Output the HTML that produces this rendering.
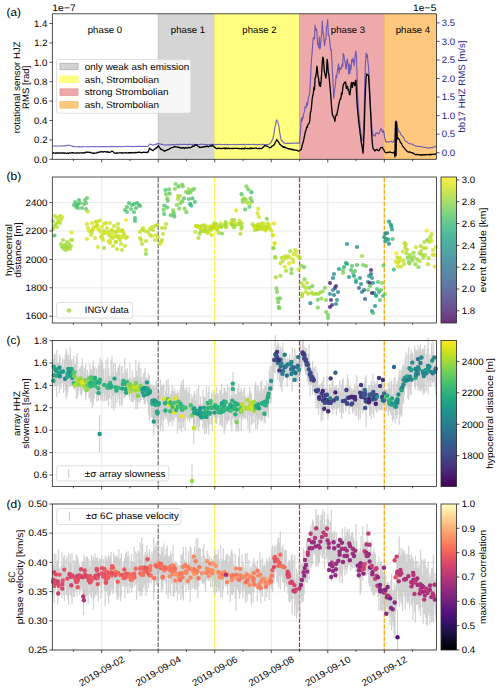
<!DOCTYPE html>
<html><head><meta charset="utf-8"><style>
html,body{margin:0;padding:0;background:#fff;width:500px;height:692px;overflow:hidden}
svg{display:block}
text{font-family:"Liberation Sans",sans-serif}
</style></head><body>
<svg width="500" height="692" viewBox="0 0 500 692">
<rect width="500" height="692" fill="#fff"/>
<rect x="158.22" y="13.80" width="56.52" height="145.50" fill="#d5d5d5"/>
<line x1="158.22" y1="13.80" x2="158.22" y2="159.30" stroke="#bdbdbd" stroke-width="0.8"/>
<rect x="214.74" y="13.80" width="84.78" height="145.50" fill="#ffff80"/>
<line x1="214.74" y1="13.80" x2="214.74" y2="159.30" stroke="#f0f060" stroke-width="0.8"/>
<rect x="299.52" y="13.80" width="84.78" height="145.50" fill="#eeaaaa"/>
<line x1="299.52" y1="13.80" x2="299.52" y2="159.30" stroke="#e09090" stroke-width="0.8"/>
<rect x="384.30" y="13.80" width="52.20" height="145.50" fill="#fec97f"/>
<line x1="384.30" y1="13.80" x2="384.30" y2="159.30" stroke="#f5b060" stroke-width="0.8"/>
<text x="105.00" y="33.00" text-anchor="middle" fill="#000" font-size="9.4" textLength="34.56" lengthAdjust="spacingAndGlyphs" transform="translate(105.00 33.00) skewX(1) translate(-105.00 -33.00)">phase 0</text>
<text x="188.00" y="33.00" text-anchor="middle" fill="#000" font-size="9.4" textLength="34.44" lengthAdjust="spacingAndGlyphs" transform="translate(188.00 33.00) skewX(1) translate(-188.00 -33.00)">phase 1</text>
<text x="259.50" y="33.00" text-anchor="middle" fill="#000" font-size="9.4" textLength="34.37" lengthAdjust="spacingAndGlyphs" transform="translate(259.50 33.00) skewX(1) translate(-259.50 -33.00)">phase 2</text>
<text x="348.00" y="33.00" text-anchor="middle" fill="#000" font-size="9.4" textLength="34.49" lengthAdjust="spacingAndGlyphs" transform="translate(348.00 33.00) skewX(1) translate(-348.00 -33.00)">phase 3</text>
<text x="413.00" y="33.00" text-anchor="middle" fill="#000" font-size="9.4" textLength="34.56" lengthAdjust="spacingAndGlyphs" transform="translate(413.00 33.00) skewX(1) translate(-413.00 -33.00)">phase 4</text>
<polyline points="52.30,146.00 52.90,146.02 53.50,145.98 54.10,145.93 54.70,145.96 55.30,145.92 55.90,146.00 56.50,146.11 57.10,145.96 57.70,145.95 58.30,146.04 58.90,146.03 59.50,146.01 60.10,145.93 60.70,146.00 61.30,146.06 61.90,145.89 62.50,145.96 63.10,145.85 63.70,145.90 64.30,145.80 64.90,145.84 65.50,145.65 66.10,145.69 66.70,145.58 67.30,145.45 67.90,145.11 68.50,145.22 69.10,145.23 69.70,145.44 70.30,145.49 70.90,145.79 71.50,145.96 72.10,146.16 72.70,146.42 73.30,146.40 73.90,146.58 74.50,146.77 75.10,146.75 75.70,146.79 76.30,146.80 76.90,146.79 77.50,146.69 78.10,146.79 78.70,146.89 79.30,146.65 79.90,146.84 80.50,146.78 81.10,146.72 81.70,146.92 82.30,146.82 82.90,146.66 83.50,146.76 84.10,146.80 84.70,146.73 85.30,146.80 85.90,146.73 86.50,146.79 87.10,146.85 87.70,146.68 88.30,146.74 88.90,146.69 89.50,146.73 90.10,146.62 90.70,146.67 91.30,146.69 91.90,146.78 92.50,146.80 93.10,146.59 93.70,146.63 94.30,146.75 94.90,146.53 95.50,146.65 96.10,146.68 96.70,146.78 97.30,146.73 97.90,146.65 98.50,146.64 99.10,146.65 99.70,146.79 100.30,146.63 100.90,146.63 101.50,146.68 102.10,146.64 102.70,146.63 103.30,146.56 103.90,146.64 104.50,146.60 105.10,146.73 105.70,146.68 106.30,146.63 106.90,146.68 107.50,146.59 108.10,146.70 108.70,146.61 109.30,146.66 109.90,146.51 110.50,146.63 111.10,146.47 111.70,146.44 112.30,146.57 112.90,146.52 113.50,146.60 114.10,146.77 114.70,146.52 115.30,146.53 115.90,146.59 116.50,146.61 117.10,146.56 117.70,146.55 118.30,146.62 118.90,146.60 119.50,146.47 120.10,146.55 120.70,146.55 121.30,146.46 121.90,146.56 122.50,146.47 123.10,146.61 123.70,146.55 124.30,146.54 124.90,146.48 125.50,146.51 126.10,146.36 126.70,146.43 127.30,146.54 127.90,146.34 128.50,146.57 129.10,146.36 129.70,146.56 130.30,146.43 130.90,146.56 131.50,146.50 132.10,146.36 132.70,146.58 133.30,146.60 133.90,146.47 134.50,146.45 135.10,146.46 135.70,146.39 136.30,146.55 136.90,146.42 137.50,146.45 138.10,146.39 138.70,146.40 139.30,146.35 139.90,146.54 140.50,146.43 141.10,146.52 141.70,146.44 142.30,146.38 142.90,146.40 143.50,146.38 144.10,146.42 144.70,146.39 145.30,146.39 145.90,146.30 146.50,146.34 147.10,146.54 147.70,146.35 148.30,145.83 148.90,145.00 149.50,144.23 150.10,143.99 150.70,144.38 151.30,144.53 151.90,144.60 152.50,145.12 153.10,145.17 153.70,144.98 154.30,144.69 154.90,144.65 155.50,144.32 156.10,144.19 156.70,143.84 157.30,143.62 157.90,143.87 158.50,143.61 159.10,143.87 159.70,143.93 160.30,143.99 160.90,144.10 161.50,144.39 162.10,144.38 162.70,144.52 163.30,144.66 163.90,144.93 164.50,144.98 165.10,145.04 165.70,144.90 166.30,144.77 166.90,145.02 167.50,145.00 168.10,144.83 168.70,144.88 169.30,144.89 169.90,144.86 170.50,144.85 171.10,144.63 171.70,144.87 172.30,144.47 172.90,144.72 173.50,144.64 174.10,144.67 174.70,144.78 175.30,144.71 175.90,144.34 176.50,144.26 177.10,144.61 177.70,144.36 178.30,144.50 178.90,144.62 179.50,144.27 180.10,144.20 180.70,144.54 181.30,144.51 181.90,144.47 182.50,144.51 183.10,144.38 183.70,144.29 184.30,144.48 184.90,144.36 185.50,144.27 186.10,144.57 186.70,144.49 187.30,144.56 187.90,144.36 188.50,144.41 189.10,144.36 189.70,144.38 190.30,144.53 190.90,144.39 191.50,144.55 192.10,144.55 192.70,144.78 193.30,144.31 193.90,144.62 194.50,144.49 195.10,144.50 195.70,144.30 196.30,144.44 196.90,144.60 197.50,144.49 198.10,144.51 198.70,144.46 199.30,144.66 199.90,144.50 200.50,144.19 201.10,144.40 201.70,144.22 202.30,144.04 202.90,144.43 203.50,144.69 204.10,144.51 204.70,144.34 205.30,144.37 205.90,144.66 206.50,144.52 207.10,144.51 207.70,144.49 208.30,144.51 208.90,144.61 209.50,144.58 210.10,144.53 210.70,144.35 211.30,144.57 211.90,144.40 212.50,144.65 213.10,144.32 213.70,144.48 214.30,144.50 214.90,144.31 215.50,144.74 216.10,144.70 216.70,144.44 217.30,144.61 217.90,144.55 218.50,144.13 219.10,144.54 219.70,144.49 220.30,144.51 220.90,144.35 221.50,144.46 222.10,144.48 222.70,144.67 223.30,144.55 223.90,144.50 224.50,144.71 225.10,144.42 225.70,144.45 226.30,144.25 226.90,144.72 227.50,144.64 228.10,144.63 228.70,144.59 229.30,144.52 229.90,144.53 230.50,144.46 231.10,144.47 231.70,144.51 232.30,144.71 232.90,144.58 233.50,144.49 234.10,144.42 234.70,144.41 235.30,144.72 235.90,144.57 236.50,144.51 237.10,144.45 237.70,144.34 238.30,144.49 238.90,144.62 239.50,144.45 240.10,144.47 240.70,144.47 241.30,144.52 241.90,144.28 242.50,144.47 243.10,144.38 243.70,144.62 244.30,144.39 244.90,144.58 245.50,144.71 246.10,144.46 246.70,144.42 247.30,144.53 247.90,144.50 248.50,144.36 249.10,144.56 249.70,144.78 250.30,144.46 250.90,144.47 251.50,144.35 252.10,144.54 252.70,144.33 253.30,144.35 253.90,144.68 254.50,144.37 255.10,144.65 255.70,144.71 256.30,144.54 256.90,144.58 257.50,144.77 258.10,144.47 258.70,144.42 259.30,144.31 259.90,144.51 260.50,144.71 261.10,144.63 261.70,144.37 262.30,144.38 262.90,144.43 263.50,144.54 264.10,144.47 264.70,144.53 265.30,144.54 265.90,144.46 266.50,144.49 267.10,144.53 267.70,144.49 268.30,144.42 268.90,144.35 269.50,143.85 270.10,143.46 270.70,142.82 271.30,142.41 271.90,140.43 272.50,139.15 273.10,138.32 273.70,135.20 274.30,131.58 274.90,127.19 275.50,125.04 276.10,121.53 276.70,119.81 277.30,121.69 277.90,122.45 278.50,124.67 279.10,127.69 279.70,132.16 280.30,135.71 280.90,139.00 281.50,140.47 282.10,140.64 282.70,141.78 283.30,142.27 283.90,142.77 284.50,142.97 285.10,143.59 285.70,143.45 286.30,143.38 286.90,143.37 287.50,143.18 288.10,143.13 288.70,143.52 289.30,143.32 289.90,143.37 290.50,143.50 291.10,142.96 291.70,143.12 292.30,143.28 292.90,143.30 293.50,143.14 294.10,143.39 294.70,143.21 295.30,142.91 295.90,142.95 296.50,143.26 297.10,143.18 297.70,142.69 298.30,143.31 298.90,143.14 299.50,143.27 300.10,135.96 300.70,127.67 301.30,118.53 301.90,121.58 302.50,117.19 303.10,118.22 303.70,113.50 304.30,112.21 304.90,107.00 305.50,106.58 306.10,107.66 306.70,102.64 307.30,105.51 307.90,102.39 308.50,97.33 309.10,95.94 309.70,93.23 310.30,83.29 310.90,71.00 311.50,58.96 312.10,52.83 312.70,44.49 313.30,37.76 313.90,37.69 314.50,38.89 315.10,25.19 315.70,30.48 316.30,28.67 316.90,30.88 317.50,44.50 318.10,44.02 318.70,47.73 319.30,36.99 319.90,49.11 320.50,46.30 321.10,37.99 321.70,34.00 322.30,20.97 322.90,30.65 323.50,35.12 324.10,41.71 324.70,46.03 325.30,39.47 325.90,39.38 326.50,27.00 327.10,25.04 327.70,19.50 328.30,35.57 328.90,34.84 329.50,38.13 330.10,45.19 330.70,49.86 331.30,49.24 331.90,61.33 332.50,73.60 333.10,83.77 333.70,98.11 334.30,93.01 334.90,87.98 335.50,83.99 336.10,75.32 336.70,77.50 337.30,71.45 337.90,68.22 338.50,63.75 339.10,73.48 339.70,67.06 340.30,69.46 340.90,69.19 341.50,67.75 342.10,63.80 342.70,66.75 343.30,53.57 343.90,54.88 344.50,59.91 345.10,61.98 345.70,69.07 346.30,68.15 346.90,61.02 347.50,58.97 348.10,65.51 348.70,74.02 349.30,64.17 349.90,73.34 350.50,65.33 351.10,69.16 351.70,59.56 352.30,62.25 352.90,58.11 353.50,59.90 354.10,66.03 354.70,61.17 355.30,53.73 355.90,51.13 356.50,57.63 357.10,76.56 357.70,96.81 358.30,107.39 358.90,114.00 359.50,119.50 360.10,126.83 360.70,131.06 361.30,135.94 361.90,140.12 362.50,140.75 363.10,140.57 363.70,123.75 364.30,103.58 364.90,78.63 365.50,63.98 366.10,53.18 366.70,57.09 367.30,54.45 367.90,61.44 368.50,66.97 369.10,76.33 369.70,88.08 370.30,103.04 370.90,112.48 371.50,121.89 372.10,128.88 372.70,133.90 373.30,135.26 373.90,135.17 374.50,136.14 375.10,135.58 375.70,133.40 376.30,133.38 376.90,132.63 377.50,133.05 378.10,133.50 378.70,134.14 379.30,132.59 379.90,131.19 380.50,129.16 381.10,128.64 381.70,129.46 382.30,132.26 382.90,132.49 383.50,130.35 384.10,133.25 384.70,137.93 385.30,139.37 385.90,141.83 386.50,142.07 387.10,142.08 387.70,142.11 388.30,141.86 388.90,141.83 389.50,141.90 390.10,141.70 390.70,141.50 391.30,141.15 391.90,141.83 392.50,142.13 393.10,142.23 393.70,141.42 394.30,140.09 394.90,140.07 395.50,121.68 396.10,120.41 396.70,126.32 397.30,127.21 397.90,128.51 398.50,129.82 399.10,131.93 399.70,131.71 400.30,133.02 400.90,134.75 401.50,135.50 402.10,135.58 402.70,136.52 403.30,137.11 403.90,138.37 404.50,139.78 405.10,140.75 405.70,141.17 406.30,141.80 406.90,141.76 407.50,142.33 408.10,142.90 408.70,143.26 409.30,143.58 409.90,143.65 410.50,143.73 411.10,144.04 411.70,144.03 412.30,144.14 412.90,144.74 413.50,144.95 414.10,145.30 414.70,145.40 415.30,145.83 415.90,146.11 416.50,146.20 417.10,146.15 417.70,146.36 418.30,146.52 418.90,146.54 419.50,146.52 420.10,146.63 420.70,146.75 421.30,146.53 421.90,146.80 422.50,146.96 423.10,147.09 423.70,147.29 424.30,147.37 424.90,147.42 425.50,147.54 426.10,147.70 426.70,147.71 427.30,147.87 427.90,148.07 428.50,148.12 429.10,147.87 429.70,147.81 430.30,147.75 430.90,147.77 431.50,147.58 432.10,147.63 432.70,147.36 433.30,147.24 433.90,147.04 434.50,146.92 435.10,146.74 435.70,146.34 436.30,146.19" fill="none" stroke="#5346b5" stroke-width="1.15" stroke-opacity="0.8" stroke-linejoin="round"/>
<polyline points="52.30,153.07 52.90,152.87 53.50,152.70 54.10,153.21 54.70,153.10 55.30,153.10 55.90,152.90 56.50,153.21 57.10,152.95 57.70,153.22 58.30,152.82 58.90,152.83 59.50,153.04 60.10,152.86 60.70,153.14 61.30,153.05 61.90,152.82 62.50,153.01 63.10,152.93 63.70,153.18 64.30,152.87 64.90,152.91 65.50,153.24 66.10,153.45 66.70,153.40 67.30,153.01 67.90,153.04 68.50,153.31 69.10,152.98 69.70,152.80 70.30,153.02 70.90,153.09 71.50,152.83 72.10,152.67 72.70,152.71 73.30,153.13 73.90,152.85 74.50,152.97 75.10,153.04 75.70,153.12 76.30,152.93 76.90,153.10 77.50,152.82 78.10,152.93 78.70,152.80 79.30,153.23 79.90,152.99 80.50,152.85 81.10,152.93 81.70,152.96 82.30,153.14 82.90,152.68 83.50,152.79 84.10,152.87 84.70,153.16 85.30,152.54 85.90,152.03 86.50,152.17 87.10,152.47 87.70,152.04 88.30,152.04 88.90,152.39 89.50,152.27 90.10,152.36 90.70,152.31 91.30,152.97 91.90,153.11 92.50,153.06 93.10,153.27 93.70,152.90 94.30,153.46 94.90,153.16 95.50,153.15 96.10,153.06 96.70,152.72 97.30,152.32 97.90,152.60 98.50,152.24 99.10,152.19 99.70,152.00 100.30,151.91 100.90,151.39 101.50,151.96 102.10,151.66 102.70,151.89 103.30,152.13 103.90,151.79 104.50,151.49 105.10,151.73 105.70,151.73 106.30,151.93 106.90,152.11 107.50,151.75 108.10,152.28 108.70,151.97 109.30,152.39 109.90,152.37 110.50,152.04 111.10,151.73 111.70,151.27 112.30,151.26 112.90,151.40 113.50,152.09 114.10,152.83 114.70,153.22 115.30,153.26 115.90,153.12 116.50,152.84 117.10,153.25 117.70,152.94 118.30,152.93 118.90,152.87 119.50,152.94 120.10,152.82 120.70,152.88 121.30,152.67 121.90,152.80 122.50,153.32 123.10,152.84 123.70,152.79 124.30,152.94 124.90,152.96 125.50,152.59 126.10,152.76 126.70,152.97 127.30,152.83 127.90,152.79 128.50,153.07 129.10,152.61 129.70,152.75 130.30,152.62 130.90,153.01 131.50,152.31 132.10,152.56 132.70,152.57 133.30,152.80 133.90,152.78 134.50,152.92 135.10,152.32 135.70,152.77 136.30,152.55 136.90,152.47 137.50,152.70 138.10,152.40 138.70,152.15 139.30,152.48 139.90,152.25 140.50,152.41 141.10,152.60 141.70,152.58 142.30,152.82 142.90,152.45 143.50,152.18 144.10,152.32 144.70,152.28 145.30,152.21 145.90,152.53 146.50,152.30 147.10,152.02 147.70,152.54 148.30,151.54 148.90,149.95 149.50,148.23 150.10,148.76 150.70,149.03 151.30,149.70 151.90,149.93 152.50,150.34 153.10,150.60 153.70,149.74 154.30,149.51 154.90,148.99 155.50,148.61 156.10,147.72 156.70,148.03 157.30,147.13 157.90,146.24 158.50,145.79 159.10,146.98 159.70,147.78 160.30,148.36 160.90,149.30 161.50,149.46 162.10,149.95 162.70,149.94 163.30,150.31 163.90,150.76 164.50,151.31 165.10,150.75 165.70,150.60 166.30,150.26 166.90,150.32 167.50,149.67 168.10,149.53 168.70,149.37 169.30,148.89 169.90,148.62 170.50,148.46 171.10,147.79 171.70,147.68 172.30,147.68 172.90,147.56 173.50,147.21 174.10,146.48 174.70,146.59 175.30,146.91 175.90,146.98 176.50,146.94 177.10,146.85 177.70,147.43 178.30,147.23 178.90,147.22 179.50,147.46 180.10,148.19 180.70,147.86 181.30,148.11 181.90,147.67 182.50,148.05 183.10,147.64 183.70,147.76 184.30,148.46 184.90,148.00 185.50,147.67 186.10,147.78 186.70,147.89 187.30,148.12 187.90,147.67 188.50,147.34 189.10,147.73 189.70,147.80 190.30,147.66 190.90,147.67 191.50,147.07 192.10,146.89 192.70,145.97 193.30,146.26 193.90,146.35 194.50,145.59 195.10,145.08 195.70,144.72 196.30,145.37 196.90,144.86 197.50,145.59 198.10,146.22 198.70,146.75 199.30,146.85 199.90,147.51 200.50,147.34 201.10,147.36 201.70,147.19 202.30,146.80 202.90,147.03 203.50,147.19 204.10,146.55 204.70,146.67 205.30,146.84 205.90,146.22 206.50,146.51 207.10,146.03 207.70,146.61 208.30,146.89 208.90,146.71 209.50,145.90 210.10,146.11 210.70,145.81 211.30,145.71 211.90,146.09 212.50,145.04 213.10,145.85 213.70,146.08 214.30,147.12 214.90,147.35 215.50,147.72 216.10,148.47 216.70,148.58 217.30,148.41 217.90,148.52 218.50,148.27 219.10,147.87 219.70,148.62 220.30,148.57 220.90,148.44 221.50,148.42 222.10,148.66 222.70,148.29 223.30,148.22 223.90,148.35 224.50,148.69 225.10,148.06 225.70,148.70 226.30,148.24 226.90,148.13 227.50,148.71 228.10,148.38 228.70,148.08 229.30,148.31 229.90,148.63 230.50,148.70 231.10,148.29 231.70,148.50 232.30,148.58 232.90,148.24 233.50,148.49 234.10,148.39 234.70,148.27 235.30,148.28 235.90,148.42 236.50,148.41 237.10,148.26 237.70,148.29 238.30,148.68 238.90,148.45 239.50,148.62 240.10,148.70 240.70,148.55 241.30,148.96 241.90,148.20 242.50,148.60 243.10,148.32 243.70,148.86 244.30,148.82 244.90,147.92 245.50,148.16 246.10,148.56 246.70,148.60 247.30,148.58 247.90,148.38 248.50,148.51 249.10,148.56 249.70,148.38 250.30,148.65 250.90,147.84 251.50,148.56 252.10,148.14 252.70,148.64 253.30,148.34 253.90,148.18 254.50,148.49 255.10,148.17 255.70,148.17 256.30,148.01 256.90,148.39 257.50,148.52 258.10,148.65 258.70,148.36 259.30,148.66 259.90,148.40 260.50,148.38 261.10,148.54 261.70,148.66 262.30,148.01 262.90,147.43 263.50,146.85 264.10,146.33 264.70,145.40 265.30,145.87 265.90,145.65 266.50,146.18 267.10,146.02 267.70,146.64 268.30,146.90 268.90,146.92 269.50,147.86 270.10,147.54 270.70,147.57 271.30,146.97 271.90,146.11 272.50,145.81 273.10,145.71 273.70,145.21 274.30,144.52 274.90,143.39 275.50,141.73 276.10,141.40 276.70,139.42 277.30,140.63 277.90,141.02 278.50,141.94 279.10,143.06 279.70,144.15 280.30,144.45 280.90,145.28 281.50,145.85 282.10,145.78 282.70,146.35 283.30,147.33 283.90,146.78 284.50,147.50 285.10,147.15 285.70,147.79 286.30,147.81 286.90,148.05 287.50,148.39 288.10,148.86 288.70,148.66 289.30,148.82 289.90,148.75 290.50,149.24 291.10,149.17 291.70,149.54 292.30,149.47 292.90,149.97 293.50,149.32 294.10,149.79 294.70,150.16 295.30,150.03 295.90,150.07 296.50,150.30 297.10,150.20 297.70,150.63 298.30,151.22 298.90,151.08 299.50,150.76 300.10,150.28 300.70,149.73 301.30,149.36 301.90,146.48 302.50,144.07 303.10,142.32 303.70,139.97 304.30,136.91 304.90,133.99 305.50,131.22 306.10,130.00 306.70,126.88 307.30,127.62 307.90,124.55 308.50,123.83 309.10,123.52 309.70,120.93 310.30,113.38 310.90,111.24 311.50,107.01 312.10,99.83 312.70,95.79 313.30,93.67 313.90,87.09 314.50,89.77 315.10,77.77 315.70,76.92 316.30,73.20 316.90,66.05 317.50,70.62 318.10,76.69 318.70,79.14 319.30,85.74 319.90,82.35 320.50,86.32 321.10,81.13 321.70,72.53 322.30,61.66 322.90,57.18 323.50,59.17 324.10,69.14 324.70,73.19 325.30,75.48 325.90,78.00 326.50,73.30 327.10,59.40 327.70,63.21 328.30,72.78 328.90,74.39 329.50,81.31 330.10,87.76 330.70,94.52 331.30,103.58 331.90,109.85 332.50,115.16 333.10,115.88 333.70,117.04 334.30,118.46 334.90,121.46 335.50,116.87 336.10,114.97 336.70,115.32 337.30,112.17 337.90,109.40 338.50,106.22 339.10,102.92 339.70,100.81 340.30,98.70 340.90,98.77 341.50,92.86 342.10,94.48 342.70,88.94 343.30,84.53 343.90,83.86 344.50,82.23 345.10,82.87 345.70,82.06 346.30,88.45 346.90,86.83 347.50,86.15 348.10,90.43 348.70,89.22 349.30,94.18 349.90,94.73 350.50,91.00 351.10,83.89 351.70,82.43 352.30,87.39 352.90,83.59 353.50,82.30 354.10,83.67 354.70,85.72 355.30,81.91 355.90,80.28 356.50,92.65 357.10,103.93 357.70,111.73 358.30,117.68 358.90,123.74 359.50,127.68 360.10,133.13 360.70,137.43 361.30,142.63 361.90,145.50 362.50,149.53 363.10,153.13 363.70,141.12 364.30,127.26 364.90,105.16 365.50,88.72 366.10,77.02 366.70,73.97 367.30,75.14 367.90,74.96 368.50,75.13 369.10,85.15 369.70,95.51 370.30,107.01 370.90,118.09 371.50,131.78 372.10,139.64 372.70,147.02 373.30,148.93 373.90,149.28 374.50,150.87 375.10,150.88 375.70,150.16 376.30,149.46 376.90,149.30 377.50,149.91 378.10,150.49 378.70,150.74 379.30,150.35 379.90,148.99 380.50,147.84 381.10,147.70 381.70,147.70 382.30,147.18 382.90,148.51 383.50,149.42 384.10,150.45 384.70,151.64 385.30,152.40 385.90,152.69 386.50,152.70 387.10,152.80 387.70,152.26 388.30,152.48 388.90,152.23 389.50,152.16 390.10,151.96 390.70,152.23 391.30,152.50 391.90,152.78 392.50,152.90 393.10,152.79 393.70,152.45 394.30,151.93 394.90,156.93 395.50,121.95 396.10,155.50 396.70,121.98 397.30,139.11 397.90,137.71 398.50,138.70 399.10,139.33 399.70,140.39 400.30,142.43 400.90,142.93 401.50,143.25 402.10,145.07 402.70,146.25 403.30,146.73 403.90,147.66 404.50,148.43 405.10,149.17 405.70,149.84 406.30,150.55 406.90,151.15 407.50,151.75 408.10,152.02 408.70,152.03 409.30,151.74 409.90,152.17 410.50,152.41 411.10,152.42 411.70,152.83 412.30,152.72 412.90,152.88 413.50,153.65 414.10,153.80 414.70,154.01 415.30,154.45 415.90,154.78 416.50,154.72 417.10,154.20 417.70,154.59 418.30,154.67 418.90,154.60 419.50,154.87 420.10,155.11 420.70,154.81 421.30,154.71 421.90,155.38 422.50,154.86 423.10,154.67 423.70,154.93 424.30,154.93 424.90,154.67 425.50,154.93 426.10,154.64 426.70,154.52 427.30,154.70 427.90,154.78 428.50,154.46 429.10,154.61 429.70,154.48 430.30,155.02 430.90,154.27 431.50,154.65 432.10,154.32 432.70,154.26 433.30,154.39 433.90,154.38 434.50,154.41 435.10,154.18 435.70,153.95 436.30,153.92" fill="none" stroke="#000000" stroke-width="1.3" stroke-opacity="1" stroke-linejoin="round"/>
<rect x="56.60" y="59.60" width="134.20" height="53.60" rx="2" ry="2" fill="#ffffff" fill-opacity="0.8" stroke="#d6d6d6" stroke-width="0.8"/>
<rect x="60" y="63.30" width="18" height="6.4" fill="#d3d3d3" stroke="#b0b0b0" stroke-width="0.8"/>
<text x="84.80" y="69.80" text-anchor="start" fill="#000" font-size="9.4" textLength="104.50" lengthAdjust="spacingAndGlyphs" transform="translate(84.80 69.80) skewX(1) translate(-84.80 -69.80)">only weak ash emission</text>
<rect x="60" y="76.10" width="18" height="6.4" fill="#ffff80" stroke="#ffff60" stroke-width="0.8"/>
<text x="84.80" y="82.60" text-anchor="start" fill="#000" font-size="9.4" textLength="74.18" lengthAdjust="spacingAndGlyphs" transform="translate(84.80 82.60) skewX(1) translate(-84.80 -82.60)">ash, Strombolian</text>
<rect x="60" y="88.90" width="18" height="6.4" fill="#eeaaaa" stroke="#e08f8f" stroke-width="0.8"/>
<text x="84.80" y="95.40" text-anchor="start" fill="#000" font-size="9.4" textLength="83.74" lengthAdjust="spacingAndGlyphs" transform="translate(84.80 95.40) skewX(1) translate(-84.80 -95.40)">strong Strombolian</text>
<rect x="60" y="101.70" width="18" height="6.4" fill="#fec97f" stroke="#f8b860" stroke-width="0.8"/>
<text x="84.80" y="108.20" text-anchor="start" fill="#000" font-size="9.4" textLength="74.18" lengthAdjust="spacingAndGlyphs" transform="translate(84.80 108.20) skewX(1) translate(-84.80 -108.20)">ash, Strombolian</text>
<rect x="52.30" y="13.80" width="384.20" height="145.50" fill="none" stroke="#262626" stroke-width="0.8"/>
<line x1="73.44" y1="159.30" x2="73.44" y2="161.10" stroke="#262626" stroke-width="0.8"/>
<line x1="101.70" y1="159.30" x2="101.70" y2="162.40" stroke="#262626" stroke-width="0.8"/>
<line x1="129.96" y1="159.30" x2="129.96" y2="161.10" stroke="#262626" stroke-width="0.8"/>
<line x1="158.22" y1="159.30" x2="158.22" y2="162.40" stroke="#262626" stroke-width="0.8"/>
<line x1="186.48" y1="159.30" x2="186.48" y2="161.10" stroke="#262626" stroke-width="0.8"/>
<line x1="214.74" y1="159.30" x2="214.74" y2="162.40" stroke="#262626" stroke-width="0.8"/>
<line x1="243.00" y1="159.30" x2="243.00" y2="161.10" stroke="#262626" stroke-width="0.8"/>
<line x1="271.26" y1="159.30" x2="271.26" y2="162.40" stroke="#262626" stroke-width="0.8"/>
<line x1="299.52" y1="159.30" x2="299.52" y2="161.10" stroke="#262626" stroke-width="0.8"/>
<line x1="327.78" y1="159.30" x2="327.78" y2="162.40" stroke="#262626" stroke-width="0.8"/>
<line x1="356.04" y1="159.30" x2="356.04" y2="161.10" stroke="#262626" stroke-width="0.8"/>
<line x1="384.30" y1="159.30" x2="384.30" y2="162.40" stroke="#262626" stroke-width="0.8"/>
<line x1="412.56" y1="159.30" x2="412.56" y2="161.10" stroke="#262626" stroke-width="0.8"/>
<line x1="49.40" y1="159.30" x2="52.30" y2="159.30" stroke="#262626" stroke-width="0.8"/>
<text x="47.50" y="162.60" text-anchor="end" fill="#000" font-size="9.4" textLength="13.57" lengthAdjust="spacingAndGlyphs" transform="translate(47.50 162.60) skewX(1) translate(-47.50 -162.60)">0.0</text>
<line x1="49.40" y1="139.90" x2="52.30" y2="139.90" stroke="#262626" stroke-width="0.8"/>
<text x="47.50" y="143.20" text-anchor="end" fill="#000" font-size="9.4" textLength="13.37" lengthAdjust="spacingAndGlyphs" transform="translate(47.50 143.20) skewX(1) translate(-47.50 -143.20)">0.2</text>
<line x1="49.40" y1="120.50" x2="52.30" y2="120.50" stroke="#262626" stroke-width="0.8"/>
<text x="47.50" y="123.80" text-anchor="end" fill="#000" font-size="9.4" textLength="13.56" lengthAdjust="spacingAndGlyphs" transform="translate(47.50 123.80) skewX(1) translate(-47.50 -123.80)">0.4</text>
<line x1="49.40" y1="101.10" x2="52.30" y2="101.10" stroke="#262626" stroke-width="0.8"/>
<text x="47.50" y="104.40" text-anchor="end" fill="#000" font-size="9.4" textLength="13.66" lengthAdjust="spacingAndGlyphs" transform="translate(47.50 104.40) skewX(1) translate(-47.50 -104.40)">0.6</text>
<line x1="49.40" y1="81.70" x2="52.30" y2="81.70" stroke="#262626" stroke-width="0.8"/>
<text x="47.50" y="85.00" text-anchor="end" fill="#000" font-size="9.4" textLength="13.61" lengthAdjust="spacingAndGlyphs" transform="translate(47.50 85.00) skewX(1) translate(-47.50 -85.00)">0.8</text>
<line x1="49.40" y1="62.30" x2="52.30" y2="62.30" stroke="#262626" stroke-width="0.8"/>
<text x="47.50" y="65.60" text-anchor="end" fill="#000" font-size="9.4" textLength="13.56" lengthAdjust="spacingAndGlyphs" transform="translate(47.50 65.60) skewX(1) translate(-47.50 -65.60)">1.0</text>
<line x1="49.40" y1="42.90" x2="52.30" y2="42.90" stroke="#262626" stroke-width="0.8"/>
<text x="47.50" y="46.20" text-anchor="end" fill="#000" font-size="9.4" textLength="13.35" lengthAdjust="spacingAndGlyphs" transform="translate(47.50 46.20) skewX(1) translate(-47.50 -46.20)">1.2</text>
<line x1="49.40" y1="23.50" x2="52.30" y2="23.50" stroke="#262626" stroke-width="0.8"/>
<text x="47.50" y="26.80" text-anchor="end" fill="#000" font-size="9.4" textLength="13.55" lengthAdjust="spacingAndGlyphs" transform="translate(47.50 26.80) skewX(1) translate(-47.50 -26.80)">1.4</text>
<text x="52.30" y="11.00" text-anchor="start" fill="#000" font-size="9.4" textLength="23.59" lengthAdjust="spacingAndGlyphs" transform="translate(52.30 11.00) skewX(1) translate(-52.30 -11.00)">1e−7</text>
<text x="436.50" y="11.00" text-anchor="end" fill="#000" font-size="9.4" textLength="23.48" lengthAdjust="spacingAndGlyphs" transform="translate(436.50 11.00) skewX(1) translate(-436.50 -11.00)">1e−5</text>
<line x1="436.50" y1="152.70" x2="439.60" y2="152.70" stroke="#22228f" stroke-width="0.8"/>
<text x="441.70" y="156.00" text-anchor="start" fill="#22228f" font-size="9.4" textLength="13.57" lengthAdjust="spacingAndGlyphs" transform="translate(441.70 156.00) skewX(1) translate(-441.70 -156.00)">0.0</text>
<line x1="436.50" y1="134.15" x2="439.60" y2="134.15" stroke="#22228f" stroke-width="0.8"/>
<text x="441.70" y="137.45" text-anchor="start" fill="#22228f" font-size="9.4" textLength="13.42" lengthAdjust="spacingAndGlyphs" transform="translate(441.70 137.45) skewX(1) translate(-441.70 -137.45)">0.5</text>
<line x1="436.50" y1="115.60" x2="439.60" y2="115.60" stroke="#22228f" stroke-width="0.8"/>
<text x="441.70" y="118.90" text-anchor="start" fill="#22228f" font-size="9.4" textLength="13.56" lengthAdjust="spacingAndGlyphs" transform="translate(441.70 118.90) skewX(1) translate(-441.70 -118.90)">1.0</text>
<line x1="436.50" y1="97.05" x2="439.60" y2="97.05" stroke="#22228f" stroke-width="0.8"/>
<text x="441.70" y="100.35" text-anchor="start" fill="#22228f" font-size="9.4" textLength="13.40" lengthAdjust="spacingAndGlyphs" transform="translate(441.70 100.35) skewX(1) translate(-441.70 -100.35)">1.5</text>
<line x1="436.50" y1="78.50" x2="439.60" y2="78.50" stroke="#22228f" stroke-width="0.8"/>
<text x="441.70" y="81.80" text-anchor="start" fill="#22228f" font-size="9.4" textLength="13.62" lengthAdjust="spacingAndGlyphs" transform="translate(441.70 81.80) skewX(1) translate(-441.70 -81.80)">2.0</text>
<line x1="436.50" y1="59.95" x2="439.60" y2="59.95" stroke="#22228f" stroke-width="0.8"/>
<text x="441.70" y="63.25" text-anchor="start" fill="#22228f" font-size="9.4" textLength="13.46" lengthAdjust="spacingAndGlyphs" transform="translate(441.70 63.25) skewX(1) translate(-441.70 -63.25)">2.5</text>
<line x1="436.50" y1="41.40" x2="439.60" y2="41.40" stroke="#22228f" stroke-width="0.8"/>
<text x="441.70" y="44.70" text-anchor="start" fill="#22228f" font-size="9.4" textLength="13.46" lengthAdjust="spacingAndGlyphs" transform="translate(441.70 44.70) skewX(1) translate(-441.70 -44.70)">3.0</text>
<line x1="436.50" y1="22.85" x2="439.60" y2="22.85" stroke="#22228f" stroke-width="0.8"/>
<text x="441.70" y="26.15" text-anchor="start" fill="#22228f" font-size="9.4" textLength="13.31" lengthAdjust="spacingAndGlyphs" transform="translate(441.70 26.15) skewX(1) translate(-441.70 -26.15)">3.5</text>
<text x="464.80" y="86.55" text-anchor="middle" fill="#22228f" font-size="9.4" textLength="92.06" lengthAdjust="spacingAndGlyphs" transform="rotate(-90 464.8 86.55) translate(464.80 86.55) skewX(1) translate(-464.80 -86.55)">bb17 HHZ RMS [m/s]</text>
<text x="19.60" y="87.30" text-anchor="middle" fill="#000" font-size="9.4" textLength="92.08" lengthAdjust="spacingAndGlyphs" transform="rotate(-90 19.6 87.3) translate(19.60 87.30) skewX(1) translate(-19.60 -87.30)">rotational sensor HJZ</text>
<text x="28.90" y="87.30" text-anchor="middle" fill="#000" font-size="9.4" textLength="43.41" lengthAdjust="spacingAndGlyphs" transform="rotate(-90 28.9 87.3) translate(28.90 87.30) skewX(1) translate(-28.90 -87.30)">RMS [rad]</text>
<text x="6.50" y="16.30" text-anchor="start" fill="#000" font-size="11.3" textLength="14.56" lengthAdjust="spacingAndGlyphs" transform="translate(6.50 16.30) skewX(1) translate(-6.50 -16.30)">(a)</text>
<line x1="52.30" y1="316.20" x2="436.50" y2="316.20" stroke="#e3e3e3" stroke-width="0.8"/>
<line x1="52.30" y1="287.80" x2="436.50" y2="287.80" stroke="#e3e3e3" stroke-width="0.8"/>
<line x1="52.30" y1="259.40" x2="436.50" y2="259.40" stroke="#e3e3e3" stroke-width="0.8"/>
<line x1="52.30" y1="231.00" x2="436.50" y2="231.00" stroke="#e3e3e3" stroke-width="0.8"/>
<line x1="52.30" y1="202.60" x2="436.50" y2="202.60" stroke="#e3e3e3" stroke-width="0.8"/>
<line x1="101.70" y1="177.00" x2="101.70" y2="323.00" stroke="#e3e3e3" stroke-width="0.8"/>
<line x1="158.22" y1="177.00" x2="158.22" y2="323.00" stroke="#e3e3e3" stroke-width="0.8"/>
<line x1="214.74" y1="177.00" x2="214.74" y2="323.00" stroke="#e3e3e3" stroke-width="0.8"/>
<line x1="271.26" y1="177.00" x2="271.26" y2="323.00" stroke="#e3e3e3" stroke-width="0.8"/>
<line x1="327.78" y1="177.00" x2="327.78" y2="323.00" stroke="#e3e3e3" stroke-width="0.8"/>
<line x1="384.30" y1="177.00" x2="384.30" y2="323.00" stroke="#e3e3e3" stroke-width="0.8"/>
<line x1="158.22" y1="177.50" x2="158.22" y2="323.00" stroke="#6e6e6e" stroke-width="1.2" stroke-dasharray="4.5 1.5"/>
<line x1="214.74" y1="177.50" x2="214.74" y2="323.00" stroke="#ffff20" stroke-width="1.2" stroke-dasharray="4.5 1.5"/>
<line x1="299.52" y1="177.50" x2="299.52" y2="323.00" stroke="#d62728" stroke-width="1.2" stroke-dasharray="4.5 1.5"/>
<line x1="384.30" y1="177.50" x2="384.30" y2="323.00" stroke="#ffa500" stroke-width="1.2" stroke-dasharray="4.5 1.5"/>
<g fill-opacity="0.8"><circle cx="55.0" cy="216.0" r="2.10" fill="#bddf26"/><circle cx="57.0" cy="218.0" r="2.10" fill="#bddf26"/><circle cx="60.0" cy="216.0" r="2.10" fill="#b0dd2f"/><circle cx="61.0" cy="219.0" r="2.10" fill="#bddf26"/><circle cx="58.0" cy="222.0" r="2.10" fill="#b0dd2f"/><circle cx="56.0" cy="224.0" r="2.10" fill="#a2da37"/><circle cx="54.0" cy="226.0" r="2.10" fill="#a2da37"/><circle cx="53.0" cy="229.0" r="2.10" fill="#95d840"/><circle cx="59.0" cy="221.0" r="2.10" fill="#bddf26"/><circle cx="62.0" cy="217.0" r="2.10" fill="#cae11f"/><circle cx="53.0" cy="221.0" r="2.10" fill="#a2da37"/><circle cx="57.0" cy="227.0" r="2.10" fill="#b0dd2f"/><circle cx="60.0" cy="223.0" r="2.10" fill="#bddf26"/><circle cx="54.5" cy="235.5" r="2.10" fill="#44bf70"/><circle cx="63.0" cy="240.0" r="2.10" fill="#a2da37"/><circle cx="61.0" cy="244.0" r="2.10" fill="#9bd93c"/><circle cx="62.0" cy="247.0" r="2.10" fill="#95d840"/><circle cx="64.0" cy="249.0" r="2.10" fill="#9bd93c"/><circle cx="66.0" cy="250.0" r="2.10" fill="#a2da37"/><circle cx="68.0" cy="248.0" r="2.10" fill="#9bd93c"/><circle cx="70.0" cy="249.0" r="2.10" fill="#b0dd2f"/><circle cx="69.0" cy="244.0" r="2.10" fill="#a2da37"/><circle cx="67.0" cy="242.0" r="2.10" fill="#a2da37"/><circle cx="65.0" cy="245.0" r="2.10" fill="#9bd93c"/><circle cx="71.0" cy="246.0" r="2.10" fill="#a8db34"/><circle cx="72.0" cy="240.0" r="2.10" fill="#a2da37"/><circle cx="64.0" cy="246.0" r="2.10" fill="#9bd93c"/><circle cx="67.0" cy="247.0" r="2.10" fill="#9bd93c"/><circle cx="71.5" cy="232.5" r="2.10" fill="#dfe318"/><circle cx="71.0" cy="240.0" r="2.10" fill="#b0dd2f"/><circle cx="74.0" cy="205.0" r="2.10" fill="#4ec36b"/><circle cx="75.0" cy="202.0" r="2.10" fill="#4ec36b"/><circle cx="76.0" cy="207.0" r="2.10" fill="#58c765"/><circle cx="78.0" cy="204.0" r="2.10" fill="#4ec36b"/><circle cx="80.0" cy="203.0" r="2.10" fill="#58c765"/><circle cx="78.0" cy="208.0" r="2.10" fill="#4ec36b"/><circle cx="82.0" cy="208.0" r="2.10" fill="#58c765"/><circle cx="84.0" cy="204.0" r="2.10" fill="#58c765"/><circle cx="86.0" cy="203.0" r="2.10" fill="#63cb5f"/><circle cx="85.0" cy="200.0" r="2.10" fill="#58c765"/><circle cx="87.0" cy="198.0" r="2.10" fill="#63cb5f"/><circle cx="86.0" cy="209.0" r="2.10" fill="#58c765"/><circle cx="79.0" cy="200.0" r="2.10" fill="#4ec36b"/><circle cx="77.0" cy="205.0" r="2.10" fill="#44bf70"/><circle cx="87.0" cy="224.0" r="2.10" fill="#d8e219"/><circle cx="88.0" cy="228.0" r="2.10" fill="#d8e219"/><circle cx="89.0" cy="231.0" r="2.10" fill="#d8e219"/><circle cx="92.0" cy="223.0" r="2.10" fill="#d8e219"/><circle cx="94.0" cy="227.0" r="2.10" fill="#d2e21b"/><circle cx="96.0" cy="226.0" r="2.10" fill="#d2e21b"/><circle cx="97.0" cy="222.0" r="2.10" fill="#cae11f"/><circle cx="98.0" cy="229.0" r="2.10" fill="#d8e219"/><circle cx="100.0" cy="231.0" r="2.10" fill="#d8e219"/><circle cx="101.0" cy="237.0" r="2.10" fill="#cae11f"/><circle cx="103.0" cy="240.0" r="2.10" fill="#cae11f"/><circle cx="104.0" cy="224.0" r="2.10" fill="#dfe318"/><circle cx="106.0" cy="223.0" r="2.10" fill="#cae11f"/><circle cx="107.0" cy="228.0" r="2.10" fill="#cae11f"/><circle cx="108.0" cy="232.0" r="2.10" fill="#bddf26"/><circle cx="110.0" cy="223.0" r="2.10" fill="#cae11f"/><circle cx="112.0" cy="230.0" r="2.10" fill="#d2e21b"/><circle cx="113.0" cy="238.0" r="2.10" fill="#cae11f"/><circle cx="115.0" cy="232.0" r="2.10" fill="#bddf26"/><circle cx="116.0" cy="242.0" r="2.10" fill="#bddf26"/><circle cx="118.0" cy="228.0" r="2.10" fill="#cae11f"/><circle cx="119.0" cy="236.0" r="2.10" fill="#cae11f"/><circle cx="120.0" cy="240.0" r="2.10" fill="#bddf26"/><circle cx="121.0" cy="244.0" r="2.10" fill="#bddf26"/><circle cx="122.0" cy="230.0" r="2.10" fill="#b0dd2f"/><circle cx="123.0" cy="236.0" r="2.10" fill="#cae11f"/><circle cx="124.0" cy="234.0" r="2.10" fill="#bddf26"/><circle cx="125.0" cy="246.0" r="2.10" fill="#cae11f"/><circle cx="126.0" cy="238.0" r="2.10" fill="#cae11f"/><circle cx="127.0" cy="237.0" r="2.10" fill="#bddf26"/><circle cx="111.0" cy="237.0" r="2.10" fill="#bddf26"/><circle cx="109.0" cy="235.0" r="2.10" fill="#cae11f"/><circle cx="105.0" cy="233.0" r="2.10" fill="#cae11f"/><circle cx="95.0" cy="238.0" r="2.10" fill="#cae11f"/><circle cx="118.0" cy="224.0" r="2.10" fill="#bddf26"/><circle cx="117.0" cy="249.0" r="2.10" fill="#bddf26"/><circle cx="113.0" cy="246.0" r="2.10" fill="#cae11f"/><circle cx="104.0" cy="231.0" r="2.10" fill="#bddf26"/><circle cx="91.0" cy="235.0" r="2.10" fill="#d2e21b"/><circle cx="87.0" cy="239.0" r="2.10" fill="#dfe318"/><circle cx="104.0" cy="248.0" r="2.10" fill="#9bd93c"/><circle cx="110.0" cy="243.0" r="2.10" fill="#cae11f"/><circle cx="98.0" cy="247.0" r="2.10" fill="#d2e21b"/><circle cx="122.0" cy="250.0" r="2.10" fill="#bddf26"/><circle cx="93.0" cy="229.0" r="2.10" fill="#d2e21b"/><circle cx="102.0" cy="227.0" r="2.10" fill="#d2e21b"/><circle cx="114.0" cy="226.0" r="2.10" fill="#bddf26"/><circle cx="110.0" cy="240.8" r="2.10" fill="#c8e020"/><circle cx="96.0" cy="221.7" r="2.10" fill="#c8e020"/><circle cx="116.8" cy="231.7" r="2.10" fill="#b5de2b"/><circle cx="108.7" cy="241.3" r="2.10" fill="#e2e418"/><circle cx="122.5" cy="237.2" r="2.10" fill="#dae319"/><circle cx="97.5" cy="225.5" r="2.10" fill="#c5e021"/><circle cx="99.9" cy="220.6" r="2.10" fill="#cde11d"/><circle cx="114.8" cy="236.0" r="2.10" fill="#d5e21a"/><circle cx="102.4" cy="234.0" r="2.10" fill="#c2df23"/><circle cx="111.3" cy="230.7" r="2.10" fill="#cde11d"/><circle cx="87.7" cy="211.4" r="2.10" fill="#bade28"/><circle cx="102.4" cy="237.9" r="2.10" fill="#d2e21b"/><circle cx="122.7" cy="231.2" r="2.10" fill="#b5de2b"/><circle cx="111.8" cy="234.1" r="2.10" fill="#dfe318"/><circle cx="91.9" cy="230.4" r="2.10" fill="#cae11f"/><circle cx="91.7" cy="232.2" r="2.10" fill="#bddf26"/><circle cx="115.5" cy="242.1" r="2.10" fill="#c2df23"/><circle cx="118.6" cy="238.0" r="2.10" fill="#d0e11c"/><circle cx="104.3" cy="232.9" r="2.10" fill="#dde318"/><circle cx="116.9" cy="236.3" r="2.10" fill="#c0df25"/><circle cx="119.8" cy="230.8" r="2.10" fill="#d0e11c"/><circle cx="121.9" cy="231.2" r="2.10" fill="#d8e219"/><circle cx="125.0" cy="210.0" r="2.10" fill="#4ec36b"/><circle cx="127.0" cy="207.0" r="2.10" fill="#4ec36b"/><circle cx="129.0" cy="203.0" r="2.10" fill="#44bf70"/><circle cx="132.0" cy="205.0" r="2.10" fill="#4ec36b"/><circle cx="134.0" cy="204.0" r="2.10" fill="#44bf70"/><circle cx="137.0" cy="203.0" r="2.10" fill="#3bbb75"/><circle cx="139.0" cy="205.0" r="2.10" fill="#44bf70"/><circle cx="140.0" cy="206.0" r="2.10" fill="#4ec36b"/><circle cx="131.0" cy="209.0" r="2.10" fill="#58c765"/><circle cx="134.0" cy="212.0" r="2.10" fill="#4ec36b"/><circle cx="136.0" cy="208.0" r="2.10" fill="#44bf70"/><circle cx="127.0" cy="212.0" r="2.10" fill="#58c765"/><circle cx="135.0" cy="218.0" r="2.10" fill="#44bf70"/><circle cx="135.0" cy="221.0" r="2.10" fill="#44bf70"/><circle cx="126.0" cy="220.0" r="2.10" fill="#ece51b"/><circle cx="140.0" cy="232.0" r="2.10" fill="#bddf26"/><circle cx="142.0" cy="230.0" r="2.10" fill="#cae11f"/><circle cx="143.0" cy="228.0" r="2.10" fill="#cae11f"/><circle cx="145.0" cy="231.0" r="2.10" fill="#bddf26"/><circle cx="140.0" cy="238.0" r="2.10" fill="#bddf26"/><circle cx="141.0" cy="240.0" r="2.10" fill="#bddf26"/><circle cx="142.0" cy="244.0" r="2.10" fill="#b0dd2f"/><circle cx="146.0" cy="241.0" r="2.10" fill="#bddf26"/><circle cx="146.0" cy="250.0" r="2.10" fill="#b0dd2f"/><circle cx="148.0" cy="232.0" r="2.10" fill="#bddf26"/><circle cx="150.0" cy="229.0" r="2.10" fill="#bddf26"/><circle cx="152.0" cy="227.0" r="2.10" fill="#cae11f"/><circle cx="153.0" cy="230.0" r="2.10" fill="#bddf26"/><circle cx="155.0" cy="226.0" r="2.10" fill="#bddf26"/><circle cx="156.0" cy="235.0" r="2.10" fill="#cae11f"/><circle cx="158.0" cy="237.0" r="2.10" fill="#d2e21b"/><circle cx="150.0" cy="235.0" r="2.10" fill="#bddf26"/><circle cx="152.0" cy="236.0" r="2.10" fill="#bddf26"/><circle cx="155.0" cy="240.0" r="2.10" fill="#cae11f"/><circle cx="160.0" cy="244.0" r="2.10" fill="#d2e21b"/><circle cx="161.0" cy="242.0" r="2.10" fill="#d2e21b"/><circle cx="162.0" cy="240.0" r="2.10" fill="#bddf26"/><circle cx="163.0" cy="234.0" r="2.10" fill="#bddf26"/><circle cx="165.0" cy="228.0" r="2.10" fill="#bddf26"/><circle cx="166.0" cy="224.0" r="2.10" fill="#b0dd2f"/><circle cx="162.0" cy="228.0" r="2.10" fill="#bddf26"/><circle cx="157.0" cy="225.0" r="2.10" fill="#bddf26"/><circle cx="146.0" cy="254.0" r="2.10" fill="#86d549"/><circle cx="175.6" cy="184.0" r="2.10" fill="#7ad151"/><circle cx="175.0" cy="188.8" r="2.10" fill="#86d549"/><circle cx="178.6" cy="186.4" r="2.10" fill="#58c765"/><circle cx="182.2" cy="184.6" r="2.10" fill="#7ad151"/><circle cx="182.8" cy="186.4" r="2.10" fill="#7ad151"/><circle cx="165.4" cy="190.0" r="2.10" fill="#4ec36b"/><circle cx="169.0" cy="189.4" r="2.10" fill="#6ece58"/><circle cx="169.6" cy="193.6" r="2.10" fill="#58c765"/><circle cx="166.0" cy="194.2" r="2.10" fill="#7ad151"/><circle cx="167.2" cy="198.4" r="2.10" fill="#7ad151"/><circle cx="167.8" cy="200.8" r="2.10" fill="#63cb5f"/><circle cx="178.0" cy="196.0" r="2.10" fill="#bddf26"/><circle cx="179.8" cy="196.0" r="2.10" fill="#b0dd2f"/><circle cx="178.0" cy="199.0" r="2.10" fill="#a2da37"/><circle cx="184.0" cy="198.4" r="2.10" fill="#58c765"/><circle cx="182.2" cy="201.4" r="2.10" fill="#6ece58"/><circle cx="180.4" cy="203.2" r="2.10" fill="#7ad151"/><circle cx="176.8" cy="205.0" r="2.10" fill="#86d549"/><circle cx="179.2" cy="208.6" r="2.10" fill="#7ad151"/><circle cx="188.8" cy="189.4" r="2.10" fill="#95d840"/><circle cx="188.2" cy="193.0" r="2.10" fill="#63cb5f"/><circle cx="194.2" cy="188.8" r="2.10" fill="#7ad151"/><circle cx="192.4" cy="190.0" r="2.10" fill="#6ece58"/><circle cx="188.8" cy="199.0" r="2.10" fill="#58c765"/><circle cx="192.4" cy="198.4" r="2.10" fill="#44bf70"/><circle cx="194.8" cy="202.0" r="2.10" fill="#4ec36b"/><circle cx="190.0" cy="203.8" r="2.10" fill="#32b67a"/><circle cx="191.2" cy="205.6" r="2.10" fill="#2cb17e"/><circle cx="164.2" cy="205.6" r="2.10" fill="#4ec36b"/><circle cx="167.2" cy="207.4" r="2.10" fill="#58c765"/><circle cx="163.6" cy="209.8" r="2.10" fill="#6ece58"/><circle cx="164.2" cy="214.0" r="2.10" fill="#4ec36b"/><circle cx="170.8" cy="215.2" r="2.10" fill="#58c765"/><circle cx="174.4" cy="216.4" r="2.10" fill="#4ec36b"/><circle cx="173.8" cy="213.4" r="2.10" fill="#63cb5f"/><circle cx="173.2" cy="210.4" r="2.10" fill="#7ad151"/><circle cx="184.6" cy="208.6" r="2.10" fill="#7ad151"/><circle cx="186.4" cy="212.2" r="2.10" fill="#6ece58"/><circle cx="190.4" cy="192.4" r="2.10" fill="#7ad151"/><circle cx="186.0" cy="192.0" r="2.10" fill="#86d549"/><circle cx="196.0" cy="226.0" r="2.10" fill="#cae11f"/><circle cx="195.4" cy="232.0" r="2.10" fill="#bddf26"/><circle cx="198.4" cy="238.0" r="2.10" fill="#b0dd2f"/><circle cx="211.6" cy="235.0" r="2.10" fill="#d2e21b"/><circle cx="232.0" cy="220.0" r="2.10" fill="#a2da37"/><circle cx="234.4" cy="220.0" r="2.10" fill="#a2da37"/><circle cx="222.0" cy="233.5" r="2.10" fill="#7ad151"/><circle cx="240.4" cy="233.8" r="2.10" fill="#b0dd2f"/><circle cx="225.7" cy="227.1" r="2.10" fill="#b0dd2f"/><circle cx="224.7" cy="224.8" r="2.10" fill="#aadc32"/><circle cx="214.2" cy="226.2" r="2.10" fill="#c8e020"/><circle cx="216.4" cy="224.2" r="2.10" fill="#a5db36"/><circle cx="226.3" cy="226.9" r="2.10" fill="#b8de29"/><circle cx="204.7" cy="228.7" r="2.10" fill="#cde11d"/><circle cx="204.7" cy="228.8" r="2.10" fill="#b8de29"/><circle cx="206.8" cy="226.7" r="2.10" fill="#d2e21b"/><circle cx="239.5" cy="220.7" r="2.10" fill="#c5e021"/><circle cx="204.6" cy="231.0" r="2.10" fill="#cae11f"/><circle cx="230.4" cy="223.5" r="2.10" fill="#d2e21b"/><circle cx="209.7" cy="229.3" r="2.10" fill="#bade28"/><circle cx="211.5" cy="228.4" r="2.10" fill="#a0da39"/><circle cx="218.6" cy="232.9" r="2.10" fill="#b2dd2d"/><circle cx="235.2" cy="223.6" r="2.10" fill="#c8e020"/><circle cx="241.3" cy="228.7" r="2.10" fill="#bade28"/><circle cx="200.3" cy="227.4" r="2.10" fill="#dae319"/><circle cx="200.0" cy="228.0" r="2.10" fill="#d5e21a"/><circle cx="219.4" cy="226.4" r="2.10" fill="#b5de2b"/><circle cx="212.3" cy="226.9" r="2.10" fill="#a2da37"/><circle cx="210.1" cy="226.4" r="2.10" fill="#dde318"/><circle cx="211.4" cy="226.5" r="2.10" fill="#dae319"/><circle cx="202.4" cy="231.2" r="2.10" fill="#d5e21a"/><circle cx="225.8" cy="224.2" r="2.10" fill="#a2da37"/><circle cx="200.9" cy="230.9" r="2.10" fill="#addc30"/><circle cx="214.7" cy="225.3" r="2.10" fill="#bddf26"/><circle cx="241.6" cy="226.8" r="2.10" fill="#a0da39"/><circle cx="221.5" cy="227.1" r="2.10" fill="#98d83e"/><circle cx="239.4" cy="224.1" r="2.10" fill="#a2da37"/><circle cx="200.7" cy="226.7" r="2.10" fill="#b8de29"/><circle cx="196.5" cy="225.9" r="2.10" fill="#a8db34"/><circle cx="231.9" cy="222.7" r="2.10" fill="#bddf26"/><circle cx="217.0" cy="228.4" r="2.10" fill="#dde318"/><circle cx="232.7" cy="225.0" r="2.10" fill="#b8de29"/><circle cx="206.8" cy="230.7" r="2.10" fill="#a2da37"/><circle cx="207.4" cy="233.1" r="2.10" fill="#cde11d"/><circle cx="235.2" cy="226.0" r="2.10" fill="#aadc32"/><circle cx="214.0" cy="223.7" r="2.10" fill="#aadc32"/><circle cx="215.4" cy="227.3" r="2.10" fill="#9bd93c"/><circle cx="208.7" cy="232.4" r="2.10" fill="#c8e020"/><circle cx="225.7" cy="222.0" r="2.10" fill="#9dd93b"/><circle cx="204.3" cy="225.4" r="2.10" fill="#a8db34"/><circle cx="230.8" cy="223.6" r="2.10" fill="#c8e020"/><circle cx="197.5" cy="226.8" r="2.10" fill="#d0e11c"/><circle cx="238.5" cy="224.2" r="2.10" fill="#addc30"/><circle cx="212.3" cy="226.8" r="2.10" fill="#d5e21a"/><circle cx="211.7" cy="228.9" r="2.10" fill="#95d840"/><circle cx="202.3" cy="225.7" r="2.10" fill="#c2df23"/><circle cx="241.6" cy="223.3" r="2.10" fill="#b0dd2f"/><circle cx="232.6" cy="224.9" r="2.10" fill="#98d83e"/><circle cx="214.5" cy="226.5" r="2.10" fill="#c8e020"/><circle cx="216.8" cy="227.9" r="2.10" fill="#dde318"/><circle cx="217.5" cy="230.0" r="2.10" fill="#bddf26"/><circle cx="199.7" cy="233.7" r="2.10" fill="#98d83e"/><circle cx="204.8" cy="231.2" r="2.10" fill="#b2dd2d"/><circle cx="210.8" cy="229.9" r="2.10" fill="#d2e21b"/><circle cx="197.0" cy="226.0" r="2.10" fill="#d0e11c"/><circle cx="220.6" cy="226.2" r="2.10" fill="#a8db34"/><circle cx="220.9" cy="223.3" r="2.10" fill="#d5e21a"/><circle cx="233.9" cy="227.4" r="2.10" fill="#95d840"/><circle cx="246.4" cy="186.4" r="2.10" fill="#86d549"/><circle cx="248.2" cy="189.4" r="2.10" fill="#6ece58"/><circle cx="251.4" cy="192.2" r="2.10" fill="#3bbb75"/><circle cx="241.6" cy="194.2" r="2.10" fill="#58c765"/><circle cx="242.8" cy="199.6" r="2.10" fill="#95d840"/><circle cx="244.0" cy="198.4" r="2.10" fill="#a2da37"/><circle cx="245.8" cy="199.6" r="2.10" fill="#95d840"/><circle cx="242.8" cy="202.0" r="2.10" fill="#86d549"/><circle cx="247.0" cy="202.6" r="2.10" fill="#a2da37"/><circle cx="250.6" cy="198.4" r="2.10" fill="#6ece58"/><circle cx="251.8" cy="201.4" r="2.10" fill="#63cb5f"/><circle cx="249.4" cy="206.8" r="2.10" fill="#63cb5f"/><circle cx="245.2" cy="209.4" r="2.10" fill="#63cb5f"/><circle cx="250.0" cy="203.2" r="2.10" fill="#bddf26"/><circle cx="236.2" cy="210.4" r="2.10" fill="#dfe318"/><circle cx="258.2" cy="208.9" r="2.10" fill="#dfe318"/><circle cx="257.5" cy="213.4" r="2.10" fill="#cae11f"/><circle cx="259.0" cy="217.0" r="2.10" fill="#cae11f"/><circle cx="262.0" cy="223.6" r="2.10" fill="#bddf26"/><circle cx="266.8" cy="218.8" r="2.10" fill="#7ad151"/><circle cx="268.0" cy="223.4" r="2.10" fill="#cae11f"/><circle cx="274.0" cy="223.4" r="2.10" fill="#dfe318"/><circle cx="268.0" cy="227.5" r="2.10" fill="#cae11f"/><circle cx="267.4" cy="227.9" r="2.10" fill="#d8e219"/><circle cx="260.8" cy="228.3" r="2.10" fill="#bddf26"/><circle cx="256.7" cy="229.0" r="2.10" fill="#b5de2b"/><circle cx="265.8" cy="229.2" r="2.10" fill="#aadc32"/><circle cx="255.0" cy="226.7" r="2.10" fill="#bddf26"/><circle cx="269.2" cy="224.8" r="2.10" fill="#dde318"/><circle cx="265.1" cy="227.7" r="2.10" fill="#b2dd2d"/><circle cx="258.7" cy="226.5" r="2.10" fill="#d5e21a"/><circle cx="257.0" cy="229.3" r="2.10" fill="#b5de2b"/><circle cx="257.8" cy="229.2" r="2.10" fill="#a2da37"/><circle cx="256.1" cy="227.1" r="2.10" fill="#d5e21a"/><circle cx="263.3" cy="228.8" r="2.10" fill="#b0dd2f"/><circle cx="267.8" cy="226.6" r="2.10" fill="#c0df25"/><circle cx="254.9" cy="230.1" r="2.10" fill="#b8de29"/><circle cx="258.0" cy="224.4" r="2.10" fill="#bade28"/><circle cx="260.1" cy="227.7" r="2.10" fill="#bade28"/><circle cx="258.0" cy="226.5" r="2.10" fill="#c8e020"/><circle cx="261.0" cy="228.0" r="2.10" fill="#d2e21b"/><circle cx="261.2" cy="228.8" r="2.10" fill="#cde11d"/><circle cx="265.5" cy="230.4" r="2.10" fill="#d2e21b"/><circle cx="264.0" cy="227.9" r="2.10" fill="#aadc32"/><circle cx="264.6" cy="226.6" r="2.10" fill="#b2dd2d"/><circle cx="254.2" cy="226.2" r="2.10" fill="#a2da37"/><circle cx="263.8" cy="223.5" r="2.10" fill="#d2e21b"/><circle cx="254.3" cy="226.7" r="2.10" fill="#d5e21a"/><circle cx="252.6" cy="224.3" r="2.10" fill="#b2dd2d"/><circle cx="260.3" cy="225.2" r="2.10" fill="#c2df23"/><circle cx="258.2" cy="225.8" r="2.10" fill="#c2df23"/><circle cx="264.4" cy="228.4" r="2.10" fill="#cde11d"/><circle cx="269.8" cy="228.4" r="2.10" fill="#cae11f"/><circle cx="271.6" cy="230.8" r="2.10" fill="#d2e21b"/><circle cx="272.8" cy="235.0" r="2.10" fill="#d2e21b"/><circle cx="274.6" cy="243.4" r="2.10" fill="#dfe318"/><circle cx="273.4" cy="248.2" r="2.10" fill="#86d549"/><circle cx="275.2" cy="257.2" r="2.10" fill="#a2da37"/><circle cx="272.8" cy="235.6" r="2.10" fill="#dfe318"/><circle cx="274.6" cy="243.4" r="2.10" fill="#dfe318"/><circle cx="273.4" cy="248.0" r="2.10" fill="#a2da37"/><circle cx="275.2" cy="257.6" r="2.10" fill="#a2da37"/><circle cx="275.8" cy="277.3" r="2.10" fill="#a2da37"/><circle cx="280.4" cy="275.8" r="2.10" fill="#a2da37"/><circle cx="276.4" cy="288.4" r="2.10" fill="#7ad151"/><circle cx="277.0" cy="292.0" r="2.10" fill="#7ad151"/><circle cx="277.6" cy="298.6" r="2.10" fill="#7ad151"/><circle cx="280.0" cy="298.4" r="2.10" fill="#6ece58"/><circle cx="278.2" cy="302.2" r="2.10" fill="#7ad151"/><circle cx="278.8" cy="307.0" r="2.10" fill="#6ece58"/><circle cx="279.2" cy="308.2" r="2.10" fill="#6ece58"/><circle cx="281.8" cy="257.8" r="2.10" fill="#bddf26"/><circle cx="283.0" cy="260.8" r="2.10" fill="#bddf26"/><circle cx="280.6" cy="263.2" r="2.10" fill="#bddf26"/><circle cx="284.8" cy="256.6" r="2.10" fill="#bddf26"/><circle cx="287.8" cy="256.0" r="2.10" fill="#d2e21b"/><circle cx="290.2" cy="251.2" r="2.10" fill="#9bd93c"/><circle cx="295.0" cy="250.0" r="2.10" fill="#d2e21b"/><circle cx="296.2" cy="251.8" r="2.10" fill="#cae11f"/><circle cx="293.8" cy="254.2" r="2.10" fill="#cae11f"/><circle cx="297.4" cy="256.0" r="2.10" fill="#cae11f"/><circle cx="299.8" cy="257.8" r="2.10" fill="#bddf26"/><circle cx="292.6" cy="259.0" r="2.10" fill="#d2e21b"/><circle cx="293.2" cy="262.0" r="2.10" fill="#d2e21b"/><circle cx="289.0" cy="263.4" r="2.10" fill="#dfe318"/><circle cx="284.8" cy="266.8" r="2.10" fill="#dfe318"/><circle cx="286.0" cy="270.8" r="2.10" fill="#b0dd2f"/><circle cx="291.4" cy="269.2" r="2.10" fill="#86d549"/><circle cx="291.4" cy="273.2" r="2.10" fill="#86d549"/><circle cx="298.6" cy="269.6" r="2.10" fill="#d2e21b"/><circle cx="301.0" cy="265.6" r="2.10" fill="#86d549"/><circle cx="304.0" cy="267.2" r="2.10" fill="#6ece58"/><circle cx="286.0" cy="258.0" r="2.10" fill="#bddf26"/><circle cx="289.0" cy="257.0" r="2.10" fill="#cae11f"/><circle cx="304.6" cy="279.4" r="2.10" fill="#86d549"/><circle cx="301.6" cy="283.0" r="2.10" fill="#b0dd2f"/><circle cx="307.0" cy="283.0" r="2.10" fill="#bddf26"/><circle cx="303.4" cy="286.0" r="2.10" fill="#a2da37"/><circle cx="305.8" cy="287.8" r="2.10" fill="#b0dd2f"/><circle cx="309.4" cy="287.8" r="2.10" fill="#86d549"/><circle cx="312.4" cy="286.0" r="2.10" fill="#6ece58"/><circle cx="302.2" cy="293.8" r="2.10" fill="#b0dd2f"/><circle cx="302.2" cy="296.2" r="2.10" fill="#a2da37"/><circle cx="308.2" cy="293.8" r="2.10" fill="#bddf26"/><circle cx="311.8" cy="292.6" r="2.10" fill="#b0dd2f"/><circle cx="315.4" cy="293.8" r="2.10" fill="#a2da37"/><circle cx="320.2" cy="292.6" r="2.10" fill="#a2da37"/><circle cx="322.6" cy="291.4" r="2.10" fill="#95d840"/><circle cx="325.0" cy="287.8" r="2.10" fill="#7ad151"/><circle cx="317.8" cy="299.8" r="2.10" fill="#6ece58"/><circle cx="321.4" cy="298.6" r="2.10" fill="#95d840"/><circle cx="310.4" cy="303.2" r="2.10" fill="#21918c"/><circle cx="317.8" cy="307.6" r="2.10" fill="#7ad151"/><circle cx="313.0" cy="294.0" r="2.10" fill="#b0dd2f"/><circle cx="318.0" cy="294.0" r="2.10" fill="#a2da37"/><circle cx="306.0" cy="292.0" r="2.10" fill="#bddf26"/><circle cx="326.0" cy="300.0" r="2.10" fill="#86d549"/><circle cx="328.0" cy="315.0" r="2.10" fill="#6ece58"/><circle cx="328.0" cy="318.0" r="2.10" fill="#6ece58"/><circle cx="326.0" cy="312.0" r="2.10" fill="#7ad151"/><circle cx="330.0" cy="283.0" r="2.10" fill="#481d6f"/><circle cx="335.0" cy="288.0" r="2.10" fill="#482475"/><circle cx="336.0" cy="286.0" r="2.10" fill="#472a7a"/><circle cx="331.0" cy="300.0" r="2.10" fill="#482475"/><circle cx="332.0" cy="305.0" r="2.10" fill="#463480"/><circle cx="330.0" cy="307.0" r="2.10" fill="#481d6f"/><circle cx="333.0" cy="290.0" r="2.10" fill="#25848e"/><circle cx="334.0" cy="295.0" r="2.10" fill="#2a788e"/><circle cx="338.0" cy="292.0" r="2.10" fill="#25848e"/><circle cx="336.0" cy="304.0" r="2.10" fill="#25848e"/><circle cx="337.0" cy="300.0" r="2.10" fill="#21918c"/><circle cx="330.0" cy="294.0" r="2.10" fill="#21918c"/><circle cx="334.0" cy="274.0" r="2.10" fill="#21918c"/><circle cx="333.0" cy="278.0" r="2.10" fill="#25848e"/><circle cx="339.0" cy="269.0" r="2.10" fill="#1f958b"/><circle cx="346.0" cy="263.0" r="2.10" fill="#1e9c89"/><circle cx="344.0" cy="267.0" r="2.10" fill="#22a884"/><circle cx="347.0" cy="264.0" r="2.10" fill="#22a884"/><circle cx="347.0" cy="244.0" r="2.10" fill="#21918c"/><circle cx="357.0" cy="247.0" r="2.10" fill="#228b8d"/><circle cx="343.0" cy="270.0" r="2.10" fill="#7ad151"/><circle cx="343.0" cy="273.0" r="2.10" fill="#86d549"/><circle cx="351.0" cy="270.0" r="2.10" fill="#44bf70"/><circle cx="352.0" cy="266.0" r="2.10" fill="#4ec36b"/><circle cx="353.0" cy="273.0" r="2.10" fill="#4ec36b"/><circle cx="355.0" cy="271.0" r="2.10" fill="#5ec962"/><circle cx="356.0" cy="280.0" r="2.10" fill="#44bf70"/><circle cx="349.0" cy="277.0" r="2.10" fill="#1e9c89"/><circle cx="354.0" cy="276.0" r="2.10" fill="#1e9c89"/><circle cx="356.0" cy="282.0" r="2.10" fill="#1f958b"/><circle cx="357.0" cy="265.0" r="2.10" fill="#4ec36b"/><circle cx="363.0" cy="265.0" r="2.10" fill="#7ad151"/><circle cx="366.0" cy="266.0" r="2.10" fill="#6ece58"/><circle cx="362.0" cy="256.0" r="2.10" fill="#9bd93c"/><circle cx="360.0" cy="278.0" r="2.10" fill="#21918c"/><circle cx="361.0" cy="284.0" r="2.10" fill="#228b8d"/><circle cx="368.0" cy="282.0" r="2.10" fill="#25848e"/><circle cx="359.0" cy="288.0" r="2.10" fill="#355f8d"/><circle cx="364.0" cy="290.0" r="2.10" fill="#355f8d"/><circle cx="362.0" cy="292.0" r="2.10" fill="#25848e"/><circle cx="365.0" cy="299.0" r="2.10" fill="#355f8d"/><circle cx="371.0" cy="270.0" r="2.10" fill="#482475"/><circle cx="371.0" cy="274.0" r="2.10" fill="#355f8d"/><circle cx="370.0" cy="283.0" r="2.10" fill="#482475"/><circle cx="369.0" cy="276.0" r="2.10" fill="#21918c"/><circle cx="372.0" cy="278.0" r="2.10" fill="#21918c"/><circle cx="373.0" cy="283.0" r="2.10" fill="#21918c"/><circle cx="370.0" cy="286.0" r="2.10" fill="#5ec962"/><circle cx="368.0" cy="290.0" r="2.10" fill="#6ece58"/><circle cx="374.0" cy="293.0" r="2.10" fill="#21918c"/><circle cx="376.0" cy="295.0" r="2.10" fill="#44bf70"/><circle cx="372.0" cy="293.0" r="2.10" fill="#482475"/><circle cx="376.0" cy="296.0" r="2.10" fill="#22a884"/><circle cx="375.0" cy="306.0" r="2.10" fill="#21918c"/><circle cx="372.0" cy="311.0" r="2.10" fill="#21918c"/><circle cx="373.0" cy="313.0" r="2.10" fill="#44bf70"/><circle cx="378.0" cy="282.0" r="2.10" fill="#4ec36b"/><circle cx="381.0" cy="290.0" r="2.10" fill="#5ec962"/><circle cx="380.0" cy="300.0" r="2.10" fill="#4ec36b"/><circle cx="382.0" cy="283.0" r="2.10" fill="#7ad151"/><circle cx="385.0" cy="294.0" r="2.10" fill="#86d549"/><circle cx="379.0" cy="292.0" r="2.10" fill="#2fb47c"/><circle cx="377.0" cy="289.0" r="2.10" fill="#4ec36b"/><circle cx="383.0" cy="296.0" r="2.10" fill="#44bf70"/><circle cx="389.0" cy="221.6" r="2.10" fill="#1f958b"/><circle cx="390.8" cy="224.6" r="2.10" fill="#1e9c89"/><circle cx="391.4" cy="226.4" r="2.10" fill="#1f9f88"/><circle cx="392.0" cy="229.4" r="2.10" fill="#20a386"/><circle cx="385.4" cy="233.6" r="2.10" fill="#228b8d"/><circle cx="387.2" cy="233.0" r="2.10" fill="#21918c"/><circle cx="384.2" cy="237.2" r="2.10" fill="#1f958b"/><circle cx="386.6" cy="239.0" r="2.10" fill="#1f9a8a"/><circle cx="388.4" cy="239.6" r="2.10" fill="#1e9c89"/><circle cx="385.4" cy="241.4" r="2.10" fill="#1e9c89"/><circle cx="389.0" cy="243.8" r="2.10" fill="#228b8d"/><circle cx="392.6" cy="239.0" r="2.10" fill="#44bf70"/><circle cx="383.6" cy="265.4" r="2.10" fill="#5ec962"/><circle cx="393.8" cy="269.6" r="2.10" fill="#3bbb75"/><circle cx="426.8" cy="230.6" r="2.10" fill="#f8e621"/><circle cx="431.6" cy="234.2" r="2.10" fill="#cae11f"/><circle cx="430.4" cy="237.2" r="2.10" fill="#bddf26"/><circle cx="427.4" cy="240.2" r="2.10" fill="#7ad151"/><circle cx="424.4" cy="242.0" r="2.10" fill="#b0dd2f"/><circle cx="431.6" cy="240.8" r="2.10" fill="#cae11f"/><circle cx="429.2" cy="242.0" r="2.10" fill="#bddf26"/><circle cx="404.6" cy="243.2" r="2.10" fill="#bddf26"/><circle cx="405.8" cy="244.4" r="2.10" fill="#bddf26"/><circle cx="405.2" cy="247.4" r="2.10" fill="#b0dd2f"/><circle cx="407.0" cy="249.8" r="2.10" fill="#b0dd2f"/><circle cx="416.0" cy="247.4" r="2.10" fill="#cae11f"/><circle cx="420.8" cy="246.2" r="2.10" fill="#b0dd2f"/><circle cx="423.8" cy="248.0" r="2.10" fill="#b0dd2f"/><circle cx="426.2" cy="248.0" r="2.10" fill="#bddf26"/><circle cx="396.2" cy="253.4" r="2.10" fill="#f8e621"/><circle cx="402.8" cy="251.6" r="2.10" fill="#cae11f"/><circle cx="406.4" cy="253.4" r="2.10" fill="#b0dd2f"/><circle cx="413.6" cy="252.8" r="2.10" fill="#95d840"/><circle cx="419.6" cy="253.4" r="2.10" fill="#95d840"/><circle cx="422.0" cy="254.6" r="2.10" fill="#a2da37"/><circle cx="425.0" cy="255.2" r="2.10" fill="#b0dd2f"/><circle cx="432.8" cy="254.6" r="2.10" fill="#cae11f"/><circle cx="434.6" cy="255.2" r="2.10" fill="#d8e219"/><circle cx="397.4" cy="257.6" r="2.10" fill="#bddf26"/><circle cx="407.6" cy="257.6" r="2.10" fill="#86d549"/><circle cx="411.2" cy="258.2" r="2.10" fill="#86d549"/><circle cx="417.2" cy="259.4" r="2.10" fill="#95d840"/><circle cx="423.2" cy="257.6" r="2.10" fill="#a2da37"/><circle cx="428.6" cy="258.2" r="2.10" fill="#b0dd2f"/><circle cx="395.6" cy="261.8" r="2.10" fill="#e5e419"/><circle cx="399.2" cy="261.2" r="2.10" fill="#cae11f"/><circle cx="403.4" cy="260.6" r="2.10" fill="#bddf26"/><circle cx="408.8" cy="261.8" r="2.10" fill="#86d549"/><circle cx="412.4" cy="260.6" r="2.10" fill="#95d840"/><circle cx="419.6" cy="261.2" r="2.10" fill="#b0dd2f"/><circle cx="398.0" cy="266.6" r="2.10" fill="#cae11f"/><circle cx="401.0" cy="266.6" r="2.10" fill="#cae11f"/><circle cx="409.4" cy="263.6" r="2.10" fill="#86d549"/><circle cx="415.4" cy="264.2" r="2.10" fill="#95d840"/><circle cx="418.4" cy="267.2" r="2.10" fill="#86d549"/><circle cx="428.0" cy="264.2" r="2.10" fill="#bddf26"/><circle cx="434.6" cy="266.6" r="2.10" fill="#d8e219"/><circle cx="400.0" cy="258.0" r="2.10" fill="#cae11f"/><circle cx="410.0" cy="255.0" r="2.10" fill="#95d840"/><circle cx="414.0" cy="257.0" r="2.10" fill="#95d840"/><circle cx="421.0" cy="251.0" r="2.10" fill="#b0dd2f"/><circle cx="433.0" cy="250.0" r="2.10" fill="#cae11f"/><circle cx="436.0" cy="247.0" r="2.10" fill="#d8e219"/><circle cx="398.0" cy="263.0" r="2.10" fill="#d8e219"/><circle cx="404.0" cy="264.0" r="2.10" fill="#bddf26"/></g>
<rect x="56.60" y="302.50" width="76.10" height="15.50" rx="2" ry="2" fill="#ffffff" fill-opacity="0.8" stroke="#d6d6d6" stroke-width="0.8"/>
<circle cx="69" cy="310.5" r="2.3" fill="#a2da37" fill-opacity="0.85"/>
<text x="84.80" y="313.50" text-anchor="start" fill="#000" font-size="9.4" textLength="43.85" lengthAdjust="spacingAndGlyphs" transform="translate(84.80 313.50) skewX(1) translate(-84.80 -313.50)">INGV data</text>
<rect x="52.30" y="177.00" width="384.20" height="146.00" fill="none" stroke="#262626" stroke-width="0.8"/>
<line x1="73.44" y1="323.00" x2="73.44" y2="324.80" stroke="#262626" stroke-width="0.8"/>
<line x1="101.70" y1="323.00" x2="101.70" y2="326.10" stroke="#262626" stroke-width="0.8"/>
<line x1="129.96" y1="323.00" x2="129.96" y2="324.80" stroke="#262626" stroke-width="0.8"/>
<line x1="158.22" y1="323.00" x2="158.22" y2="326.10" stroke="#262626" stroke-width="0.8"/>
<line x1="186.48" y1="323.00" x2="186.48" y2="324.80" stroke="#262626" stroke-width="0.8"/>
<line x1="214.74" y1="323.00" x2="214.74" y2="326.10" stroke="#262626" stroke-width="0.8"/>
<line x1="243.00" y1="323.00" x2="243.00" y2="324.80" stroke="#262626" stroke-width="0.8"/>
<line x1="271.26" y1="323.00" x2="271.26" y2="326.10" stroke="#262626" stroke-width="0.8"/>
<line x1="299.52" y1="323.00" x2="299.52" y2="324.80" stroke="#262626" stroke-width="0.8"/>
<line x1="327.78" y1="323.00" x2="327.78" y2="326.10" stroke="#262626" stroke-width="0.8"/>
<line x1="356.04" y1="323.00" x2="356.04" y2="324.80" stroke="#262626" stroke-width="0.8"/>
<line x1="384.30" y1="323.00" x2="384.30" y2="326.10" stroke="#262626" stroke-width="0.8"/>
<line x1="412.56" y1="323.00" x2="412.56" y2="324.80" stroke="#262626" stroke-width="0.8"/>
<line x1="49.40" y1="316.20" x2="52.30" y2="316.20" stroke="#262626" stroke-width="0.8"/>
<text x="47.50" y="319.50" text-anchor="end" fill="#000" font-size="9.4" textLength="21.96" lengthAdjust="spacingAndGlyphs" transform="translate(47.50 319.50) skewX(1) translate(-47.50 -319.50)">1600</text>
<line x1="49.40" y1="287.80" x2="52.30" y2="287.80" stroke="#262626" stroke-width="0.8"/>
<text x="47.50" y="291.10" text-anchor="end" fill="#000" font-size="9.4" textLength="21.96" lengthAdjust="spacingAndGlyphs" transform="translate(47.50 291.10) skewX(1) translate(-47.50 -291.10)">1800</text>
<line x1="49.40" y1="259.40" x2="52.30" y2="259.40" stroke="#262626" stroke-width="0.8"/>
<text x="47.50" y="262.70" text-anchor="end" fill="#000" font-size="9.4" textLength="22.01" lengthAdjust="spacingAndGlyphs" transform="translate(47.50 262.70) skewX(1) translate(-47.50 -262.70)">2000</text>
<line x1="49.40" y1="231.00" x2="52.30" y2="231.00" stroke="#262626" stroke-width="0.8"/>
<text x="47.50" y="234.30" text-anchor="end" fill="#000" font-size="9.4" textLength="22.01" lengthAdjust="spacingAndGlyphs" transform="translate(47.50 234.30) skewX(1) translate(-47.50 -234.30)">2200</text>
<line x1="49.40" y1="202.60" x2="52.30" y2="202.60" stroke="#262626" stroke-width="0.8"/>
<text x="47.50" y="205.90" text-anchor="end" fill="#000" font-size="9.4" textLength="22.01" lengthAdjust="spacingAndGlyphs" transform="translate(47.50 205.90) skewX(1) translate(-47.50 -205.90)">2400</text>
<text x="11.90" y="250.00" text-anchor="middle" fill="#000" font-size="9.4" textLength="52.24" lengthAdjust="spacingAndGlyphs" transform="rotate(-90 11.9 250) translate(11.90 250.00) skewX(1) translate(-11.90 -250.00)">hypocentral</text>
<text x="21.20" y="250.00" text-anchor="middle" fill="#000" font-size="9.4" textLength="55.44" lengthAdjust="spacingAndGlyphs" transform="rotate(-90 21.2 250) translate(21.20 250.00) skewX(1) translate(-21.20 -250.00)">distance [m]</text>
<text x="6.50" y="180.50" text-anchor="start" fill="#000" font-size="11.3" textLength="14.82" lengthAdjust="spacingAndGlyphs" transform="translate(6.50 180.50) skewX(1) translate(-6.50 -180.50)">(b)</text>
<defs><linearGradient id="cb1" x1="0" y1="0" x2="0" y2="1"><stop offset="0.0000" stop-color="#fde725"/><stop offset="0.0417" stop-color="#e5e419"/><stop offset="0.0833" stop-color="#c8e020"/><stop offset="0.1250" stop-color="#addc30"/><stop offset="0.1667" stop-color="#90d743"/><stop offset="0.2083" stop-color="#75d054"/><stop offset="0.2500" stop-color="#5ec962"/><stop offset="0.2917" stop-color="#48c16e"/><stop offset="0.3333" stop-color="#35b779"/><stop offset="0.3750" stop-color="#28ae80"/><stop offset="0.4167" stop-color="#20a486"/><stop offset="0.4583" stop-color="#1f9a8a"/><stop offset="0.5000" stop-color="#21918c"/><stop offset="0.5417" stop-color="#24868e"/><stop offset="0.5833" stop-color="#287c8e"/><stop offset="0.6250" stop-color="#2c728e"/><stop offset="0.6667" stop-color="#31688e"/><stop offset="0.7083" stop-color="#365d8d"/><stop offset="0.7500" stop-color="#3b528b"/><stop offset="0.7917" stop-color="#404688"/><stop offset="0.8333" stop-color="#443983"/><stop offset="0.8750" stop-color="#472d7b"/><stop offset="0.9167" stop-color="#481f70"/><stop offset="0.9583" stop-color="#471063"/><stop offset="1.0000" stop-color="#440154"/></linearGradient></defs>
<rect x="441.00" y="177.00" width="15.50" height="146.00" fill="url(#cb1)" fill-opacity="0.8"/>
<rect x="441.00" y="177.00" width="15.50" height="146.00" fill="none" stroke="#262626" stroke-width="0.8"/>
<line x1="456.50" y1="310.79" x2="459.40" y2="310.79" stroke="#262626" stroke-width="0.8"/>
<text x="461.70" y="314.09" text-anchor="start" fill="#000" font-size="9.4" textLength="13.60" lengthAdjust="spacingAndGlyphs" transform="translate(461.70 314.09) skewX(1) translate(-461.70 -314.09)">1.8</text>
<line x1="456.50" y1="288.98" x2="459.40" y2="288.98" stroke="#262626" stroke-width="0.8"/>
<text x="461.70" y="292.28" text-anchor="start" fill="#000" font-size="9.4" textLength="13.62" lengthAdjust="spacingAndGlyphs" transform="translate(461.70 292.28) skewX(1) translate(-461.70 -292.28)">2.0</text>
<line x1="456.50" y1="267.17" x2="459.40" y2="267.17" stroke="#262626" stroke-width="0.8"/>
<text x="461.70" y="270.47" text-anchor="start" fill="#000" font-size="9.4" textLength="13.42" lengthAdjust="spacingAndGlyphs" transform="translate(461.70 270.47) skewX(1) translate(-461.70 -270.47)">2.2</text>
<line x1="456.50" y1="245.37" x2="459.40" y2="245.37" stroke="#262626" stroke-width="0.8"/>
<text x="461.70" y="248.67" text-anchor="start" fill="#000" font-size="9.4" textLength="13.61" lengthAdjust="spacingAndGlyphs" transform="translate(461.70 248.67) skewX(1) translate(-461.70 -248.67)">2.4</text>
<line x1="456.50" y1="223.56" x2="459.40" y2="223.56" stroke="#262626" stroke-width="0.8"/>
<text x="461.70" y="226.86" text-anchor="start" fill="#000" font-size="9.4" textLength="13.71" lengthAdjust="spacingAndGlyphs" transform="translate(461.70 226.86) skewX(1) translate(-461.70 -226.86)">2.6</text>
<line x1="456.50" y1="201.75" x2="459.40" y2="201.75" stroke="#262626" stroke-width="0.8"/>
<text x="461.70" y="205.05" text-anchor="start" fill="#000" font-size="9.4" textLength="13.66" lengthAdjust="spacingAndGlyphs" transform="translate(461.70 205.05) skewX(1) translate(-461.70 -205.05)">2.8</text>
<line x1="456.50" y1="179.94" x2="459.40" y2="179.94" stroke="#262626" stroke-width="0.8"/>
<text x="461.70" y="183.24" text-anchor="start" fill="#000" font-size="9.4" textLength="13.46" lengthAdjust="spacingAndGlyphs" transform="translate(461.70 183.24) skewX(1) translate(-461.70 -183.24)">3.0</text>
<text x="485.60" y="250.00" text-anchor="middle" fill="#000" font-size="9.4" textLength="84.87" lengthAdjust="spacingAndGlyphs" transform="rotate(-90 485.6 250) translate(485.60 250.00) skewX(1) translate(-485.60 -250.00)">event altitude [km]</text>
<line x1="52.30" y1="475.00" x2="436.50" y2="475.00" stroke="#e3e3e3" stroke-width="0.8"/>
<line x1="52.30" y1="452.60" x2="436.50" y2="452.60" stroke="#e3e3e3" stroke-width="0.8"/>
<line x1="52.30" y1="430.20" x2="436.50" y2="430.20" stroke="#e3e3e3" stroke-width="0.8"/>
<line x1="52.30" y1="407.80" x2="436.50" y2="407.80" stroke="#e3e3e3" stroke-width="0.8"/>
<line x1="52.30" y1="385.40" x2="436.50" y2="385.40" stroke="#e3e3e3" stroke-width="0.8"/>
<line x1="52.30" y1="363.00" x2="436.50" y2="363.00" stroke="#e3e3e3" stroke-width="0.8"/>
<line x1="52.30" y1="340.60" x2="436.50" y2="340.60" stroke="#e3e3e3" stroke-width="0.8"/>
<line x1="101.70" y1="340.50" x2="101.70" y2="486.50" stroke="#e3e3e3" stroke-width="0.8"/>
<line x1="158.22" y1="340.50" x2="158.22" y2="486.50" stroke="#e3e3e3" stroke-width="0.8"/>
<line x1="214.74" y1="340.50" x2="214.74" y2="486.50" stroke="#e3e3e3" stroke-width="0.8"/>
<line x1="271.26" y1="340.50" x2="271.26" y2="486.50" stroke="#e3e3e3" stroke-width="0.8"/>
<line x1="327.78" y1="340.50" x2="327.78" y2="486.50" stroke="#e3e3e3" stroke-width="0.8"/>
<line x1="384.30" y1="340.50" x2="384.30" y2="486.50" stroke="#e3e3e3" stroke-width="0.8"/>
<line x1="158.22" y1="341.00" x2="158.22" y2="486.50" stroke="#6e6e6e" stroke-width="1.2" stroke-dasharray="4.5 1.5"/>
<line x1="214.74" y1="341.00" x2="214.74" y2="486.50" stroke="#ffff20" stroke-width="1.2" stroke-dasharray="4.5 1.5"/>
<line x1="299.52" y1="341.00" x2="299.52" y2="486.50" stroke="#d62728" stroke-width="1.2" stroke-dasharray="4.5 1.5"/>
<line x1="384.30" y1="341.00" x2="384.30" y2="486.50" stroke="#ffa500" stroke-width="1.2" stroke-dasharray="4.5 1.5"/>
<path d="M52.50 360.63V380.28M53.35 359.08V380.30M54.20 353.92V387.02M55.05 354.71V385.97M55.90 363.07V385.59M56.75 350.13V396.91M57.60 362.40V385.87M58.45 362.65V383.27M59.30 354.60V393.43M60.15 356.76V384.62M61.00 364.18V389.09M61.85 364.05V383.59M62.70 358.37V383.14M63.55 366.86V392.77M64.40 359.54V383.90M65.25 354.55V391.11M66.10 348.63V399.21M66.95 351.78V396.25M67.80 356.20V392.25M68.65 354.72V383.45M69.50 359.45V387.02M70.35 347.60V386.40M71.20 359.51V385.13M72.05 358.93V386.65M72.90 367.03V384.32M73.75 356.11V389.02M74.60 363.58V389.82M75.45 364.62V386.27M76.30 356.99V398.80M77.15 353.18V398.41M78.00 369.67V395.14M78.85 375.46V390.80M79.70 367.94V385.04M80.55 367.43V394.18M81.40 365.05V396.04M82.25 358.26V393.21M83.10 366.24V389.64M83.95 371.79V390.23M84.80 368.22V388.16M85.65 364.37V400.27M86.50 374.08V394.14M87.35 369.70V390.49M88.20 376.87V390.87M89.05 373.72V398.87M89.90 363.58V396.98M90.75 369.07V402.50M91.60 370.23V401.57M92.45 365.26V407.71M93.30 360.35V404.75M94.15 367.96V398.83M95.00 366.64V393.75M95.85 376.91V393.78M96.70 368.27V401.76M97.55 376.95V390.95M98.40 364.62V401.11M99.25 365.49V396.39M100.10 357.79V394.51M100.95 361.99V400.71M101.80 359.40V396.32M102.65 363.70V401.77M103.50 368.82V392.63M104.35 379.43V401.13M105.20 367.87V395.11M106.05 359.64V401.55M106.90 377.41V400.37M107.75 357.73V399.45M108.60 368.04V406.26M109.45 376.69V398.01M110.30 375.35V391.51M111.15 359.83V399.64M112.00 355.63V408.42M112.85 372.52V396.12M113.70 362.54V410.55M114.55 376.75V394.58M115.40 363.49V407.25M116.25 371.70V393.97M117.10 371.72V403.12M117.95 368.01V394.22M118.80 365.73V398.69M119.65 364.11V405.61M120.50 379.53V393.90M121.35 366.38V405.34M122.20 365.91V406.21M123.05 372.85V393.34M123.90 377.92V397.27M124.75 358.25V398.50M125.60 369.27V396.21M126.45 372.40V389.14M127.30 368.35V394.75M128.15 379.19V393.19M129.00 378.31V396.49M129.85 363.62V400.39M130.70 377.72V392.36M131.55 380.16V401.56M132.40 370.13V402.13M133.25 376.96V402.40M134.10 377.24V399.82M134.95 377.75V400.12M135.80 360.06V409.02M136.65 371.09V402.19M137.50 375.67V409.28M138.35 364.69V402.04M139.20 361.68V402.97M140.05 377.41V401.69M140.90 368.23V399.99M141.75 376.56V396.78M142.60 382.04V396.04M143.45 373.76V399.72M144.30 371.39V404.47M145.15 367.83V403.72M146.00 377.88V401.38M146.85 377.69V395.86M147.70 383.02V403.38M148.55 373.36V413.98M149.40 375.14V420.74M150.25 385.74V404.89M151.10 384.07V417.17M151.95 387.24V417.35M152.80 384.64V423.10M153.65 386.27V421.31M154.50 388.03V420.36M155.35 385.09V424.99M156.20 380.51V427.86M157.05 386.74V426.60M157.90 392.74V420.27M158.75 399.21V426.11M159.60 391.09V413.95M160.45 379.41V430.96M161.30 386.87V426.22M162.15 385.94V419.47M163.00 383.51V431.52M163.85 385.18V421.22M164.70 396.09V415.87M165.55 391.30V418.66M166.40 380.13V416.12M167.25 393.98V419.59M168.10 378.81V423.61M168.95 386.01V426.17M169.80 397.19V421.98M170.65 394.06V421.65M171.50 390.72V419.87M172.35 384.97V426.11M173.20 391.75V420.21M174.05 388.13V421.55M174.90 390.56V415.54M175.75 393.47V417.81M176.60 393.56V417.45M177.45 390.29V433.58M178.30 392.60V422.07M179.15 396.01V429.24M180.00 389.33V422.37M180.85 385.04V429.14M181.70 380.68V431.68M182.55 385.18V422.12M183.40 379.27V427.44M184.25 390.73V420.14M185.10 387.98V430.54M185.95 389.95V416.49M186.80 386.74V418.12M187.65 393.12V419.63M188.50 391.62V417.76M189.35 386.92V422.21M190.20 404.41V418.41M191.05 393.67V419.49M191.90 398.23V418.71M192.75 397.16V416.77M193.60 394.46V425.45M194.45 390.98V424.69M195.30 400.81V415.27M196.15 394.58V427.46M197.00 389.31V429.15M197.85 404.27V423.34M198.70 385.53V431.00M199.55 404.01V426.63M200.40 396.17V419.79M201.25 403.43V417.55M202.10 403.97V421.10M202.95 389.73V428.80M203.80 396.72V425.89M204.65 396.70V434.69M205.50 397.25V427.52M206.35 386.26V433.54M207.20 403.94V422.68M208.05 391.91V428.80M208.90 386.75V434.77M209.75 400.26V424.57M210.60 399.30V416.16M211.45 393.17V424.33M212.30 400.81V431.41M213.15 390.28V413.16M214.00 399.83V416.84M214.85 392.46V418.34M215.70 395.09V422.96M216.55 386.65V424.02M217.40 394.15V418.62M218.25 393.07V414.65M219.10 402.96V416.96M219.95 389.50V426.07M220.80 390.99V422.75M221.65 383.43V425.87M222.50 395.47V427.13M223.35 393.32V412.15M224.20 387.74V434.12M225.05 388.04V429.74M225.90 392.52V419.83M226.75 391.30V424.71M227.60 384.13V422.69M228.45 403.15V420.79M229.30 387.63V420.24M230.15 399.04V413.04M231.00 395.12V425.73M231.85 381.49V431.65M232.70 397.69V419.15M233.55 399.02V417.59M234.40 389.31V422.12M235.25 394.13V418.54M236.10 394.26V431.75M236.95 393.33V427.48M237.80 387.75V431.15M238.65 384.26V431.62M239.50 392.03V418.26M240.35 391.20V416.52M241.20 387.90V431.15M242.05 391.48V420.24M242.90 396.00V417.30M243.75 389.41V418.67M244.60 387.42V417.16M245.45 396.42V418.44M246.30 396.84V411.58M247.15 405.17V420.30M248.00 394.41V428.94M248.85 397.32V414.25M249.70 387.00V432.77M250.55 391.11V416.56M251.40 393.78V425.56M252.25 401.05V423.74M253.10 399.97V415.83M253.95 401.92V422.96M254.80 385.88V412.93M255.65 381.70V429.14M256.50 390.54V418.68M257.35 385.14V429.24M258.20 385.71V424.31M259.05 393.93V419.15M259.90 390.79V419.23M260.75 381.68V421.95M261.60 380.28V420.10M262.45 393.43V420.57M263.30 388.73V414.52M264.15 387.40V422.86M265.00 385.40V423.32M265.85 386.49V416.74M266.70 380.65V416.09M267.55 389.30V412.85M268.40 383.15V417.68M269.25 370.84V398.76M270.10 365.93V404.01M270.95 380.07V402.20M271.80 365.87V390.58M272.65 356.60V390.17M273.50 361.03V378.19M274.35 354.43V372.05M275.20 335.22V373.64M276.05 349.61V366.97M276.90 345.59V367.60M277.75 342.09V380.10M278.60 343.47V374.58M279.45 350.04V381.97M280.30 346.13V387.57M281.15 350.83V385.55M282.00 347.70V391.68M282.85 343.00V381.79M283.70 355.88V378.93M284.55 358.37V372.37M285.40 357.83V376.63M286.25 362.95V376.95M287.10 358.76V386.96M287.95 358.78V377.06M288.80 359.39V373.39M289.65 354.60V379.84M290.50 361.41V375.41M291.35 360.21V376.27M292.20 347.84V391.38M293.05 360.27V381.93M293.90 357.45V371.45M294.75 348.43V380.29M295.60 354.65V379.78M296.45 355.08V380.40M297.30 365.18V382.63M298.15 360.70V376.85M299.00 365.51V379.51M299.85 359.58V373.58M300.70 344.42V373.13M301.55 355.18V369.23M302.40 340.71V367.22M303.25 339.56V360.79M304.10 346.60V363.70M304.95 357.01V371.01M305.80 348.07V375.39M306.65 348.47V373.96M307.50 355.19V380.72M308.35 353.48V384.41M309.20 344.57V383.35M310.05 362.36V396.16M310.90 370.83V384.83M311.75 368.87V384.75M312.60 360.93V394.60M313.45 368.14V390.83M314.30 367.33V389.75M315.15 378.43V395.38M316.00 365.41V408.27M316.85 380.28V394.28M317.70 372.40V408.39M318.55 387.38V414.70M319.40 384.64V404.36M320.25 393.75V408.64M321.10 383.28V421.44M321.95 382.98V413.44M322.80 380.48V420.02M323.65 376.94V412.75M324.50 388.71V405.04M325.35 387.38V409.24M326.20 388.04V402.04M327.05 375.91V414.44M327.90 388.64V419.14M328.75 392.14V410.97M329.60 384.35V411.18M330.45 387.71V401.81M331.30 387.89V408.69M332.15 380.88V408.74M333.00 380.10V414.32M333.85 387.49V408.48M334.70 387.24V409.52M335.55 386.01V405.99M336.40 385.02V415.48M337.25 394.86V408.86M338.10 386.89V406.75M338.95 388.78V408.25M339.80 380.55V412.38M340.65 391.53V405.53M341.50 385.02V418.99M342.35 380.12V412.43M343.20 378.17V413.42M344.05 389.36V405.33M344.90 388.71V405.05M345.75 385.70V411.45M346.60 388.89V407.32M347.45 374.55V399.48M348.30 379.09V405.53M349.15 388.02V414.76M350.00 385.73V407.93M350.85 388.35V406.85M351.70 388.87V403.63M352.55 389.64V413.49M353.40 390.12V411.62M354.25 387.07V409.36M355.10 383.26V415.52M355.95 390.09V407.35M356.80 375.36V415.96M357.65 386.62V407.70M358.50 384.96V419.83M359.35 389.60V409.60M360.20 391.09V419.02M361.05 388.50V410.79M361.90 386.76V400.76M362.75 385.26V413.18M363.60 390.28V404.28M364.45 383.31V404.04M365.30 377.14V410.13M366.15 375.31V427.60M367.00 391.60V409.67M367.85 388.39V402.39M368.70 385.10V407.33M369.55 385.85V415.96M370.40 386.70V412.83M371.25 380.74V419.22M372.10 385.09V404.52M372.95 373.74V413.93M373.80 386.13V417.65M374.65 381.54V407.27M375.50 384.89V409.70M376.35 382.84V412.04M377.20 380.54V413.09M378.05 388.19V409.26M378.90 387.87V407.46M379.75 389.80V411.08M380.60 388.85V408.92M381.45 377.01V410.08M382.30 379.43V410.22M383.15 392.26V406.26M384.00 385.74V404.60M384.85 388.79V402.79M385.70 389.29V412.17M386.55 389.12V410.73M387.40 390.42V409.46M388.25 382.69V415.70M389.10 388.04V411.29M389.95 381.46V411.59M390.80 387.82V414.33M391.65 380.41V415.57M392.50 394.32V421.67M393.35 384.42V419.21M394.20 377.16V410.04M395.05 377.39V423.52M395.90 390.51V415.66M396.75 383.63V418.86M397.60 381.00V414.68M398.45 376.79V409.37M399.30 369.50V424.67M400.15 375.14V413.86M401.00 370.46V416.65M401.85 369.20V416.02M402.70 365.59V404.18M403.55 363.89V402.91M404.40 366.99V395.17M405.25 357.15V386.43M406.10 351.48V388.16M406.95 365.44V384.69M407.80 353.93V398.60M408.65 347.30V399.98M409.50 366.14V390.09M410.35 354.56V394.96M411.20 349.38V394.73M412.05 352.80V382.88M412.90 353.22V381.67M413.75 358.82V380.30M414.60 345.76V387.53M415.45 349.58V389.41M416.30 349.89V378.05M417.15 349.74V386.07M418.00 345.08V390.41M418.85 351.17V387.34M419.70 347.86V390.94M420.55 344.26V391.48M421.40 351.83V389.37M422.25 348.67V389.87M423.10 349.39V394.85M423.95 347.75V392.52M424.80 345.03V393.55M425.65 361.16V376.41M426.50 354.27V391.34M427.35 348.20V382.22M428.20 337.50V394.50M429.05 359.92V380.23M429.90 354.14V386.15M430.75 361.45V386.92M431.60 343.30V379.95M432.45 351.33V383.17M433.30 341.67V381.94M434.15 364.72V381.63M435.00 356.44V386.75M435.85 354.88V395.24" stroke="#bdbdbd" stroke-width="1.2" stroke-opacity="0.7" fill="none"/>
<path d="M99.6 415V452M192 464V487M233 372V398M193.8 413V444M153.8 408V436" stroke="#b0b0b0" stroke-width="0.9" stroke-opacity="0.75" fill="none"/>
<g fill-opacity="1"><circle cx="53.4" cy="380.7" r="2.20" fill="#1fa088"/><circle cx="53.8" cy="366.6" r="2.20" fill="#25ac82"/><circle cx="53.9" cy="375.3" r="2.20" fill="#27ad81"/><circle cx="55.1" cy="368.8" r="2.20" fill="#29af7f"/><circle cx="55.7" cy="370.1" r="2.20" fill="#1f9a8a"/><circle cx="56.4" cy="370.8" r="2.20" fill="#1fa287"/><circle cx="56.5" cy="375.8" r="2.20" fill="#24aa83"/><circle cx="58.6" cy="373.1" r="2.20" fill="#22a884"/><circle cx="58.9" cy="373.5" r="2.20" fill="#22a785"/><circle cx="59.4" cy="367.8" r="2.20" fill="#218f8d"/><circle cx="59.9" cy="376.2" r="2.20" fill="#218f8d"/><circle cx="61.1" cy="372.1" r="2.20" fill="#1e9b8a"/><circle cx="63.0" cy="371.4" r="2.20" fill="#1f988b"/><circle cx="65.1" cy="378.7" r="2.20" fill="#25838e"/><circle cx="67.2" cy="376.8" r="2.20" fill="#2db27d"/><circle cx="67.6" cy="373.5" r="2.20" fill="#1e9c89"/><circle cx="67.8" cy="376.2" r="2.20" fill="#27ad81"/><circle cx="68.4" cy="368.9" r="2.20" fill="#1e9d89"/><circle cx="68.5" cy="372.7" r="2.20" fill="#1fa187"/><circle cx="69.3" cy="374.0" r="2.20" fill="#1fa287"/><circle cx="69.4" cy="371.8" r="2.20" fill="#1e9d89"/><circle cx="70.3" cy="370.9" r="2.20" fill="#1f958b"/><circle cx="71.3" cy="372.9" r="2.20" fill="#1e9b8a"/><circle cx="71.7" cy="369.0" r="2.20" fill="#25ab82"/><circle cx="72.0" cy="373.0" r="2.20" fill="#218f8d"/><circle cx="72.2" cy="377.9" r="2.20" fill="#1f998a"/><circle cx="72.2" cy="375.7" r="2.20" fill="#1fa188"/><circle cx="72.3" cy="374.7" r="2.20" fill="#20a486"/><circle cx="73.5" cy="372.9" r="2.20" fill="#46c06f"/><circle cx="73.7" cy="383.1" r="2.20" fill="#29af7f"/><circle cx="74.4" cy="376.3" r="2.20" fill="#7cd250"/><circle cx="74.5" cy="372.1" r="2.20" fill="#5cc863"/><circle cx="74.7" cy="384.6" r="2.20" fill="#7cd250"/><circle cx="75.6" cy="385.3" r="2.20" fill="#aadc32"/><circle cx="77.5" cy="379.7" r="2.20" fill="#a8db34"/><circle cx="78.1" cy="382.4" r="2.20" fill="#bade28"/><circle cx="78.1" cy="381.7" r="2.20" fill="#a0da39"/><circle cx="78.6" cy="381.2" r="2.20" fill="#c0df25"/><circle cx="79.4" cy="384.5" r="2.20" fill="#81d34d"/><circle cx="79.6" cy="379.2" r="2.20" fill="#a2da37"/><circle cx="79.7" cy="379.2" r="2.20" fill="#90d743"/><circle cx="80.8" cy="378.4" r="2.20" fill="#93d741"/><circle cx="81.2" cy="383.7" r="2.20" fill="#b5de2b"/><circle cx="81.7" cy="382.1" r="2.20" fill="#d2e21b"/><circle cx="83.7" cy="381.9" r="2.20" fill="#f1e51d"/><circle cx="83.8" cy="386.1" r="2.20" fill="#a8db34"/><circle cx="85.4" cy="380.4" r="2.20" fill="#56c667"/><circle cx="85.9" cy="381.8" r="2.20" fill="#a0da39"/><circle cx="86.4" cy="389.9" r="2.20" fill="#77d153"/><circle cx="86.7" cy="389.8" r="2.20" fill="#95d840"/><circle cx="87.2" cy="385.3" r="2.20" fill="#5cc863"/><circle cx="88.4" cy="383.1" r="2.20" fill="#7cd250"/><circle cx="88.9" cy="385.2" r="2.20" fill="#67cc5c"/><circle cx="89.2" cy="378.2" r="2.20" fill="#69cd5b"/><circle cx="89.9" cy="385.3" r="2.20" fill="#42be71"/><circle cx="90.4" cy="386.6" r="2.20" fill="#46c06f"/><circle cx="90.5" cy="382.6" r="2.20" fill="#23a983"/><circle cx="91.6" cy="377.4" r="2.20" fill="#4ac16d"/><circle cx="92.1" cy="385.5" r="2.20" fill="#34b679"/><circle cx="92.7" cy="381.1" r="2.20" fill="#32b67a"/><circle cx="93.1" cy="382.9" r="2.20" fill="#2db27d"/><circle cx="94.3" cy="380.2" r="2.20" fill="#58c765"/><circle cx="95.0" cy="383.8" r="2.20" fill="#29af7f"/><circle cx="95.1" cy="377.9" r="2.20" fill="#28ae80"/><circle cx="95.2" cy="385.8" r="2.20" fill="#3dbc74"/><circle cx="95.2" cy="382.1" r="2.20" fill="#32b67a"/><circle cx="97.9" cy="382.0" r="2.20" fill="#24aa83"/><circle cx="98.3" cy="388.3" r="2.20" fill="#35b779"/><circle cx="98.6" cy="392.9" r="2.20" fill="#26ad81"/><circle cx="99.1" cy="382.7" r="2.20" fill="#3dbc74"/><circle cx="99.3" cy="382.3" r="2.20" fill="#22a785"/><circle cx="100.0" cy="379.6" r="2.20" fill="#31b57b"/><circle cx="104.2" cy="384.9" r="2.20" fill="#2db27d"/><circle cx="107.4" cy="387.7" r="2.20" fill="#3bbb75"/><circle cx="108.6" cy="385.1" r="2.20" fill="#2db27d"/><circle cx="110.2" cy="382.9" r="2.20" fill="#34b679"/><circle cx="110.7" cy="387.6" r="2.20" fill="#2cb17e"/><circle cx="111.1" cy="385.8" r="2.20" fill="#27ad81"/><circle cx="114.5" cy="378.6" r="2.20" fill="#21a685"/><circle cx="115.4" cy="387.3" r="2.20" fill="#2fb47c"/><circle cx="116.4" cy="390.6" r="2.20" fill="#2ab07f"/><circle cx="118.8" cy="387.9" r="2.20" fill="#3bbb75"/><circle cx="122.3" cy="388.6" r="2.20" fill="#22a884"/><circle cx="122.9" cy="384.0" r="2.20" fill="#29af7f"/><circle cx="123.4" cy="380.9" r="2.20" fill="#2db27d"/><circle cx="125.6" cy="389.0" r="2.20" fill="#23a983"/><circle cx="126.1" cy="392.8" r="2.20" fill="#24aa83"/><circle cx="126.3" cy="384.2" r="2.20" fill="#25ab82"/><circle cx="127.1" cy="382.2" r="2.20" fill="#34b679"/><circle cx="128.5" cy="385.2" r="2.20" fill="#c8e020"/><circle cx="129.0" cy="387.6" r="2.20" fill="#aadc32"/><circle cx="129.6" cy="384.3" r="2.20" fill="#77d153"/><circle cx="130.1" cy="384.9" r="2.20" fill="#84d44b"/><circle cx="130.6" cy="389.0" r="2.20" fill="#9bd93c"/><circle cx="130.6" cy="391.9" r="2.20" fill="#b0dd2f"/><circle cx="132.4" cy="388.7" r="2.20" fill="#a0da39"/><circle cx="133.7" cy="386.3" r="2.20" fill="#addc30"/><circle cx="134.4" cy="389.2" r="2.20" fill="#89d548"/><circle cx="134.7" cy="387.5" r="2.20" fill="#e2e418"/><circle cx="135.7" cy="385.3" r="2.20" fill="#93d741"/><circle cx="135.9" cy="382.9" r="2.20" fill="#75d054"/><circle cx="135.9" cy="390.4" r="2.20" fill="#9dd93b"/><circle cx="136.7" cy="386.9" r="2.20" fill="#cde11d"/><circle cx="137.9" cy="395.8" r="2.20" fill="#84d44b"/><circle cx="138.7" cy="390.1" r="2.20" fill="#aadc32"/><circle cx="140.1" cy="387.5" r="2.20" fill="#a0da39"/><circle cx="140.7" cy="385.9" r="2.20" fill="#7cd250"/><circle cx="142.1" cy="389.4" r="2.20" fill="#1fa088"/><circle cx="142.8" cy="392.6" r="2.20" fill="#21a585"/><circle cx="143.3" cy="389.8" r="2.20" fill="#1fa188"/><circle cx="143.9" cy="395.6" r="2.20" fill="#1fa287"/><circle cx="144.0" cy="388.2" r="2.20" fill="#1f958b"/><circle cx="145.0" cy="387.9" r="2.20" fill="#1f948c"/><circle cx="146.9" cy="391.4" r="2.20" fill="#1fa187"/><circle cx="147.0" cy="382.4" r="2.20" fill="#1fa088"/><circle cx="147.4" cy="394.3" r="2.20" fill="#1fa187"/><circle cx="147.7" cy="388.2" r="2.20" fill="#25ac82"/><circle cx="149.8" cy="392.5" r="2.20" fill="#1f958b"/><circle cx="150.0" cy="391.1" r="2.20" fill="#1fa187"/><circle cx="152.3" cy="403.8" r="2.20" fill="#28ae80"/><circle cx="152.5" cy="400.7" r="2.20" fill="#1f988b"/><circle cx="154.7" cy="400.5" r="2.20" fill="#1e9c89"/><circle cx="154.9" cy="402.8" r="2.20" fill="#20938c"/><circle cx="155.5" cy="405.1" r="2.20" fill="#25ac82"/><circle cx="155.7" cy="404.3" r="2.20" fill="#24aa83"/><circle cx="156.3" cy="401.8" r="2.20" fill="#1f988b"/><circle cx="156.9" cy="404.0" r="2.20" fill="#2cb17e"/><circle cx="157.0" cy="411.6" r="2.20" fill="#1fa187"/><circle cx="157.4" cy="412.2" r="2.20" fill="#20a386"/><circle cx="157.5" cy="413.6" r="2.20" fill="#25ab82"/><circle cx="158.5" cy="404.6" r="2.20" fill="#28ae80"/><circle cx="158.8" cy="403.1" r="2.20" fill="#1f9f88"/><circle cx="164.0" cy="398.8" r="2.20" fill="#e5e419"/><circle cx="164.9" cy="403.2" r="2.20" fill="#2fb47c"/><circle cx="165.4" cy="410.5" r="2.20" fill="#2cb17e"/><circle cx="166.4" cy="402.5" r="2.20" fill="#32b67a"/><circle cx="168.1" cy="399.3" r="2.20" fill="#3bbb75"/><circle cx="169.0" cy="405.0" r="2.20" fill="#dde318"/><circle cx="169.2" cy="400.5" r="2.20" fill="#e5e419"/><circle cx="170.2" cy="411.2" r="2.20" fill="#48c16e"/><circle cx="170.5" cy="402.4" r="2.20" fill="#2cb17e"/><circle cx="171.3" cy="403.7" r="2.20" fill="#40bd72"/><circle cx="172.8" cy="407.2" r="2.20" fill="#3aba76"/><circle cx="174.5" cy="412.4" r="2.20" fill="#ece51b"/><circle cx="174.8" cy="402.7" r="2.20" fill="#4cc26c"/><circle cx="175.5" cy="398.2" r="2.20" fill="#e5e419"/><circle cx="175.8" cy="408.6" r="2.20" fill="#c0df25"/><circle cx="176.1" cy="410.1" r="2.20" fill="#32b67a"/><circle cx="176.8" cy="406.3" r="2.20" fill="#bddf26"/><circle cx="177.8" cy="406.7" r="2.20" fill="#2cb17e"/><circle cx="178.4" cy="401.6" r="2.20" fill="#3fbc73"/><circle cx="179.4" cy="407.1" r="2.20" fill="#4cc26c"/><circle cx="180.0" cy="406.2" r="2.20" fill="#48c16e"/><circle cx="180.6" cy="403.6" r="2.20" fill="#2eb37c"/><circle cx="182.0" cy="409.8" r="2.20" fill="#38b977"/><circle cx="182.2" cy="416.2" r="2.20" fill="#efe51c"/><circle cx="182.7" cy="406.6" r="2.20" fill="#32b67a"/><circle cx="183.7" cy="408.2" r="2.20" fill="#3fbc73"/><circle cx="185.6" cy="407.8" r="2.20" fill="#42be71"/><circle cx="190.8" cy="405.3" r="2.20" fill="#46c06f"/><circle cx="192.2" cy="415.3" r="2.20" fill="#7fd34e"/><circle cx="192.4" cy="408.7" r="2.20" fill="#73d056"/><circle cx="194.1" cy="412.8" r="2.20" fill="#22a785"/><circle cx="194.1" cy="408.4" r="2.20" fill="#1fa187"/><circle cx="194.4" cy="408.8" r="2.20" fill="#1f9a8a"/><circle cx="195.2" cy="411.1" r="2.20" fill="#1f9e89"/><circle cx="195.8" cy="410.9" r="2.20" fill="#21a685"/><circle cx="196.4" cy="413.2" r="2.20" fill="#21a585"/><circle cx="197.4" cy="413.4" r="2.20" fill="#1f9e89"/><circle cx="197.9" cy="412.2" r="2.20" fill="#20a486"/><circle cx="198.0" cy="410.9" r="2.20" fill="#22a884"/><circle cx="198.5" cy="413.6" r="2.20" fill="#1f948c"/><circle cx="199.8" cy="412.2" r="2.20" fill="#1f9a8a"/><circle cx="200.1" cy="415.2" r="2.20" fill="#1f968b"/><circle cx="200.3" cy="408.2" r="2.20" fill="#1f998a"/><circle cx="201.4" cy="417.3" r="2.20" fill="#1f9e89"/><circle cx="202.0" cy="412.8" r="2.20" fill="#21a585"/><circle cx="204.1" cy="407.7" r="2.20" fill="#23a983"/><circle cx="204.5" cy="415.9" r="2.20" fill="#25ab82"/><circle cx="204.6" cy="416.8" r="2.20" fill="#23a983"/><circle cx="204.7" cy="413.8" r="2.20" fill="#23a983"/><circle cx="204.7" cy="414.9" r="2.20" fill="#42be71"/><circle cx="205.1" cy="415.1" r="2.20" fill="#29af7f"/><circle cx="206.0" cy="410.8" r="2.20" fill="#22a785"/><circle cx="206.5" cy="416.9" r="2.20" fill="#20a486"/><circle cx="206.7" cy="409.0" r="2.20" fill="#27ad81"/><circle cx="207.1" cy="410.1" r="2.20" fill="#48c16e"/><circle cx="207.8" cy="403.0" r="2.20" fill="#2eb37c"/><circle cx="208.1" cy="412.6" r="2.20" fill="#21a585"/><circle cx="208.5" cy="407.7" r="2.20" fill="#2fb47c"/><circle cx="209.5" cy="413.8" r="2.20" fill="#22a884"/><circle cx="210.2" cy="402.9" r="2.20" fill="#3aba76"/><circle cx="210.3" cy="412.9" r="2.20" fill="#28ae80"/><circle cx="210.7" cy="400.9" r="2.20" fill="#42be71"/><circle cx="211.7" cy="407.4" r="2.20" fill="#3dbc74"/><circle cx="212.4" cy="407.9" r="2.20" fill="#27ad81"/><circle cx="214.1" cy="406.6" r="2.20" fill="#42be71"/><circle cx="214.7" cy="412.6" r="2.20" fill="#1e9d89"/><circle cx="215.1" cy="405.0" r="2.20" fill="#4ac16d"/><circle cx="215.2" cy="406.8" r="2.20" fill="#20a486"/><circle cx="216.4" cy="408.0" r="2.20" fill="#2ab07f"/><circle cx="217.4" cy="407.7" r="2.20" fill="#26ad81"/><circle cx="217.5" cy="407.0" r="2.20" fill="#27ad81"/><circle cx="217.9" cy="409.1" r="2.20" fill="#24aa83"/><circle cx="218.0" cy="407.1" r="2.20" fill="#2ab07f"/><circle cx="219.1" cy="412.2" r="2.20" fill="#31b57b"/><circle cx="219.4" cy="407.6" r="2.20" fill="#34b679"/><circle cx="220.9" cy="409.3" r="2.20" fill="#3bbb75"/><circle cx="221.0" cy="409.6" r="2.20" fill="#4ac16d"/><circle cx="221.2" cy="412.3" r="2.20" fill="#2cb17e"/><circle cx="221.7" cy="406.7" r="2.20" fill="#38b977"/><circle cx="221.8" cy="409.7" r="2.20" fill="#2ab07f"/><circle cx="221.9" cy="403.3" r="2.20" fill="#1fa188"/><circle cx="222.5" cy="409.1" r="2.20" fill="#37b878"/><circle cx="223.2" cy="410.6" r="2.20" fill="#21a585"/><circle cx="223.5" cy="411.3" r="2.20" fill="#26ad81"/><circle cx="223.6" cy="409.2" r="2.20" fill="#32b67a"/><circle cx="224.0" cy="405.4" r="2.20" fill="#25ac82"/><circle cx="224.1" cy="401.4" r="2.20" fill="#23a983"/><circle cx="225.7" cy="402.2" r="2.20" fill="#32b67a"/><circle cx="227.4" cy="408.2" r="2.20" fill="#3aba76"/><circle cx="227.7" cy="409.1" r="2.20" fill="#25ac82"/><circle cx="228.6" cy="409.1" r="2.20" fill="#27ad81"/><circle cx="228.7" cy="409.9" r="2.20" fill="#31b57b"/><circle cx="230.2" cy="404.8" r="2.20" fill="#2cb17e"/><circle cx="230.6" cy="408.2" r="2.20" fill="#28ae80"/><circle cx="230.8" cy="410.9" r="2.20" fill="#48c16e"/><circle cx="231.6" cy="406.8" r="2.20" fill="#28ae80"/><circle cx="232.4" cy="400.8" r="2.20" fill="#2ab07f"/><circle cx="232.9" cy="406.6" r="2.20" fill="#1e9d89"/><circle cx="234.3" cy="408.9" r="2.20" fill="#34b679"/><circle cx="234.4" cy="405.7" r="2.20" fill="#28ae80"/><circle cx="235.2" cy="404.9" r="2.20" fill="#37b878"/><circle cx="235.4" cy="403.1" r="2.20" fill="#28ae80"/><circle cx="235.4" cy="414.2" r="2.20" fill="#2db27d"/><circle cx="236.5" cy="409.5" r="2.20" fill="#2ab07f"/><circle cx="237.6" cy="404.2" r="2.20" fill="#2cb17e"/><circle cx="240.3" cy="409.3" r="2.20" fill="#29af7f"/><circle cx="240.3" cy="409.1" r="2.20" fill="#52c569"/><circle cx="241.0" cy="411.4" r="2.20" fill="#46c06f"/><circle cx="241.2" cy="404.9" r="2.20" fill="#52c569"/><circle cx="241.3" cy="411.4" r="2.20" fill="#8ed645"/><circle cx="242.1" cy="410.1" r="2.20" fill="#a5db36"/><circle cx="242.2" cy="404.1" r="2.20" fill="#c0df25"/><circle cx="243.4" cy="408.0" r="2.20" fill="#a5db36"/><circle cx="244.6" cy="407.9" r="2.20" fill="#d0e11c"/><circle cx="246.5" cy="408.0" r="2.20" fill="#a0da39"/><circle cx="247.4" cy="400.3" r="2.20" fill="#b5de2b"/><circle cx="249.2" cy="407.4" r="2.20" fill="#b5de2b"/><circle cx="249.9" cy="405.4" r="2.20" fill="#aadc32"/><circle cx="250.0" cy="409.0" r="2.20" fill="#bade28"/><circle cx="250.7" cy="407.0" r="2.20" fill="#a2da37"/><circle cx="251.3" cy="404.5" r="2.20" fill="#c2df23"/><circle cx="251.4" cy="403.3" r="2.20" fill="#9bd93c"/><circle cx="251.5" cy="405.4" r="2.20" fill="#dde318"/><circle cx="252.0" cy="407.0" r="2.20" fill="#e5e419"/><circle cx="253.6" cy="405.8" r="2.20" fill="#b5de2b"/><circle cx="253.9" cy="401.7" r="2.20" fill="#addc30"/><circle cx="254.4" cy="410.7" r="2.20" fill="#a2da37"/><circle cx="255.5" cy="408.2" r="2.20" fill="#56c667"/><circle cx="256.0" cy="405.7" r="2.20" fill="#2db27d"/><circle cx="256.4" cy="406.0" r="2.20" fill="#38b977"/><circle cx="256.8" cy="407.0" r="2.20" fill="#35b779"/><circle cx="256.9" cy="406.0" r="2.20" fill="#25ac82"/><circle cx="258.3" cy="404.3" r="2.20" fill="#24aa83"/><circle cx="258.9" cy="408.2" r="2.20" fill="#1f9e89"/><circle cx="261.9" cy="403.6" r="2.20" fill="#54c568"/><circle cx="262.0" cy="403.1" r="2.20" fill="#21a585"/><circle cx="262.8" cy="404.0" r="2.20" fill="#3dbc74"/><circle cx="263.6" cy="403.3" r="2.20" fill="#31b57b"/><circle cx="264.0" cy="404.1" r="2.20" fill="#25ac82"/><circle cx="264.4" cy="413.7" r="2.20" fill="#29af7f"/><circle cx="264.5" cy="401.9" r="2.20" fill="#24aa83"/><circle cx="265.0" cy="404.7" r="2.20" fill="#2db27d"/><circle cx="265.8" cy="405.4" r="2.20" fill="#29af7f"/><circle cx="267.0" cy="400.0" r="2.20" fill="#2db27d"/><circle cx="267.1" cy="401.8" r="2.20" fill="#25ab82"/><circle cx="268.0" cy="396.6" r="2.20" fill="#22a785"/><circle cx="268.1" cy="397.3" r="2.20" fill="#26ad81"/><circle cx="268.6" cy="393.8" r="2.20" fill="#25ab82"/><circle cx="270.3" cy="388.5" r="2.20" fill="#1f998a"/><circle cx="271.2" cy="380.9" r="2.20" fill="#1f978b"/><circle cx="274.3" cy="359.9" r="2.20" fill="#443b84"/><circle cx="275.6" cy="354.4" r="2.20" fill="#453882"/><circle cx="275.6" cy="354.3" r="2.20" fill="#39558c"/><circle cx="276.1" cy="355.2" r="2.20" fill="#3b528b"/><circle cx="276.3" cy="355.5" r="2.20" fill="#31688e"/><circle cx="276.5" cy="359.0" r="2.20" fill="#33638d"/><circle cx="277.1" cy="357.2" r="2.20" fill="#3b518b"/><circle cx="277.7" cy="362.8" r="2.20" fill="#33638d"/><circle cx="278.4" cy="362.0" r="2.20" fill="#2d708e"/><circle cx="280.6" cy="359.6" r="2.20" fill="#297b8e"/><circle cx="280.8" cy="366.3" r="2.20" fill="#2a788e"/><circle cx="281.2" cy="363.5" r="2.20" fill="#29798e"/><circle cx="281.3" cy="363.4" r="2.20" fill="#287d8e"/><circle cx="282.4" cy="373.7" r="2.20" fill="#287d8e"/><circle cx="283.1" cy="370.7" r="2.20" fill="#297a8e"/><circle cx="284.7" cy="354.8" r="2.20" fill="#287d8e"/><circle cx="284.8" cy="366.9" r="2.20" fill="#2b758e"/><circle cx="285.2" cy="366.9" r="2.20" fill="#31678e"/><circle cx="286.4" cy="365.8" r="2.20" fill="#297b8e"/><circle cx="286.8" cy="375.6" r="2.20" fill="#2e6f8e"/><circle cx="287.9" cy="364.1" r="2.20" fill="#25838e"/><circle cx="290.8" cy="364.6" r="2.20" fill="#238a8d"/><circle cx="291.2" cy="369.3" r="2.20" fill="#2e6e8e"/><circle cx="291.4" cy="374.0" r="2.20" fill="#24868e"/><circle cx="291.4" cy="361.9" r="2.20" fill="#25858e"/><circle cx="292.8" cy="367.8" r="2.20" fill="#25848e"/><circle cx="293.5" cy="367.4" r="2.20" fill="#31678e"/><circle cx="293.8" cy="371.8" r="2.20" fill="#27808e"/><circle cx="294.6" cy="379.9" r="2.20" fill="#24878e"/><circle cx="295.5" cy="373.0" r="2.20" fill="#2b748e"/><circle cx="297.1" cy="367.1" r="2.20" fill="#2b748e"/><circle cx="297.9" cy="365.6" r="2.20" fill="#2b758e"/><circle cx="298.3" cy="357.1" r="2.20" fill="#29798e"/><circle cx="298.9" cy="369.7" r="2.20" fill="#21918c"/><circle cx="302.5" cy="352.4" r="2.20" fill="#433e85"/><circle cx="303.1" cy="354.0" r="2.20" fill="#463480"/><circle cx="303.6" cy="353.5" r="2.20" fill="#472d7b"/><circle cx="304.2" cy="358.3" r="2.20" fill="#3e4a89"/><circle cx="304.5" cy="355.1" r="2.20" fill="#414287"/><circle cx="304.7" cy="358.8" r="2.20" fill="#3e4989"/><circle cx="305.9" cy="361.3" r="2.20" fill="#443983"/><circle cx="305.9" cy="359.8" r="2.20" fill="#404588"/><circle cx="306.7" cy="364.6" r="2.20" fill="#443983"/><circle cx="307.3" cy="363.1" r="2.20" fill="#3c508b"/><circle cx="307.9" cy="364.9" r="2.20" fill="#3c508b"/><circle cx="308.8" cy="369.2" r="2.20" fill="#3d4e8a"/><circle cx="309.8" cy="374.3" r="2.20" fill="#3e4c8a"/><circle cx="310.4" cy="374.6" r="2.20" fill="#453882"/><circle cx="310.5" cy="372.7" r="2.20" fill="#3e4a89"/><circle cx="310.5" cy="376.1" r="2.20" fill="#3a538b"/><circle cx="311.4" cy="379.5" r="2.20" fill="#3f4788"/><circle cx="311.5" cy="376.7" r="2.20" fill="#3c4f8a"/><circle cx="312.1" cy="378.1" r="2.20" fill="#414287"/><circle cx="312.4" cy="377.3" r="2.20" fill="#3c4f8a"/><circle cx="312.9" cy="378.8" r="2.20" fill="#3e4989"/><circle cx="313.3" cy="379.5" r="2.20" fill="#3c508b"/><circle cx="313.5" cy="380.6" r="2.20" fill="#3d4d8a"/><circle cx="313.6" cy="379.8" r="2.20" fill="#433e85"/><circle cx="315.9" cy="390.6" r="2.20" fill="#443983"/><circle cx="317.0" cy="391.3" r="2.20" fill="#433e85"/><circle cx="318.1" cy="390.0" r="2.20" fill="#3f4788"/><circle cx="319.1" cy="397.3" r="2.20" fill="#453781"/><circle cx="319.4" cy="398.7" r="2.20" fill="#443a83"/><circle cx="321.6" cy="393.5" r="2.20" fill="#404588"/><circle cx="322.8" cy="391.0" r="2.20" fill="#482576"/><circle cx="322.9" cy="400.5" r="2.20" fill="#423f85"/><circle cx="323.6" cy="396.3" r="2.20" fill="#46337f"/><circle cx="324.7" cy="399.4" r="2.20" fill="#3f4889"/><circle cx="324.8" cy="402.9" r="2.20" fill="#3c4f8a"/><circle cx="324.9" cy="395.5" r="2.20" fill="#24878e"/><circle cx="325.0" cy="399.6" r="2.20" fill="#46337f"/><circle cx="325.9" cy="395.1" r="2.20" fill="#482475"/><circle cx="326.7" cy="395.0" r="2.20" fill="#3d4e8a"/><circle cx="326.9" cy="394.7" r="2.20" fill="#3d4d8a"/><circle cx="328.0" cy="400.8" r="2.20" fill="#24868e"/><circle cx="328.2" cy="402.7" r="2.20" fill="#443983"/><circle cx="328.7" cy="400.0" r="2.20" fill="#46307e"/><circle cx="330.2" cy="398.4" r="2.20" fill="#287d8e"/><circle cx="330.5" cy="402.9" r="2.20" fill="#424186"/><circle cx="330.9" cy="402.1" r="2.20" fill="#414487"/><circle cx="334.0" cy="400.4" r="2.20" fill="#3f4788"/><circle cx="335.4" cy="392.4" r="2.20" fill="#482071"/><circle cx="335.8" cy="399.1" r="2.20" fill="#481d6f"/><circle cx="336.8" cy="398.9" r="2.20" fill="#228d8d"/><circle cx="336.8" cy="397.9" r="2.20" fill="#39568c"/><circle cx="342.8" cy="401.1" r="2.20" fill="#3e4a89"/><circle cx="344.9" cy="400.8" r="2.20" fill="#424186"/><circle cx="346.4" cy="390.0" r="2.20" fill="#423f85"/><circle cx="346.9" cy="403.1" r="2.20" fill="#3e4989"/><circle cx="347.2" cy="403.7" r="2.20" fill="#404688"/><circle cx="347.8" cy="398.0" r="2.20" fill="#3c508b"/><circle cx="349.3" cy="397.5" r="2.20" fill="#472a7a"/><circle cx="351.3" cy="404.4" r="2.20" fill="#39558c"/><circle cx="351.8" cy="396.6" r="2.20" fill="#443b84"/><circle cx="352.1" cy="397.1" r="2.20" fill="#482173"/><circle cx="352.2" cy="403.5" r="2.20" fill="#3f4788"/><circle cx="353.3" cy="397.4" r="2.20" fill="#472a7a"/><circle cx="354.9" cy="396.9" r="2.20" fill="#482677"/><circle cx="355.2" cy="399.6" r="2.20" fill="#472e7c"/><circle cx="360.1" cy="392.8" r="2.20" fill="#3e4989"/><circle cx="361.2" cy="396.8" r="2.20" fill="#482979"/><circle cx="361.2" cy="393.6" r="2.20" fill="#443983"/><circle cx="363.2" cy="396.0" r="2.20" fill="#375a8c"/><circle cx="363.4" cy="394.9" r="2.20" fill="#34608d"/><circle cx="363.6" cy="397.0" r="2.20" fill="#404688"/><circle cx="364.7" cy="391.5" r="2.20" fill="#375a8c"/><circle cx="364.7" cy="390.0" r="2.20" fill="#31668e"/><circle cx="364.9" cy="395.0" r="2.20" fill="#365c8d"/><circle cx="365.1" cy="407.9" r="2.20" fill="#3e4c8a"/><circle cx="365.4" cy="394.3" r="2.20" fill="#3c508b"/><circle cx="365.8" cy="399.7" r="2.20" fill="#443983"/><circle cx="365.9" cy="401.3" r="2.20" fill="#3d4d8a"/><circle cx="367.2" cy="401.4" r="2.20" fill="#404688"/><circle cx="368.9" cy="402.2" r="2.20" fill="#481d6f"/><circle cx="368.9" cy="397.9" r="2.20" fill="#3c508b"/><circle cx="369.8" cy="399.6" r="2.20" fill="#482374"/><circle cx="370.0" cy="394.4" r="2.20" fill="#38588c"/><circle cx="372.4" cy="399.6" r="2.20" fill="#3a548c"/><circle cx="372.5" cy="394.2" r="2.20" fill="#3d4e8a"/><circle cx="373.2" cy="395.9" r="2.20" fill="#355e8d"/><circle cx="373.3" cy="392.0" r="2.20" fill="#38588c"/><circle cx="374.7" cy="398.2" r="2.20" fill="#482173"/><circle cx="375.6" cy="398.8" r="2.20" fill="#375b8d"/><circle cx="375.8" cy="403.7" r="2.20" fill="#481d6f"/><circle cx="376.5" cy="395.3" r="2.20" fill="#46337f"/><circle cx="377.0" cy="396.6" r="2.20" fill="#218e8d"/><circle cx="382.2" cy="397.6" r="2.20" fill="#39568c"/><circle cx="382.5" cy="396.6" r="2.20" fill="#453781"/><circle cx="383.0" cy="400.2" r="2.20" fill="#443b84"/><circle cx="383.5" cy="399.2" r="2.20" fill="#39568c"/><circle cx="383.6" cy="400.8" r="2.20" fill="#25858e"/><circle cx="384.2" cy="393.4" r="2.20" fill="#306a8e"/><circle cx="384.2" cy="399.9" r="2.20" fill="#306a8e"/><circle cx="385.9" cy="396.7" r="2.20" fill="#54c568"/><circle cx="387.4" cy="395.6" r="2.20" fill="#26ad81"/><circle cx="389.0" cy="400.7" r="2.20" fill="#1fa188"/><circle cx="389.4" cy="400.1" r="2.20" fill="#3bbb75"/><circle cx="389.5" cy="403.8" r="2.20" fill="#2ab07f"/><circle cx="390.6" cy="402.6" r="2.20" fill="#23a983"/><circle cx="390.9" cy="404.4" r="2.20" fill="#21a585"/><circle cx="391.9" cy="398.5" r="2.20" fill="#21a685"/><circle cx="392.3" cy="404.6" r="2.20" fill="#22a785"/><circle cx="392.7" cy="403.6" r="2.20" fill="#21908d"/><circle cx="394.9" cy="406.4" r="2.20" fill="#31b57b"/><circle cx="395.9" cy="406.7" r="2.20" fill="#1f998a"/><circle cx="395.9" cy="402.1" r="2.20" fill="#1f9f88"/><circle cx="396.3" cy="401.1" r="2.20" fill="#1fa187"/><circle cx="397.4" cy="399.1" r="2.20" fill="#1e9d89"/><circle cx="397.4" cy="402.8" r="2.20" fill="#26818e"/><circle cx="397.6" cy="400.1" r="2.20" fill="#228c8d"/><circle cx="398.4" cy="394.5" r="2.20" fill="#23888e"/><circle cx="401.4" cy="388.6" r="2.20" fill="#218f8d"/><circle cx="401.6" cy="390.3" r="2.20" fill="#1f988b"/><circle cx="401.7" cy="389.2" r="2.20" fill="#25ac82"/><circle cx="402.2" cy="387.4" r="2.20" fill="#228c8d"/><circle cx="403.5" cy="384.5" r="2.20" fill="#23898e"/><circle cx="403.7" cy="379.7" r="2.20" fill="#297a8e"/><circle cx="404.9" cy="377.7" r="2.20" fill="#2eb37c"/><circle cx="405.8" cy="380.8" r="2.20" fill="#228d8d"/><circle cx="406.0" cy="377.8" r="2.20" fill="#228d8d"/><circle cx="407.1" cy="376.4" r="2.20" fill="#24aa83"/><circle cx="408.3" cy="379.8" r="2.20" fill="#277e8e"/><circle cx="409.6" cy="368.2" r="2.20" fill="#228c8d"/><circle cx="409.9" cy="376.7" r="2.20" fill="#238a8d"/><circle cx="411.1" cy="370.1" r="2.20" fill="#2a788e"/><circle cx="411.5" cy="369.6" r="2.20" fill="#21a585"/><circle cx="411.6" cy="379.6" r="2.20" fill="#238a8d"/><circle cx="412.2" cy="362.6" r="2.20" fill="#218f8d"/><circle cx="415.5" cy="369.0" r="2.20" fill="#24878e"/><circle cx="415.5" cy="378.0" r="2.20" fill="#2cb17e"/><circle cx="416.0" cy="375.5" r="2.20" fill="#25838e"/><circle cx="416.2" cy="373.5" r="2.20" fill="#228c8d"/><circle cx="416.7" cy="373.0" r="2.20" fill="#20928c"/><circle cx="417.9" cy="369.8" r="2.20" fill="#297a8e"/><circle cx="417.9" cy="373.8" r="2.20" fill="#26828e"/><circle cx="418.0" cy="359.1" r="2.20" fill="#2a768e"/><circle cx="418.2" cy="367.1" r="2.20" fill="#23888e"/><circle cx="418.9" cy="369.1" r="2.20" fill="#218f8d"/><circle cx="420.4" cy="363.0" r="2.20" fill="#287c8e"/><circle cx="421.4" cy="357.5" r="2.20" fill="#24868e"/><circle cx="422.8" cy="371.5" r="2.20" fill="#26818e"/><circle cx="423.4" cy="373.4" r="2.20" fill="#1f948c"/><circle cx="423.4" cy="372.8" r="2.20" fill="#228b8d"/><circle cx="423.8" cy="376.0" r="2.20" fill="#25858e"/><circle cx="425.3" cy="370.9" r="2.20" fill="#1f9a8a"/><circle cx="425.8" cy="370.0" r="2.20" fill="#1fa188"/><circle cx="426.2" cy="373.3" r="2.20" fill="#25838e"/><circle cx="427.9" cy="369.1" r="2.20" fill="#1f988b"/><circle cx="428.1" cy="366.0" r="2.20" fill="#297a8e"/><circle cx="428.6" cy="366.3" r="2.20" fill="#218e8d"/><circle cx="429.5" cy="366.7" r="2.20" fill="#1f948c"/><circle cx="430.3" cy="371.6" r="2.20" fill="#21908d"/><circle cx="432.2" cy="360.5" r="2.20" fill="#1f948c"/><circle cx="432.7" cy="373.2" r="2.20" fill="#2a778e"/><circle cx="434.3" cy="357.4" r="2.20" fill="#26828e"/><circle cx="434.5" cy="371.0" r="2.20" fill="#228b8d"/><circle cx="435.1" cy="371.9" r="2.20" fill="#23888e"/><circle cx="435.8" cy="368.7" r="2.20" fill="#2a768e"/><circle cx="99.6" cy="434.0" r="2.20" fill="#1e9c89"/><circle cx="153.8" cy="421.6" r="2.20" fill="#1e9c89"/><circle cx="193.8" cy="428.0" r="2.20" fill="#cae11f"/><circle cx="192.0" cy="481.0" r="2.20" fill="#9bd93c"/><circle cx="232.8" cy="383.6" r="2.20" fill="#2cb17e"/><circle cx="232.8" cy="388.9" r="2.20" fill="#2cb17e"/><circle cx="236.5" cy="422.0" r="2.20" fill="#7ad151"/><circle cx="394.0" cy="367.0" r="2.20" fill="#2f6c8e"/><circle cx="361.0" cy="385.0" r="2.20" fill="#463480"/><circle cx="379.0" cy="378.0" r="2.20" fill="#463480"/><circle cx="383.0" cy="380.0" r="2.20" fill="#463480"/><circle cx="380.0" cy="386.0" r="2.20" fill="#463480"/><circle cx="330.6" cy="378.4" r="2.20" fill="#463480"/><circle cx="335.4" cy="372.8" r="2.20" fill="#355f8d"/><circle cx="328.2" cy="411.2" r="2.20" fill="#482475"/><circle cx="324.2" cy="408.8" r="2.20" fill="#472a7a"/><circle cx="277.0" cy="352.0" r="2.20" fill="#463480"/><circle cx="278.6" cy="360.0" r="2.20" fill="#472a7a"/><circle cx="279.4" cy="370.4" r="2.20" fill="#463480"/></g>
<rect x="56.70" y="465.80" width="112.10" height="15.10" rx="2" ry="2" fill="#ffffff" fill-opacity="0.8" stroke="#d6d6d6" stroke-width="0.8"/>
<line x1="68.7" y1="469.4" x2="68.7" y2="477.8" stroke="#b8b8b8" stroke-width="1" stroke-opacity="0.8"/>
<text x="84.80" y="476.80" text-anchor="start" fill="#000" font-size="9.4" textLength="80.70" lengthAdjust="spacingAndGlyphs" transform="translate(84.80 476.80) skewX(1) translate(-84.80 -476.80)">±σ array slowness</text>
<rect x="52.30" y="340.50" width="384.20" height="146.00" fill="none" stroke="#262626" stroke-width="0.8"/>
<line x1="73.44" y1="486.50" x2="73.44" y2="488.30" stroke="#262626" stroke-width="0.8"/>
<line x1="101.70" y1="486.50" x2="101.70" y2="489.60" stroke="#262626" stroke-width="0.8"/>
<line x1="129.96" y1="486.50" x2="129.96" y2="488.30" stroke="#262626" stroke-width="0.8"/>
<line x1="158.22" y1="486.50" x2="158.22" y2="489.60" stroke="#262626" stroke-width="0.8"/>
<line x1="186.48" y1="486.50" x2="186.48" y2="488.30" stroke="#262626" stroke-width="0.8"/>
<line x1="214.74" y1="486.50" x2="214.74" y2="489.60" stroke="#262626" stroke-width="0.8"/>
<line x1="243.00" y1="486.50" x2="243.00" y2="488.30" stroke="#262626" stroke-width="0.8"/>
<line x1="271.26" y1="486.50" x2="271.26" y2="489.60" stroke="#262626" stroke-width="0.8"/>
<line x1="299.52" y1="486.50" x2="299.52" y2="488.30" stroke="#262626" stroke-width="0.8"/>
<line x1="327.78" y1="486.50" x2="327.78" y2="489.60" stroke="#262626" stroke-width="0.8"/>
<line x1="356.04" y1="486.50" x2="356.04" y2="488.30" stroke="#262626" stroke-width="0.8"/>
<line x1="384.30" y1="486.50" x2="384.30" y2="489.60" stroke="#262626" stroke-width="0.8"/>
<line x1="412.56" y1="486.50" x2="412.56" y2="488.30" stroke="#262626" stroke-width="0.8"/>
<line x1="49.40" y1="475.00" x2="52.30" y2="475.00" stroke="#262626" stroke-width="0.8"/>
<text x="47.50" y="478.30" text-anchor="end" fill="#000" font-size="9.4" textLength="13.66" lengthAdjust="spacingAndGlyphs" transform="translate(47.50 478.30) skewX(1) translate(-47.50 -478.30)">0.6</text>
<line x1="49.40" y1="452.60" x2="52.30" y2="452.60" stroke="#262626" stroke-width="0.8"/>
<text x="47.50" y="455.90" text-anchor="end" fill="#000" font-size="9.4" textLength="13.61" lengthAdjust="spacingAndGlyphs" transform="translate(47.50 455.90) skewX(1) translate(-47.50 -455.90)">0.8</text>
<line x1="49.40" y1="430.20" x2="52.30" y2="430.20" stroke="#262626" stroke-width="0.8"/>
<text x="47.50" y="433.50" text-anchor="end" fill="#000" font-size="9.4" textLength="13.56" lengthAdjust="spacingAndGlyphs" transform="translate(47.50 433.50) skewX(1) translate(-47.50 -433.50)">1.0</text>
<line x1="49.40" y1="407.80" x2="52.30" y2="407.80" stroke="#262626" stroke-width="0.8"/>
<text x="47.50" y="411.10" text-anchor="end" fill="#000" font-size="9.4" textLength="13.35" lengthAdjust="spacingAndGlyphs" transform="translate(47.50 411.10) skewX(1) translate(-47.50 -411.10)">1.2</text>
<line x1="49.40" y1="385.40" x2="52.30" y2="385.40" stroke="#262626" stroke-width="0.8"/>
<text x="47.50" y="388.70" text-anchor="end" fill="#000" font-size="9.4" textLength="13.55" lengthAdjust="spacingAndGlyphs" transform="translate(47.50 388.70) skewX(1) translate(-47.50 -388.70)">1.4</text>
<line x1="49.40" y1="363.00" x2="52.30" y2="363.00" stroke="#262626" stroke-width="0.8"/>
<text x="47.50" y="366.30" text-anchor="end" fill="#000" font-size="9.4" textLength="13.65" lengthAdjust="spacingAndGlyphs" transform="translate(47.50 366.30) skewX(1) translate(-47.50 -366.30)">1.6</text>
<line x1="49.40" y1="340.60" x2="52.30" y2="340.60" stroke="#262626" stroke-width="0.8"/>
<text x="47.50" y="343.90" text-anchor="end" fill="#000" font-size="9.4" textLength="13.60" lengthAdjust="spacingAndGlyphs" transform="translate(47.50 343.90) skewX(1) translate(-47.50 -343.90)">1.8</text>
<text x="19.60" y="413.50" text-anchor="middle" fill="#000" font-size="9.4" textLength="44.92" lengthAdjust="spacingAndGlyphs" transform="rotate(-90 19.6 413.5) translate(19.60 413.50) skewX(1) translate(-19.60 -413.50)">array HHZ</text>
<text x="28.90" y="413.50" text-anchor="middle" fill="#000" font-size="9.4" textLength="70.40" lengthAdjust="spacingAndGlyphs" transform="rotate(-90 28.9 413.5) translate(28.90 413.50) skewX(1) translate(-28.90 -413.50)">slowness [s/km]</text>
<text x="6.50" y="344.00" text-anchor="start" fill="#000" font-size="11.3" textLength="13.89" lengthAdjust="spacingAndGlyphs" transform="translate(6.50 344.00) skewX(1) translate(-6.50 -344.00)">(c)</text>
<defs><linearGradient id="cb2" x1="0" y1="0" x2="0" y2="1"><stop offset="0.0000" stop-color="#fde725"/><stop offset="0.0417" stop-color="#e5e419"/><stop offset="0.0833" stop-color="#c8e020"/><stop offset="0.1250" stop-color="#addc30"/><stop offset="0.1667" stop-color="#90d743"/><stop offset="0.2083" stop-color="#75d054"/><stop offset="0.2500" stop-color="#5ec962"/><stop offset="0.2917" stop-color="#48c16e"/><stop offset="0.3333" stop-color="#35b779"/><stop offset="0.3750" stop-color="#28ae80"/><stop offset="0.4167" stop-color="#20a486"/><stop offset="0.4583" stop-color="#1f9a8a"/><stop offset="0.5000" stop-color="#21918c"/><stop offset="0.5417" stop-color="#24868e"/><stop offset="0.5833" stop-color="#287c8e"/><stop offset="0.6250" stop-color="#2c728e"/><stop offset="0.6667" stop-color="#31688e"/><stop offset="0.7083" stop-color="#365d8d"/><stop offset="0.7500" stop-color="#3b528b"/><stop offset="0.7917" stop-color="#404688"/><stop offset="0.8333" stop-color="#443983"/><stop offset="0.8750" stop-color="#472d7b"/><stop offset="0.9167" stop-color="#481f70"/><stop offset="0.9583" stop-color="#471063"/><stop offset="1.0000" stop-color="#440154"/></linearGradient></defs>
<rect x="441.00" y="340.50" width="15.50" height="146.00" fill="url(#cb2)" fill-opacity="1"/>
<rect x="441.00" y="340.50" width="15.50" height="146.00" fill="none" stroke="#262626" stroke-width="0.8"/>
<line x1="456.50" y1="455.70" x2="459.40" y2="455.70" stroke="#262626" stroke-width="0.8"/>
<text x="461.70" y="459.00" text-anchor="start" fill="#000" font-size="9.4" textLength="21.96" lengthAdjust="spacingAndGlyphs" transform="translate(461.70 459.00) skewX(1) translate(-461.70 -459.00)">1800</text>
<line x1="456.50" y1="424.27" x2="459.40" y2="424.27" stroke="#262626" stroke-width="0.8"/>
<text x="461.70" y="427.57" text-anchor="start" fill="#000" font-size="9.4" textLength="22.01" lengthAdjust="spacingAndGlyphs" transform="translate(461.70 427.57) skewX(1) translate(-461.70 -427.57)">2000</text>
<line x1="456.50" y1="392.83" x2="459.40" y2="392.83" stroke="#262626" stroke-width="0.8"/>
<text x="461.70" y="396.13" text-anchor="start" fill="#000" font-size="9.4" textLength="22.01" lengthAdjust="spacingAndGlyphs" transform="translate(461.70 396.13) skewX(1) translate(-461.70 -396.13)">2200</text>
<line x1="456.50" y1="361.40" x2="459.40" y2="361.40" stroke="#262626" stroke-width="0.8"/>
<text x="461.70" y="364.70" text-anchor="start" fill="#000" font-size="9.4" textLength="22.01" lengthAdjust="spacingAndGlyphs" transform="translate(461.70 364.70) skewX(1) translate(-461.70 -364.70)">2400</text>
<text x="493.50" y="413.50" text-anchor="middle" fill="#000" font-size="9.4" textLength="110.68" lengthAdjust="spacingAndGlyphs" transform="rotate(-90 493.5 413.5) translate(493.50 413.50) skewX(1) translate(-493.50 -413.50)">hypocentral distance [m]</text>
<line x1="52.30" y1="650.00" x2="436.50" y2="650.00" stroke="#e3e3e3" stroke-width="0.8"/>
<line x1="52.30" y1="620.80" x2="436.50" y2="620.80" stroke="#e3e3e3" stroke-width="0.8"/>
<line x1="52.30" y1="591.60" x2="436.50" y2="591.60" stroke="#e3e3e3" stroke-width="0.8"/>
<line x1="52.30" y1="562.40" x2="436.50" y2="562.40" stroke="#e3e3e3" stroke-width="0.8"/>
<line x1="52.30" y1="533.20" x2="436.50" y2="533.20" stroke="#e3e3e3" stroke-width="0.8"/>
<line x1="52.30" y1="504.00" x2="436.50" y2="504.00" stroke="#e3e3e3" stroke-width="0.8"/>
<line x1="101.70" y1="504.00" x2="101.70" y2="650.00" stroke="#e3e3e3" stroke-width="0.8"/>
<line x1="158.22" y1="504.00" x2="158.22" y2="650.00" stroke="#e3e3e3" stroke-width="0.8"/>
<line x1="214.74" y1="504.00" x2="214.74" y2="650.00" stroke="#e3e3e3" stroke-width="0.8"/>
<line x1="271.26" y1="504.00" x2="271.26" y2="650.00" stroke="#e3e3e3" stroke-width="0.8"/>
<line x1="327.78" y1="504.00" x2="327.78" y2="650.00" stroke="#e3e3e3" stroke-width="0.8"/>
<line x1="384.30" y1="504.00" x2="384.30" y2="650.00" stroke="#e3e3e3" stroke-width="0.8"/>
<line x1="158.22" y1="504.50" x2="158.22" y2="650.00" stroke="#6e6e6e" stroke-width="1.2" stroke-dasharray="4.5 1.5"/>
<line x1="214.74" y1="504.50" x2="214.74" y2="650.00" stroke="#ffff20" stroke-width="1.2" stroke-dasharray="4.5 1.5"/>
<line x1="299.52" y1="504.50" x2="299.52" y2="650.00" stroke="#d62728" stroke-width="1.2" stroke-dasharray="4.5 1.5"/>
<line x1="384.30" y1="504.50" x2="384.30" y2="650.00" stroke="#ffa500" stroke-width="1.2" stroke-dasharray="4.5 1.5"/>
<path d="M52.50 569.10V600.34M53.35 565.06V593.75M54.20 553.42V602.87M55.05 567.00V590.68M55.90 554.30V583.36M56.75 563.78V581.78M57.60 560.18V604.58M58.45 549.78V595.88M59.30 567.86V594.32M60.15 572.99V590.99M61.00 565.86V584.42M61.85 552.23V598.59M62.70 563.58V585.56M63.55 556.78V594.91M64.40 554.87V600.98M65.25 566.42V586.70M66.10 559.15V595.31M66.95 556.16V595.17M67.80 570.89V599.53M68.65 553.03V604.84M69.50 563.76V589.14M70.35 554.68V594.96M71.20 563.54V597.22M72.05 553.31V604.02M72.90 572.20V590.76M73.75 560.04V596.64M74.60 564.52V597.14M75.45 561.10V590.86M76.30 554.49V589.41M77.15 555.63V596.41M78.00 559.49V589.41M78.85 563.39V585.71M79.70 565.61V595.11M80.55 568.60V590.22M81.40 569.15V587.15M82.25 561.61V590.56M83.10 561.20V598.30M83.95 554.57V599.53M84.80 557.62V598.95M85.65 563.22V597.28M86.50 557.12V595.88M87.35 556.29V595.75M88.20 558.79V603.82M89.05 566.38V585.74M89.90 560.53V593.77M90.75 566.10V596.24M91.60 554.77V598.28M92.45 559.16V591.93M93.30 556.91V609.42M94.15 560.40V598.26M95.00 553.04V594.36M95.85 558.62V595.87M96.70 557.96V592.41M97.55 557.14V595.49M98.40 562.46V601.35M99.25 559.62V582.54M100.10 558.78V583.80M100.95 559.00V598.31M101.80 555.66V593.34M102.65 564.84V582.84M103.50 559.37V583.54M104.35 572.02V590.40M105.20 555.32V605.64M106.05 558.48V592.29M106.90 556.73V590.81M107.75 560.86V595.32M108.60 554.89V603.43M109.45 557.65V595.88M110.30 556.01V594.45M111.15 551.88V591.01M112.00 563.97V587.90M112.85 571.32V593.92M113.70 553.18V590.73M114.55 555.75V580.47M115.40 558.14V580.74M116.25 555.19V593.18M117.10 556.49V600.29M117.95 557.97V599.14M118.80 548.94V596.40M119.65 559.12V585.85M120.50 557.67V601.17M121.35 553.20V596.26M122.20 567.92V585.92M123.05 563.47V583.35M123.90 561.07V587.02M124.75 558.16V598.35M125.60 553.69V587.42M126.45 551.83V586.26M127.30 556.54V593.62M128.15 551.36V581.25M129.00 555.94V593.49M129.85 567.65V586.10M130.70 561.44V587.48M131.55 553.75V592.44M132.40 561.16V588.05M133.25 562.75V582.52M134.10 546.62V587.06M134.95 562.37V580.37M135.80 551.39V585.36M136.65 553.45V599.70M137.50 564.72V582.72M138.35 550.67V590.07M139.20 552.55V591.20M140.05 542.10V596.83M140.90 558.98V591.49M141.75 537.31V595.56M142.60 543.74V591.69M143.45 564.98V587.25M144.30 555.54V584.93M145.15 552.11V589.51M146.00 555.30V595.91M146.85 545.04V592.06M147.70 552.86V581.98M148.55 564.17V587.81M149.40 549.24V583.23M150.25 555.11V573.11M151.10 559.55V583.57M151.95 551.56V580.51M152.80 554.29V574.80M153.65 537.52V599.68M154.50 549.51V591.84M155.35 546.35V579.41M156.20 542.76V585.37M157.05 550.58V584.36M157.90 554.86V581.16M158.75 542.93V583.17M159.60 554.04V573.15M160.45 555.06V579.84M161.30 546.78V592.15M162.15 551.68V587.27M163.00 546.99V590.49M163.85 543.46V581.06M164.70 556.32V574.70M165.55 554.77V583.29M166.40 548.22V594.57M167.25 545.42V577.68M168.10 555.13V598.65M168.95 558.28V592.59M169.80 555.90V575.48M170.65 551.26V595.83M171.50 553.92V583.75M172.35 563.65V581.65M173.20 544.63V597.07M174.05 564.21V595.91M174.90 565.82V592.51M175.75 561.26V579.26M176.60 562.55V591.02M177.45 563.50V600.42M178.30 565.77V583.77M179.15 565.43V593.99M180.00 565.23V583.23M180.85 555.32V600.08M181.70 555.00V588.99M182.55 552.94V597.36M183.40 547.05V600.57M184.25 559.47V585.03M185.10 562.13V580.13M185.95 547.15V592.05M186.80 561.52V584.50M187.65 563.97V581.97M188.50 550.87V589.95M189.35 561.78V585.24M190.20 546.33V601.52M191.05 548.08V589.71M191.90 555.60V573.60M192.75 555.24V588.47M193.60 557.22V582.93M194.45 546.80V589.22M195.30 559.67V589.75M196.15 538.60V586.56M197.00 549.71V590.55M197.85 538.05V598.58M198.70 548.20V587.00M199.55 547.68V573.34M200.40 548.40V580.64M201.25 556.58V580.17M202.10 563.55V583.33M202.95 548.32V583.74M203.80 543.76V583.15M204.65 555.77V584.78M205.50 558.23V591.72M206.35 559.02V579.98M207.20 550.43V575.32M208.05 554.35V581.33M208.90 562.89V580.89M209.75 556.45V574.45M210.60 561.53V587.16M211.45 558.49V577.65M212.30 559.53V586.97M213.15 562.11V580.11M214.00 556.11V593.20M214.85 549.12V596.31M215.70 555.18V585.50M216.55 555.06V592.49M217.40 554.23V587.05M218.25 549.53V590.41M219.10 559.08V591.41M219.95 569.80V587.80M220.80 545.23V598.04M221.65 562.21V580.21M222.50 558.43V597.21M223.35 548.22V589.74M224.20 560.82V578.82M225.05 559.92V586.31M225.90 556.15V583.92M226.75 554.17V587.03M227.60 553.73V594.83M228.45 564.00V582.00M229.30 555.64V584.78M230.15 559.32V601.61M231.00 551.36V594.77M231.85 549.36V593.61M232.70 553.80V595.09M233.55 563.87V592.56M234.40 567.83V587.00M235.25 553.73V598.76M236.10 570.90V611.34M236.95 567.40V587.18M237.80 571.94V589.94M238.65 556.52V592.77M239.50 548.24V598.70M240.35 569.17V594.23M241.20 566.97V584.97M242.05 554.47V591.67M242.90 562.19V598.28M243.75 566.49V591.59M244.60 570.43V588.43M245.45 553.48V603.04M246.30 569.82V596.04M247.15 552.99V601.36M248.00 575.69V593.69M248.85 559.69V594.26M249.70 571.99V593.63M250.55 566.80V594.90M251.40 568.56V605.44M252.25 564.41V592.07M253.10 562.56V602.42M253.95 557.89V592.17M254.80 562.92V585.47M255.65 565.41V583.41M256.50 566.70V586.51M257.35 560.33V601.54M258.20 569.25V587.35M259.05 573.03V591.03M259.90 552.32V592.64M260.75 559.99V603.27M261.60 569.63V587.63M262.45 558.49V596.83M263.30 565.30V588.33M264.15 565.67V583.67M265.00 564.12V601.06M265.85 566.27V584.94M266.70 558.51V597.04M267.55 560.65V590.76M268.40 562.30V580.30M269.25 556.49V599.91M270.10 558.78V582.28M270.95 561.10V589.45M271.80 548.67V588.21M272.65 545.46V592.36M273.50 555.49V582.28M274.35 546.93V580.17M275.20 545.85V568.31M276.05 554.28V572.28M276.90 544.60V582.69M277.75 539.26V580.63M278.60 537.55V587.23M279.45 543.30V575.89M280.30 531.34V589.50M281.15 552.71V577.07M282.00 547.18V574.18M282.85 544.56V582.64M283.70 564.31V582.31M284.55 550.18V590.95M285.40 549.34V583.05M286.25 550.56V586.68M287.10 566.60V584.60M287.95 562.86V593.89M288.80 560.49V600.99M289.65 560.32V602.68M290.50 564.42V600.65M291.35 555.44V599.09M292.20 553.73V614.55M293.05 559.47V592.67M293.90 578.04V598.54M294.75 554.69V615.75M295.60 579.94V604.96M296.45 569.02V618.87M297.30 572.52V612.71M298.15 578.14V603.30M299.00 565.86V610.30M299.85 561.45V619.32M300.70 577.16V595.16M301.55 563.55V602.53M302.40 564.21V600.67M303.25 548.29V601.91M304.10 550.44V594.64M304.95 560.11V581.38M305.80 564.59V582.59M306.65 541.99V582.87M307.50 538.56V583.26M308.35 543.42V573.68M309.20 546.68V579.75M310.05 540.48V563.19M310.90 524.75V568.28M311.75 529.98V565.73M312.60 519.78V563.76M313.45 521.44V553.09M314.30 528.56V554.17M315.15 527.91V555.67M316.00 508.74V566.17M316.85 516.78V566.98M317.70 514.78V562.18M318.55 515.25V565.65M319.40 529.08V562.21M320.25 520.28V555.53M321.10 514.77V533.89M321.95 514.59V558.09M322.80 509.13V558.66M323.65 524.57V555.53M324.50 511.70V568.65M325.35 525.18V549.34M326.20 525.38V559.37M327.05 518.83V556.19M327.90 514.12V562.97M328.75 519.44V570.05M329.60 532.42V558.89M330.45 521.41V567.91M331.30 509.87V580.91M332.15 533.08V562.04M333.00 531.53V576.51M333.85 534.26V567.49M334.70 530.42V576.45M335.55 539.39V571.77M336.40 532.33V578.46M337.25 548.53V566.53M338.10 539.37V566.06M338.95 536.92V575.07M339.80 539.29V582.70M340.65 538.60V574.88M341.50 547.96V576.61M342.35 528.74V583.52M343.20 546.21V564.21M344.05 538.57V569.93M344.90 527.17V575.79M345.75 536.04V568.87M346.60 532.26V573.48M347.45 529.25V568.86M348.30 533.07V565.00M349.15 528.82V565.12M350.00 535.21V556.11M350.85 537.42V570.54M351.70 532.58V566.96M352.55 532.22V568.49M353.40 537.76V564.10M354.25 540.54V568.23M355.10 546.17V564.17M355.95 524.31V572.21M356.80 541.11V569.06M357.65 549.01V572.46M358.50 554.52V572.52M359.35 551.39V579.59M360.20 548.03V594.54M361.05 536.21V591.51M361.90 553.23V571.23M362.75 526.19V580.65M363.60 544.78V573.01M364.45 542.59V565.48M365.30 541.34V576.33M366.15 541.98V575.60M367.00 524.21V570.34M367.85 540.61V573.76M368.70 550.52V583.36M369.55 550.52V586.46M370.40 543.06V585.15M371.25 540.83V591.57M372.10 554.85V591.60M372.95 552.18V594.95M373.80 548.66V595.40M374.65 552.06V595.46M375.50 554.18V591.41M376.35 565.87V592.41M377.20 562.98V592.61M378.05 569.67V597.07M378.90 556.75V611.09M379.75 576.20V594.20M380.60 561.68V610.24M381.45 561.39V610.78M382.30 570.25V611.39M383.15 574.34V604.28M384.00 572.46V609.32M384.85 574.61V615.76M385.70 575.42V612.32M386.55 588.85V606.85M387.40 582.09V608.64M388.25 582.49V615.33M389.10 587.44V613.13M389.95 585.36V624.86M390.80 580.41V616.74M391.65 573.64V630.25M392.50 590.13V621.59M393.35 592.42V626.21M394.20 583.00V637.76M395.05 588.70V635.00M395.90 585.03V610.98M396.75 559.34V606.60M397.60 560.81V590.81M398.45 552.54V599.24M399.30 536.47V606.96M400.15 555.46V596.84M401.00 547.73V603.09M401.85 553.45V605.06M402.70 548.89V611.36M403.55 552.52V591.71M404.40 550.52V596.90M405.25 556.00V609.24M406.10 553.44V595.51M406.95 562.60V602.01M407.80 554.12V603.74M408.65 545.70V601.22M409.50 555.01V608.19M410.35 558.88V596.21M411.20 554.58V604.32M412.05 558.12V606.58M412.90 557.55V620.33M413.75 560.99V600.45M414.60 567.97V611.65M415.45 555.77V622.62M416.30 560.72V605.35M417.15 566.95V604.64M418.00 560.93V604.36M418.85 568.09V611.15M419.70 564.96V608.00M420.55 549.68V616.30M421.40 559.57V600.71M422.25 574.64V607.08M423.10 559.39V623.79M423.95 561.00V613.06M424.80 558.80V614.63M425.65 565.22V617.74M426.50 568.63V624.41M427.35 568.05V625.97M428.20 561.85V615.49M429.05 578.48V611.82M429.90 572.82V624.52M430.75 575.70V616.01M431.60 567.96V622.81M432.45 568.35V620.76M433.30 554.86V622.84M434.15 580.12V605.75M435.00 573.05V615.03M435.85 579.26V620.48" stroke="#bdbdbd" stroke-width="1.2" stroke-opacity="0.7" fill="none"/>
<path d="M397.5 610V650M83.5 590V615" stroke="#b8b8b8" stroke-width="1" stroke-opacity="0.7" fill="none"/>
<g fill-opacity="1"><circle cx="53.0" cy="581.9" r="2.20" fill="#e44f64"/><circle cx="53.4" cy="579.7" r="2.20" fill="#e44f64"/><circle cx="54.2" cy="572.4" r="2.20" fill="#d6456c"/><circle cx="54.3" cy="585.9" r="2.20" fill="#eb5760"/><circle cx="55.0" cy="580.8" r="2.20" fill="#de4968"/><circle cx="55.9" cy="574.4" r="2.20" fill="#e24d66"/><circle cx="56.2" cy="583.0" r="2.20" fill="#d0416f"/><circle cx="56.7" cy="582.0" r="2.20" fill="#e24d66"/><circle cx="57.4" cy="581.5" r="2.20" fill="#d3436e"/><circle cx="57.9" cy="581.9" r="2.20" fill="#d0416f"/><circle cx="58.6" cy="585.8" r="2.20" fill="#df4a68"/><circle cx="59.4" cy="574.6" r="2.20" fill="#e95462"/><circle cx="62.3" cy="584.1" r="2.20" fill="#d8456c"/><circle cx="62.3" cy="588.5" r="2.20" fill="#d5446d"/><circle cx="62.8" cy="580.5" r="2.20" fill="#e85362"/><circle cx="64.3" cy="569.6" r="2.20" fill="#e75263"/><circle cx="67.4" cy="578.6" r="2.20" fill="#df4a68"/><circle cx="69.5" cy="574.2" r="2.20" fill="#e24d66"/><circle cx="69.8" cy="574.1" r="2.20" fill="#d6456c"/><circle cx="71.0" cy="576.8" r="2.20" fill="#d3436e"/><circle cx="71.3" cy="585.2" r="2.20" fill="#d3436e"/><circle cx="72.5" cy="575.4" r="2.20" fill="#dc4869"/><circle cx="75.0" cy="578.4" r="2.20" fill="#e55064"/><circle cx="76.1" cy="581.7" r="2.20" fill="#dc4869"/><circle cx="76.6" cy="576.6" r="2.20" fill="#e04c67"/><circle cx="77.4" cy="581.6" r="2.20" fill="#e55064"/><circle cx="77.6" cy="576.0" r="2.20" fill="#cc3f71"/><circle cx="77.8" cy="587.2" r="2.20" fill="#e85362"/><circle cx="77.9" cy="579.3" r="2.20" fill="#e34e65"/><circle cx="78.7" cy="575.9" r="2.20" fill="#d6456c"/><circle cx="79.1" cy="576.7" r="2.20" fill="#de4968"/><circle cx="79.3" cy="575.4" r="2.20" fill="#d2426f"/><circle cx="80.4" cy="576.7" r="2.20" fill="#e44f64"/><circle cx="80.8" cy="575.9" r="2.20" fill="#e04c67"/><circle cx="81.0" cy="569.3" r="2.20" fill="#de4968"/><circle cx="82.8" cy="577.3" r="2.20" fill="#d5446d"/><circle cx="84.7" cy="570.5" r="2.20" fill="#e34e65"/><circle cx="84.9" cy="574.4" r="2.20" fill="#e44f64"/><circle cx="86.1" cy="575.9" r="2.20" fill="#e55064"/><circle cx="86.2" cy="576.3" r="2.20" fill="#d2426f"/><circle cx="87.3" cy="577.3" r="2.20" fill="#de4968"/><circle cx="88.8" cy="580.3" r="2.20" fill="#dc4869"/><circle cx="89.9" cy="575.9" r="2.20" fill="#e85362"/><circle cx="90.0" cy="582.4" r="2.20" fill="#e75263"/><circle cx="90.3" cy="581.8" r="2.20" fill="#e44f64"/><circle cx="91.2" cy="580.7" r="2.20" fill="#e85362"/><circle cx="91.7" cy="579.1" r="2.20" fill="#e24d66"/><circle cx="93.0" cy="577.9" r="2.20" fill="#f2625d"/><circle cx="94.8" cy="577.3" r="2.20" fill="#df4a68"/><circle cx="95.5" cy="575.7" r="2.20" fill="#e04c67"/><circle cx="96.5" cy="578.2" r="2.20" fill="#d6456c"/><circle cx="96.6" cy="568.9" r="2.20" fill="#e34e65"/><circle cx="97.1" cy="570.4" r="2.20" fill="#e34e65"/><circle cx="97.7" cy="577.7" r="2.20" fill="#ea5661"/><circle cx="97.8" cy="584.1" r="2.20" fill="#e44f64"/><circle cx="98.4" cy="574.8" r="2.20" fill="#d6456c"/><circle cx="101.8" cy="573.4" r="2.20" fill="#e44f64"/><circle cx="101.8" cy="568.1" r="2.20" fill="#e44f64"/><circle cx="103.3" cy="576.5" r="2.20" fill="#eb5760"/><circle cx="104.1" cy="575.0" r="2.20" fill="#e95462"/><circle cx="104.2" cy="573.4" r="2.20" fill="#e44f64"/><circle cx="104.4" cy="569.0" r="2.20" fill="#e95462"/><circle cx="105.9" cy="582.7" r="2.20" fill="#eb5760"/><circle cx="106.0" cy="577.7" r="2.20" fill="#e34e65"/><circle cx="106.0" cy="582.2" r="2.20" fill="#e44f64"/><circle cx="106.3" cy="579.5" r="2.20" fill="#eb5760"/><circle cx="107.1" cy="572.0" r="2.20" fill="#f2625d"/><circle cx="107.9" cy="576.0" r="2.20" fill="#ee5b5e"/><circle cx="108.1" cy="577.8" r="2.20" fill="#ed5a5f"/><circle cx="108.8" cy="574.2" r="2.20" fill="#f1605d"/><circle cx="109.2" cy="574.1" r="2.20" fill="#ef5d5e"/><circle cx="109.3" cy="573.0" r="2.20" fill="#e44f64"/><circle cx="110.7" cy="572.7" r="2.20" fill="#ec5860"/><circle cx="111.4" cy="575.5" r="2.20" fill="#f56b5c"/><circle cx="111.9" cy="568.3" r="2.20" fill="#f1605d"/><circle cx="112.1" cy="566.1" r="2.20" fill="#e95462"/><circle cx="112.3" cy="573.2" r="2.20" fill="#df4a68"/><circle cx="112.9" cy="567.5" r="2.20" fill="#f1605d"/><circle cx="115.4" cy="575.3" r="2.20" fill="#ef5d5e"/><circle cx="115.5" cy="571.6" r="2.20" fill="#f9785d"/><circle cx="116.3" cy="574.1" r="2.20" fill="#eb5760"/><circle cx="117.7" cy="581.7" r="2.20" fill="#f3655c"/><circle cx="118.2" cy="573.0" r="2.20" fill="#f66c5c"/><circle cx="120.4" cy="574.9" r="2.20" fill="#f4675c"/><circle cx="122.3" cy="575.0" r="2.20" fill="#ea5661"/><circle cx="123.6" cy="577.9" r="2.20" fill="#f2625d"/><circle cx="124.4" cy="569.5" r="2.20" fill="#ec5860"/><circle cx="125.4" cy="577.6" r="2.20" fill="#ef5d5e"/><circle cx="125.6" cy="573.8" r="2.20" fill="#f4695c"/><circle cx="127.4" cy="573.9" r="2.20" fill="#e85362"/><circle cx="129.2" cy="575.8" r="2.20" fill="#f66c5c"/><circle cx="129.9" cy="576.7" r="2.20" fill="#f8745c"/><circle cx="130.7" cy="574.4" r="2.20" fill="#f56b5c"/><circle cx="130.8" cy="579.5" r="2.20" fill="#f05f5e"/><circle cx="131.6" cy="579.9" r="2.20" fill="#f8765c"/><circle cx="132.0" cy="575.8" r="2.20" fill="#f9785d"/><circle cx="133.9" cy="575.6" r="2.20" fill="#ed5a5f"/><circle cx="133.9" cy="576.8" r="2.20" fill="#f4675c"/><circle cx="134.3" cy="573.7" r="2.20" fill="#f3655c"/><circle cx="134.5" cy="577.6" r="2.20" fill="#f4695c"/><circle cx="135.7" cy="568.7" r="2.20" fill="#f4695c"/><circle cx="140.4" cy="573.5" r="2.20" fill="#ef5d5e"/><circle cx="140.4" cy="568.6" r="2.20" fill="#f1605d"/><circle cx="140.8" cy="567.7" r="2.20" fill="#f4695c"/><circle cx="141.5" cy="574.4" r="2.20" fill="#f97b5d"/><circle cx="142.7" cy="574.9" r="2.20" fill="#f7705c"/><circle cx="143.2" cy="574.5" r="2.20" fill="#f8745c"/><circle cx="144.4" cy="567.8" r="2.20" fill="#f66c5c"/><circle cx="144.4" cy="570.7" r="2.20" fill="#f2645c"/><circle cx="144.5" cy="567.5" r="2.20" fill="#f1605d"/><circle cx="145.1" cy="568.1" r="2.20" fill="#ec5860"/><circle cx="145.8" cy="571.2" r="2.20" fill="#f3655c"/><circle cx="147.0" cy="569.2" r="2.20" fill="#f4695c"/><circle cx="147.2" cy="571.7" r="2.20" fill="#f05f5e"/><circle cx="147.2" cy="568.3" r="2.20" fill="#ea5661"/><circle cx="147.5" cy="559.3" r="2.20" fill="#e85362"/><circle cx="149.1" cy="574.7" r="2.20" fill="#e95462"/><circle cx="150.3" cy="570.0" r="2.20" fill="#f9785d"/><circle cx="150.5" cy="566.1" r="2.20" fill="#f9795d"/><circle cx="150.9" cy="575.8" r="2.20" fill="#f7725c"/><circle cx="154.2" cy="578.2" r="2.20" fill="#f7705c"/><circle cx="155.5" cy="565.3" r="2.20" fill="#f7705c"/><circle cx="156.7" cy="566.6" r="2.20" fill="#ef5d5e"/><circle cx="158.3" cy="563.2" r="2.20" fill="#fb8761"/><circle cx="159.0" cy="566.3" r="2.20" fill="#f66c5c"/><circle cx="159.1" cy="565.8" r="2.20" fill="#f66e5c"/><circle cx="160.5" cy="567.7" r="2.20" fill="#f4695c"/><circle cx="160.9" cy="563.7" r="2.20" fill="#ef5d5e"/><circle cx="161.9" cy="565.7" r="2.20" fill="#f7725c"/><circle cx="162.7" cy="577.6" r="2.20" fill="#f97b5d"/><circle cx="162.8" cy="576.6" r="2.20" fill="#f8745c"/><circle cx="163.0" cy="568.6" r="2.20" fill="#f1605d"/><circle cx="163.6" cy="569.0" r="2.20" fill="#ec5860"/><circle cx="163.8" cy="567.7" r="2.20" fill="#fb835f"/><circle cx="164.5" cy="570.4" r="2.20" fill="#fa7d5e"/><circle cx="165.1" cy="567.5" r="2.20" fill="#f1605d"/><circle cx="167.7" cy="568.2" r="2.20" fill="#f7705c"/><circle cx="170.0" cy="576.2" r="2.20" fill="#fc9065"/><circle cx="170.3" cy="568.1" r="2.20" fill="#f8745c"/><circle cx="170.4" cy="570.6" r="2.20" fill="#f8745c"/><circle cx="170.7" cy="566.2" r="2.20" fill="#f9795d"/><circle cx="173.0" cy="573.8" r="2.20" fill="#fa815f"/><circle cx="173.2" cy="567.3" r="2.20" fill="#f97b5d"/><circle cx="173.4" cy="565.2" r="2.20" fill="#fc8961"/><circle cx="173.7" cy="568.3" r="2.20" fill="#f97b5d"/><circle cx="174.3" cy="570.9" r="2.20" fill="#f9785d"/><circle cx="174.9" cy="568.6" r="2.20" fill="#f56b5c"/><circle cx="175.4" cy="580.6" r="2.20" fill="#fb835f"/><circle cx="175.5" cy="574.4" r="2.20" fill="#fd9a6a"/><circle cx="177.0" cy="573.5" r="2.20" fill="#fc8a62"/><circle cx="177.3" cy="574.1" r="2.20" fill="#fd9266"/><circle cx="178.8" cy="576.7" r="2.20" fill="#fc8a62"/><circle cx="180.0" cy="574.1" r="2.20" fill="#fc8a62"/><circle cx="180.1" cy="580.0" r="2.20" fill="#f66e5c"/><circle cx="180.5" cy="574.4" r="2.20" fill="#fb835f"/><circle cx="181.2" cy="573.4" r="2.20" fill="#f7705c"/><circle cx="182.5" cy="577.2" r="2.20" fill="#fa7d5e"/><circle cx="182.7" cy="573.1" r="2.20" fill="#fa815f"/><circle cx="182.9" cy="567.0" r="2.20" fill="#fb835f"/><circle cx="185.2" cy="565.3" r="2.20" fill="#fa7d5e"/><circle cx="186.2" cy="571.3" r="2.20" fill="#fc8961"/><circle cx="186.4" cy="572.8" r="2.20" fill="#fb8761"/><circle cx="187.6" cy="581.1" r="2.20" fill="#fc8c63"/><circle cx="188.0" cy="566.8" r="2.20" fill="#fa815f"/><circle cx="189.5" cy="568.6" r="2.20" fill="#fb8761"/><circle cx="189.5" cy="568.8" r="2.20" fill="#fa7d5e"/><circle cx="190.6" cy="577.8" r="2.20" fill="#fc8961"/><circle cx="191.9" cy="569.0" r="2.20" fill="#fb8560"/><circle cx="193.3" cy="568.9" r="2.20" fill="#fd9a6a"/><circle cx="193.4" cy="571.8" r="2.20" fill="#fd9668"/><circle cx="193.9" cy="556.5" r="2.20" fill="#fc8c63"/><circle cx="194.1" cy="574.0" r="2.20" fill="#fe9f6d"/><circle cx="194.4" cy="569.5" r="2.20" fill="#f8745c"/><circle cx="194.9" cy="571.7" r="2.20" fill="#fa815f"/><circle cx="195.7" cy="561.3" r="2.20" fill="#fa815f"/><circle cx="196.3" cy="573.1" r="2.20" fill="#fd9668"/><circle cx="197.3" cy="571.2" r="2.20" fill="#f97b5d"/><circle cx="198.4" cy="578.3" r="2.20" fill="#f9795d"/><circle cx="199.3" cy="567.1" r="2.20" fill="#f8765c"/><circle cx="202.1" cy="573.2" r="2.20" fill="#fc8e64"/><circle cx="206.4" cy="572.6" r="2.20" fill="#fc8961"/><circle cx="206.9" cy="568.7" r="2.20" fill="#fc8a62"/><circle cx="207.1" cy="561.1" r="2.20" fill="#fd9467"/><circle cx="207.2" cy="572.9" r="2.20" fill="#fb835f"/><circle cx="207.7" cy="569.2" r="2.20" fill="#fc8c63"/><circle cx="208.7" cy="576.1" r="2.20" fill="#fc8e64"/><circle cx="209.8" cy="570.0" r="2.20" fill="#fb835f"/><circle cx="210.3" cy="563.6" r="2.20" fill="#fa815f"/><circle cx="210.4" cy="570.3" r="2.20" fill="#fb8560"/><circle cx="210.8" cy="570.4" r="2.20" fill="#fd9266"/><circle cx="211.6" cy="572.1" r="2.20" fill="#fc8c63"/><circle cx="212.4" cy="573.3" r="2.20" fill="#fc8a62"/><circle cx="212.5" cy="570.4" r="2.20" fill="#fc8e64"/><circle cx="213.2" cy="563.5" r="2.20" fill="#fd9869"/><circle cx="215.9" cy="566.0" r="2.20" fill="#fd9266"/><circle cx="218.1" cy="572.1" r="2.20" fill="#fd9668"/><circle cx="219.3" cy="572.6" r="2.20" fill="#fa7d5e"/><circle cx="219.7" cy="577.0" r="2.20" fill="#fc8a62"/><circle cx="220.7" cy="573.3" r="2.20" fill="#fc8961"/><circle cx="222.0" cy="577.4" r="2.20" fill="#fd9266"/><circle cx="223.0" cy="574.4" r="2.20" fill="#f8765c"/><circle cx="224.7" cy="572.2" r="2.20" fill="#fc8a62"/><circle cx="227.0" cy="582.1" r="2.20" fill="#fc8c63"/><circle cx="227.7" cy="574.4" r="2.20" fill="#fd9668"/><circle cx="231.8" cy="575.5" r="2.20" fill="#fc8961"/><circle cx="231.9" cy="576.6" r="2.20" fill="#f8765c"/><circle cx="231.9" cy="580.0" r="2.20" fill="#fc8e64"/><circle cx="233.3" cy="575.2" r="2.20" fill="#f97b5d"/><circle cx="236.2" cy="578.1" r="2.20" fill="#fd9a6a"/><circle cx="236.8" cy="574.6" r="2.20" fill="#f97b5d"/><circle cx="239.1" cy="579.7" r="2.20" fill="#f8765c"/><circle cx="240.1" cy="568.9" r="2.20" fill="#fb835f"/><circle cx="240.3" cy="575.4" r="2.20" fill="#fb8560"/><circle cx="241.5" cy="576.0" r="2.20" fill="#fc8c63"/><circle cx="242.7" cy="577.5" r="2.20" fill="#fa815f"/><circle cx="244.5" cy="576.6" r="2.20" fill="#fc9065"/><circle cx="245.2" cy="582.6" r="2.20" fill="#fd9467"/><circle cx="246.7" cy="581.6" r="2.20" fill="#f2625d"/><circle cx="246.9" cy="574.5" r="2.20" fill="#fb8560"/><circle cx="247.8" cy="579.7" r="2.20" fill="#f8765c"/><circle cx="249.6" cy="584.9" r="2.20" fill="#fc8c63"/><circle cx="250.1" cy="576.4" r="2.20" fill="#fc8a62"/><circle cx="252.5" cy="577.7" r="2.20" fill="#fa7f5e"/><circle cx="253.3" cy="581.3" r="2.20" fill="#fb835f"/><circle cx="253.8" cy="573.3" r="2.20" fill="#fa815f"/><circle cx="253.8" cy="578.8" r="2.20" fill="#f97b5d"/><circle cx="254.4" cy="584.6" r="2.20" fill="#f97b5d"/><circle cx="257.8" cy="586.9" r="2.20" fill="#fd9467"/><circle cx="258.2" cy="575.6" r="2.20" fill="#fc8a62"/><circle cx="259.1" cy="584.6" r="2.20" fill="#fb8761"/><circle cx="260.2" cy="574.7" r="2.20" fill="#fc8a62"/><circle cx="260.6" cy="588.1" r="2.20" fill="#f8765c"/><circle cx="260.8" cy="582.1" r="2.20" fill="#fc8961"/><circle cx="262.4" cy="579.4" r="2.20" fill="#fb835f"/><circle cx="264.5" cy="578.7" r="2.20" fill="#fd9668"/><circle cx="265.6" cy="582.6" r="2.20" fill="#fa7d5e"/><circle cx="265.9" cy="586.7" r="2.20" fill="#f9795d"/><circle cx="266.4" cy="583.0" r="2.20" fill="#fc8a62"/><circle cx="268.8" cy="583.4" r="2.20" fill="#fc8c63"/><circle cx="269.4" cy="581.3" r="2.20" fill="#fc8961"/><circle cx="270.4" cy="578.4" r="2.20" fill="#fb8761"/><circle cx="271.1" cy="581.6" r="2.20" fill="#f7705c"/><circle cx="271.9" cy="575.6" r="2.20" fill="#f8745c"/><circle cx="272.3" cy="570.2" r="2.20" fill="#f2625d"/><circle cx="274.0" cy="567.1" r="2.20" fill="#dc4869"/><circle cx="274.5" cy="558.3" r="2.20" fill="#e95462"/><circle cx="274.8" cy="556.9" r="2.20" fill="#ec5860"/><circle cx="275.2" cy="561.3" r="2.20" fill="#e24d66"/><circle cx="276.4" cy="560.8" r="2.20" fill="#e85362"/><circle cx="276.9" cy="559.5" r="2.20" fill="#e44f64"/><circle cx="277.8" cy="560.4" r="2.20" fill="#f1605d"/><circle cx="278.3" cy="565.8" r="2.20" fill="#f4675c"/><circle cx="279.6" cy="563.0" r="2.20" fill="#f05f5e"/><circle cx="280.3" cy="554.7" r="2.20" fill="#f66c5c"/><circle cx="282.1" cy="566.1" r="2.20" fill="#f56b5c"/><circle cx="282.3" cy="566.4" r="2.20" fill="#fa7d5e"/><circle cx="284.3" cy="567.3" r="2.20" fill="#f66c5c"/><circle cx="287.5" cy="574.5" r="2.20" fill="#d5446d"/><circle cx="287.7" cy="571.7" r="2.20" fill="#e04c67"/><circle cx="288.1" cy="576.8" r="2.20" fill="#d9466b"/><circle cx="288.7" cy="573.9" r="2.20" fill="#d5446d"/><circle cx="289.1" cy="576.3" r="2.20" fill="#dc4869"/><circle cx="290.2" cy="582.8" r="2.20" fill="#de4968"/><circle cx="291.5" cy="581.6" r="2.20" fill="#d8456c"/><circle cx="292.3" cy="582.8" r="2.20" fill="#d5446d"/><circle cx="293.5" cy="590.8" r="2.20" fill="#ba3878"/><circle cx="294.4" cy="585.1" r="2.20" fill="#d5446d"/><circle cx="294.9" cy="591.5" r="2.20" fill="#c73d73"/><circle cx="295.8" cy="589.7" r="2.20" fill="#d9466b"/><circle cx="299.4" cy="588.5" r="2.20" fill="#b83779"/><circle cx="360.1" cy="567.8" r="2.20" fill="#892881"/><circle cx="360.2" cy="564.1" r="2.20" fill="#ca3e72"/><circle cx="360.6" cy="563.2" r="2.20" fill="#902a81"/><circle cx="361.0" cy="570.0" r="2.20" fill="#ca3e72"/><circle cx="363.1" cy="566.4" r="2.20" fill="#8b2981"/><circle cx="363.4" cy="573.6" r="2.20" fill="#862781"/><circle cx="363.6" cy="566.4" r="2.20" fill="#ca3e72"/><circle cx="364.6" cy="551.3" r="2.20" fill="#ca3e72"/><circle cx="366.3" cy="552.8" r="2.20" fill="#992d80"/><circle cx="366.8" cy="556.1" r="2.20" fill="#8e2a81"/><circle cx="367.7" cy="555.1" r="2.20" fill="#ca3e72"/><circle cx="367.9" cy="555.7" r="2.20" fill="#982d80"/><circle cx="368.8" cy="554.2" r="2.20" fill="#932b80"/><circle cx="369.6" cy="561.5" r="2.20" fill="#992d80"/><circle cx="369.9" cy="567.5" r="2.20" fill="#8c2981"/><circle cx="370.9" cy="567.6" r="2.20" fill="#842681"/><circle cx="371.8" cy="565.9" r="2.20" fill="#ca3e72"/><circle cx="372.3" cy="574.3" r="2.20" fill="#912b81"/><circle cx="372.5" cy="572.1" r="2.20" fill="#8e2a81"/><circle cx="375.1" cy="578.8" r="2.20" fill="#ca3e72"/><circle cx="375.4" cy="569.2" r="2.20" fill="#ca3e72"/><circle cx="376.5" cy="568.2" r="2.20" fill="#ca3e72"/><circle cx="376.5" cy="576.0" r="2.20" fill="#ca3e72"/><circle cx="377.5" cy="585.6" r="2.20" fill="#8b2981"/><circle cx="378.0" cy="586.1" r="2.20" fill="#ca3e72"/><circle cx="378.0" cy="577.2" r="2.20" fill="#892881"/><circle cx="380.0" cy="585.0" r="2.20" fill="#7e2482"/><circle cx="380.1" cy="589.2" r="2.20" fill="#8e2a81"/><circle cx="380.3" cy="591.4" r="2.20" fill="#832681"/><circle cx="383.9" cy="590.5" r="2.20" fill="#8c2981"/><circle cx="384.0" cy="592.5" r="2.20" fill="#892881"/><circle cx="384.9" cy="591.4" r="2.20" fill="#ca3e72"/><circle cx="385.4" cy="589.8" r="2.20" fill="#812581"/><circle cx="387.1" cy="597.4" r="2.20" fill="#8b2981"/><circle cx="387.5" cy="595.8" r="2.20" fill="#882781"/><circle cx="387.6" cy="587.0" r="2.20" fill="#882781"/><circle cx="388.6" cy="596.6" r="2.20" fill="#7b2382"/><circle cx="389.1" cy="596.4" r="2.20" fill="#ca3e72"/><circle cx="390.2" cy="598.4" r="2.20" fill="#762181"/><circle cx="392.7" cy="609.3" r="2.20" fill="#8e2a81"/><circle cx="397.1" cy="573.2" r="2.20" fill="#c23b75"/><circle cx="397.3" cy="571.8" r="2.20" fill="#bf3a77"/><circle cx="398.7" cy="571.8" r="2.20" fill="#b3367a"/><circle cx="398.7" cy="581.3" r="2.20" fill="#aa337d"/><circle cx="399.1" cy="574.5" r="2.20" fill="#c23b75"/><circle cx="400.2" cy="574.8" r="2.20" fill="#b3367a"/><circle cx="400.3" cy="573.5" r="2.20" fill="#b83779"/><circle cx="400.5" cy="570.0" r="2.20" fill="#bc3978"/><circle cx="401.2" cy="573.2" r="2.20" fill="#b73779"/><circle cx="404.1" cy="579.6" r="2.20" fill="#b0357b"/><circle cx="404.8" cy="579.1" r="2.20" fill="#b3367a"/><circle cx="405.4" cy="579.4" r="2.20" fill="#ba3878"/><circle cx="406.0" cy="579.1" r="2.20" fill="#ae347b"/><circle cx="408.4" cy="576.3" r="2.20" fill="#ae347b"/><circle cx="411.0" cy="582.1" r="2.20" fill="#bf3a77"/><circle cx="411.5" cy="586.4" r="2.20" fill="#b2357b"/><circle cx="412.8" cy="582.9" r="2.20" fill="#a5317e"/><circle cx="413.2" cy="573.0" r="2.20" fill="#ad347c"/><circle cx="413.2" cy="579.9" r="2.20" fill="#a5317e"/><circle cx="413.4" cy="575.1" r="2.20" fill="#bc3978"/><circle cx="414.0" cy="579.8" r="2.20" fill="#a3307e"/><circle cx="414.5" cy="593.9" r="2.20" fill="#b73779"/><circle cx="414.8" cy="582.4" r="2.20" fill="#bc3978"/><circle cx="415.7" cy="581.0" r="2.20" fill="#c53c74"/><circle cx="417.3" cy="578.5" r="2.20" fill="#a5317e"/><circle cx="417.6" cy="585.0" r="2.20" fill="#ab337c"/><circle cx="419.7" cy="593.5" r="2.20" fill="#a1307e"/><circle cx="420.3" cy="584.1" r="2.20" fill="#b3367a"/><circle cx="420.6" cy="590.2" r="2.20" fill="#bc3978"/><circle cx="420.7" cy="589.3" r="2.20" fill="#c83e73"/><circle cx="421.2" cy="585.8" r="2.20" fill="#b3367a"/><circle cx="421.7" cy="592.3" r="2.20" fill="#ad347c"/><circle cx="421.7" cy="587.0" r="2.20" fill="#ab337c"/><circle cx="422.0" cy="585.6" r="2.20" fill="#a5317e"/><circle cx="423.5" cy="586.9" r="2.20" fill="#a02f7f"/><circle cx="424.0" cy="591.6" r="2.20" fill="#9e2f7f"/><circle cx="424.2" cy="599.6" r="2.20" fill="#c03a76"/><circle cx="424.9" cy="595.6" r="2.20" fill="#ad347c"/><circle cx="426.5" cy="588.7" r="2.20" fill="#ba3878"/><circle cx="427.5" cy="593.0" r="2.20" fill="#b3367a"/><circle cx="429.7" cy="590.1" r="2.20" fill="#b73779"/><circle cx="429.8" cy="589.8" r="2.20" fill="#ad347c"/><circle cx="430.1" cy="585.5" r="2.20" fill="#a5317e"/><circle cx="431.3" cy="597.1" r="2.20" fill="#a6317d"/><circle cx="432.7" cy="593.4" r="2.20" fill="#b3367a"/><circle cx="433.7" cy="595.9" r="2.20" fill="#b73779"/><circle cx="434.5" cy="584.8" r="2.20" fill="#b0357b"/><circle cx="434.8" cy="599.5" r="2.20" fill="#992d80"/><circle cx="316.2" cy="528.2" r="2.20" fill="#bf3a77"/><circle cx="327.0" cy="528.6" r="2.20" fill="#bf3a77"/><circle cx="310.6" cy="533.8" r="2.20" fill="#bf3a77"/><circle cx="323.4" cy="532.6" r="2.20" fill="#bf3a77"/><circle cx="325.8" cy="535.0" r="2.20" fill="#bf3a77"/><circle cx="315.0" cy="538.0" r="2.20" fill="#b73779"/><circle cx="312.0" cy="542.2" r="2.20" fill="#a1307e"/><circle cx="313.8" cy="542.2" r="2.20" fill="#942c80"/><circle cx="320.4" cy="541.6" r="2.20" fill="#a1307e"/><circle cx="327.6" cy="540.4" r="2.20" fill="#a1307e"/><circle cx="328.8" cy="543.4" r="2.20" fill="#a1307e"/><circle cx="318.6" cy="545.8" r="2.20" fill="#a1307e"/><circle cx="315.6" cy="546.4" r="2.20" fill="#942c80"/><circle cx="319.8" cy="547.6" r="2.20" fill="#a1307e"/><circle cx="309.6" cy="548.2" r="2.20" fill="#942c80"/><circle cx="312.0" cy="548.2" r="2.20" fill="#a1307e"/><circle cx="328.8" cy="547.6" r="2.20" fill="#a1307e"/><circle cx="333.6" cy="542.2" r="2.20" fill="#942c80"/><circle cx="334.2" cy="548.2" r="2.20" fill="#942c80"/><circle cx="338.4" cy="545.8" r="2.20" fill="#942c80"/><circle cx="342.0" cy="542.8" r="2.20" fill="#942c80"/><circle cx="349.2" cy="543.4" r="2.20" fill="#a1307e"/><circle cx="345.0" cy="548.8" r="2.20" fill="#a1307e"/><circle cx="342.0" cy="548.8" r="2.20" fill="#a1307e"/><circle cx="346.8" cy="550.6" r="2.20" fill="#a1307e"/><circle cx="352.8" cy="548.8" r="2.20" fill="#a1307e"/><circle cx="355.2" cy="550.6" r="2.20" fill="#a1307e"/><circle cx="339.6" cy="551.8" r="2.20" fill="#942c80"/><circle cx="339.6" cy="554.8" r="2.20" fill="#942c80"/><circle cx="344.4" cy="556.0" r="2.20" fill="#a1307e"/><circle cx="349.8" cy="560.2" r="2.20" fill="#942c80"/><circle cx="352.8" cy="553.6" r="2.20" fill="#a1307e"/><circle cx="338.4" cy="560.8" r="2.20" fill="#942c80"/><circle cx="336.0" cy="563.8" r="2.20" fill="#942c80"/><circle cx="331.8" cy="562.6" r="2.20" fill="#b73779"/><circle cx="330.0" cy="564.4" r="2.20" fill="#942c80"/><circle cx="332.4" cy="566.2" r="2.20" fill="#942c80"/><circle cx="336.0" cy="569.2" r="2.20" fill="#942c80"/><circle cx="331.2" cy="577.0" r="2.20" fill="#942c80"/><circle cx="335.4" cy="575.2" r="2.20" fill="#942c80"/><circle cx="307.8" cy="552.4" r="2.20" fill="#b73779"/><circle cx="307.8" cy="554.8" r="2.20" fill="#b73779"/><circle cx="306.0" cy="565.0" r="2.20" fill="#942c80"/><circle cx="304.8" cy="568.0" r="2.20" fill="#942c80"/><circle cx="303.6" cy="572.2" r="2.20" fill="#a1307e"/><circle cx="307.2" cy="571.6" r="2.20" fill="#942c80"/><circle cx="304.2" cy="575.8" r="2.20" fill="#942c80"/><circle cx="357.6" cy="565.6" r="2.20" fill="#942c80"/><circle cx="358.8" cy="570.4" r="2.20" fill="#942c80"/><circle cx="358.8" cy="575.2" r="2.20" fill="#942c80"/><circle cx="302.0" cy="580.0" r="2.20" fill="#942c80"/><circle cx="301.0" cy="585.0" r="2.20" fill="#942c80"/><circle cx="305.0" cy="560.0" r="2.20" fill="#a1307e"/><circle cx="309.0" cy="540.0" r="2.20" fill="#b73779"/><circle cx="322.0" cy="537.0" r="2.20" fill="#b73779"/><circle cx="340.0" cy="540.0" r="2.20" fill="#a1307e"/><circle cx="350.0" cy="546.0" r="2.20" fill="#a1307e"/><circle cx="354.0" cy="556.0" r="2.20" fill="#942c80"/><circle cx="347.0" cy="556.0" r="2.20" fill="#942c80"/><circle cx="343.0" cy="562.0" r="2.20" fill="#942c80"/><circle cx="329.0" cy="570.0" r="2.20" fill="#942c80"/><circle cx="333.0" cy="571.0" r="2.20" fill="#942c80"/><circle cx="58.2" cy="593.5" r="2.20" fill="#ca3e72"/><circle cx="83.2" cy="596.4" r="2.20" fill="#b73779"/><circle cx="83.9" cy="600.3" r="2.20" fill="#ad347c"/><circle cx="397.5" cy="637.3" r="2.20" fill="#51127c"/><circle cx="396.6" cy="556.6" r="2.20" fill="#ca3e72"/><circle cx="394.7" cy="560.3" r="2.20" fill="#d6456c"/><circle cx="395.6" cy="577.2" r="2.20" fill="#e44f64"/><circle cx="368.4" cy="533.5" r="2.20" fill="#ca3e72"/><circle cx="366.6" cy="544.4" r="2.20" fill="#b73779"/><circle cx="369.4" cy="544.8" r="2.20" fill="#b73779"/><circle cx="366.6" cy="554.7" r="2.20" fill="#ad347c"/><circle cx="364.7" cy="564.0" r="2.20" fill="#d6456c"/><circle cx="363.8" cy="569.0" r="2.20" fill="#d6456c"/><circle cx="384.0" cy="567.8" r="2.20" fill="#8c2981"/><circle cx="386.3" cy="613.8" r="2.20" fill="#8c2981"/><circle cx="391.0" cy="608.0" r="2.20" fill="#8c2981"/><circle cx="394.7" cy="602.5" r="2.20" fill="#8c2981"/><circle cx="236.0" cy="568.4" r="2.20" fill="#fc8961"/><circle cx="257.6" cy="570.8" r="2.20" fill="#f9795d"/><circle cx="226.0" cy="574.8" r="2.20" fill="#a1307e"/></g>
<rect x="56.80" y="508.50" width="124.20" height="16.00" rx="2" ry="2" fill="#ffffff" fill-opacity="0.8" stroke="#d6d6d6" stroke-width="0.8"/>
<line x1="69.4" y1="512.4" x2="69.4" y2="520.8" stroke="#b8b8b8" stroke-width="1" stroke-opacity="0.8"/>
<text x="85.70" y="519.50" text-anchor="start" fill="#000" font-size="9.4" textLength="93.18" lengthAdjust="spacingAndGlyphs" transform="translate(85.70 519.50) skewX(1) translate(-85.70 -519.50)">±σ 6C phase velocity</text>
<rect x="52.30" y="504.00" width="384.20" height="146.00" fill="none" stroke="#262626" stroke-width="0.8"/>
<line x1="73.44" y1="650.00" x2="73.44" y2="651.80" stroke="#262626" stroke-width="0.8"/>
<line x1="101.70" y1="650.00" x2="101.70" y2="653.10" stroke="#262626" stroke-width="0.8"/>
<line x1="129.96" y1="650.00" x2="129.96" y2="651.80" stroke="#262626" stroke-width="0.8"/>
<line x1="158.22" y1="650.00" x2="158.22" y2="653.10" stroke="#262626" stroke-width="0.8"/>
<line x1="186.48" y1="650.00" x2="186.48" y2="651.80" stroke="#262626" stroke-width="0.8"/>
<line x1="214.74" y1="650.00" x2="214.74" y2="653.10" stroke="#262626" stroke-width="0.8"/>
<line x1="243.00" y1="650.00" x2="243.00" y2="651.80" stroke="#262626" stroke-width="0.8"/>
<line x1="271.26" y1="650.00" x2="271.26" y2="653.10" stroke="#262626" stroke-width="0.8"/>
<line x1="299.52" y1="650.00" x2="299.52" y2="651.80" stroke="#262626" stroke-width="0.8"/>
<line x1="327.78" y1="650.00" x2="327.78" y2="653.10" stroke="#262626" stroke-width="0.8"/>
<line x1="356.04" y1="650.00" x2="356.04" y2="651.80" stroke="#262626" stroke-width="0.8"/>
<line x1="384.30" y1="650.00" x2="384.30" y2="653.10" stroke="#262626" stroke-width="0.8"/>
<line x1="412.56" y1="650.00" x2="412.56" y2="651.80" stroke="#262626" stroke-width="0.8"/>
<line x1="49.40" y1="650.00" x2="52.30" y2="650.00" stroke="#262626" stroke-width="0.8"/>
<text x="47.50" y="653.30" text-anchor="end" fill="#000" font-size="9.4" textLength="19.01" lengthAdjust="spacingAndGlyphs" transform="translate(47.50 653.30) skewX(1) translate(-47.50 -653.30)">0.25</text>
<line x1="49.40" y1="620.80" x2="52.30" y2="620.80" stroke="#262626" stroke-width="0.8"/>
<text x="47.50" y="624.10" text-anchor="end" fill="#000" font-size="9.4" textLength="19.16" lengthAdjust="spacingAndGlyphs" transform="translate(47.50 624.10) skewX(1) translate(-47.50 -624.10)">0.30</text>
<line x1="49.40" y1="591.60" x2="52.30" y2="591.60" stroke="#262626" stroke-width="0.8"/>
<text x="47.50" y="594.90" text-anchor="end" fill="#000" font-size="9.4" textLength="19.01" lengthAdjust="spacingAndGlyphs" transform="translate(47.50 594.90) skewX(1) translate(-47.50 -594.90)">0.35</text>
<line x1="49.40" y1="562.40" x2="52.30" y2="562.40" stroke="#262626" stroke-width="0.8"/>
<text x="47.50" y="565.70" text-anchor="end" fill="#000" font-size="9.4" textLength="19.16" lengthAdjust="spacingAndGlyphs" transform="translate(47.50 565.70) skewX(1) translate(-47.50 -565.70)">0.40</text>
<line x1="49.40" y1="533.20" x2="52.30" y2="533.20" stroke="#262626" stroke-width="0.8"/>
<text x="47.50" y="536.50" text-anchor="end" fill="#000" font-size="9.4" textLength="19.01" lengthAdjust="spacingAndGlyphs" transform="translate(47.50 536.50) skewX(1) translate(-47.50 -536.50)">0.45</text>
<line x1="49.40" y1="504.00" x2="52.30" y2="504.00" stroke="#262626" stroke-width="0.8"/>
<text x="47.50" y="507.30" text-anchor="end" fill="#000" font-size="9.4" textLength="19.18" lengthAdjust="spacingAndGlyphs" transform="translate(47.50 507.30) skewX(1) translate(-47.50 -507.30)">0.50</text>
<text x="14.80" y="577.00" text-anchor="middle" fill="#000" font-size="9.4" textLength="11.45" lengthAdjust="spacingAndGlyphs" transform="rotate(-90 14.8 577) translate(14.80 577.00) skewX(1) translate(-14.80 -577.00)">6C</text>
<text x="23.50" y="577.00" text-anchor="middle" fill="#000" font-size="9.4" textLength="94.44" lengthAdjust="spacingAndGlyphs" transform="rotate(-90 23.5 577) translate(23.50 577.00) skewX(1) translate(-23.50 -577.00)">phase velocity [km/s]</text>
<text x="6.50" y="507.80" text-anchor="start" fill="#000" font-size="11.3" textLength="14.82" lengthAdjust="spacingAndGlyphs" transform="translate(6.50 507.80) skewX(1) translate(-6.50 -507.80)">(d)</text>
<defs><linearGradient id="cb3" x1="0" y1="0" x2="0" y2="1"><stop offset="0.0000" stop-color="#fcfdbf"/><stop offset="0.0417" stop-color="#fdebac"/><stop offset="0.0833" stop-color="#fed799"/><stop offset="0.1250" stop-color="#fec488"/><stop offset="0.1667" stop-color="#feb078"/><stop offset="0.2083" stop-color="#fd9b6b"/><stop offset="0.2500" stop-color="#fc8961"/><stop offset="0.2917" stop-color="#f8745c"/><stop offset="0.3333" stop-color="#f1605d"/><stop offset="0.3750" stop-color="#e75263"/><stop offset="0.4167" stop-color="#d8456c"/><stop offset="0.4583" stop-color="#c73d73"/><stop offset="0.5000" stop-color="#b73779"/><stop offset="0.5417" stop-color="#a5317e"/><stop offset="0.5833" stop-color="#932b80"/><stop offset="0.6250" stop-color="#832681"/><stop offset="0.6667" stop-color="#721f81"/><stop offset="0.7083" stop-color="#601880"/><stop offset="0.7500" stop-color="#51127c"/><stop offset="0.7917" stop-color="#3f0f72"/><stop offset="0.8333" stop-color="#2c115f"/><stop offset="0.8750" stop-color="#1d1147"/><stop offset="0.9167" stop-color="#100b2d"/><stop offset="0.9583" stop-color="#050416"/><stop offset="1.0000" stop-color="#000004"/></linearGradient></defs>
<rect x="441.00" y="504.00" width="15.50" height="146.00" fill="url(#cb3)" fill-opacity="1"/>
<rect x="441.00" y="504.00" width="15.50" height="146.00" fill="none" stroke="#262626" stroke-width="0.8"/>
<line x1="456.50" y1="650.00" x2="459.40" y2="650.00" stroke="#262626" stroke-width="0.8"/>
<text x="461.70" y="653.30" text-anchor="start" fill="#000" font-size="9.4" textLength="13.56" lengthAdjust="spacingAndGlyphs" transform="translate(461.70 653.30) skewX(1) translate(-461.70 -653.30)">0.4</text>
<line x1="456.50" y1="625.67" x2="459.40" y2="625.67" stroke="#262626" stroke-width="0.8"/>
<text x="461.70" y="628.97" text-anchor="start" fill="#000" font-size="9.4" textLength="13.42" lengthAdjust="spacingAndGlyphs" transform="translate(461.70 628.97) skewX(1) translate(-461.70 -628.97)">0.5</text>
<line x1="456.50" y1="601.33" x2="459.40" y2="601.33" stroke="#262626" stroke-width="0.8"/>
<text x="461.70" y="604.63" text-anchor="start" fill="#000" font-size="9.4" textLength="13.66" lengthAdjust="spacingAndGlyphs" transform="translate(461.70 604.63) skewX(1) translate(-461.70 -604.63)">0.6</text>
<line x1="456.50" y1="577.00" x2="459.40" y2="577.00" stroke="#262626" stroke-width="0.8"/>
<text x="461.70" y="580.30" text-anchor="start" fill="#000" font-size="9.4" textLength="13.52" lengthAdjust="spacingAndGlyphs" transform="translate(461.70 580.30) skewX(1) translate(-461.70 -580.30)">0.7</text>
<line x1="456.50" y1="552.67" x2="459.40" y2="552.67" stroke="#262626" stroke-width="0.8"/>
<text x="461.70" y="555.97" text-anchor="start" fill="#000" font-size="9.4" textLength="13.61" lengthAdjust="spacingAndGlyphs" transform="translate(461.70 555.97) skewX(1) translate(-461.70 -555.97)">0.8</text>
<line x1="456.50" y1="528.33" x2="459.40" y2="528.33" stroke="#262626" stroke-width="0.8"/>
<text x="461.70" y="531.63" text-anchor="start" fill="#000" font-size="9.4" textLength="13.62" lengthAdjust="spacingAndGlyphs" transform="translate(461.70 531.63) skewX(1) translate(-461.70 -531.63)">0.9</text>
<line x1="456.50" y1="504.00" x2="459.40" y2="504.00" stroke="#262626" stroke-width="0.8"/>
<text x="461.70" y="507.30" text-anchor="start" fill="#000" font-size="9.4" textLength="13.56" lengthAdjust="spacingAndGlyphs" transform="translate(461.70 507.30) skewX(1) translate(-461.70 -507.30)">1.0</text>
<text x="485.80" y="577.00" text-anchor="middle" fill="#000" font-size="9.4" textLength="94.11" lengthAdjust="spacingAndGlyphs" transform="rotate(-90 485.8 577) translate(485.80 577.00) skewX(1) translate(-485.80 -577.00)">maximum correlation</text>
<g transform="translate(101.70 671.00) rotate(-30)">
<text x="0.00" y="3.30" text-anchor="middle" fill="#000" font-size="9.4" textLength="50.55" lengthAdjust="spacingAndGlyphs" transform="translate(0.00 3.30) skewX(1) translate(0.00 -3.30)">2019-09-02</text>
</g>
<g transform="translate(158.22 671.00) rotate(-30)">
<text x="0.00" y="3.30" text-anchor="middle" fill="#000" font-size="9.4" textLength="50.73" lengthAdjust="spacingAndGlyphs" transform="translate(0.00 3.30) skewX(1) translate(0.00 -3.30)">2019-09-04</text>
</g>
<g transform="translate(214.74 671.00) rotate(-30)">
<text x="0.00" y="3.30" text-anchor="middle" fill="#000" font-size="9.4" textLength="50.83" lengthAdjust="spacingAndGlyphs" transform="translate(0.00 3.30) skewX(1) translate(0.00 -3.30)">2019-09-06</text>
</g>
<g transform="translate(271.26 671.00) rotate(-30)">
<text x="0.00" y="3.30" text-anchor="middle" fill="#000" font-size="9.4" textLength="50.77" lengthAdjust="spacingAndGlyphs" transform="translate(0.00 3.30) skewX(1) translate(0.00 -3.30)">2019-09-08</text>
</g>
<g transform="translate(327.78 671.00) rotate(-30)">
<text x="0.00" y="3.30" text-anchor="middle" fill="#000" font-size="9.4" textLength="50.75" lengthAdjust="spacingAndGlyphs" transform="translate(0.00 3.30) skewX(1) translate(0.00 -3.30)">2019-09-10</text>
</g>
<g transform="translate(384.30 671.00) rotate(-30)">
<text x="0.00" y="3.30" text-anchor="middle" fill="#000" font-size="9.4" textLength="50.56" lengthAdjust="spacingAndGlyphs" transform="translate(0.00 3.30) skewX(1) translate(0.00 -3.30)">2019-09-12</text>
</g>
</svg></body></html>
